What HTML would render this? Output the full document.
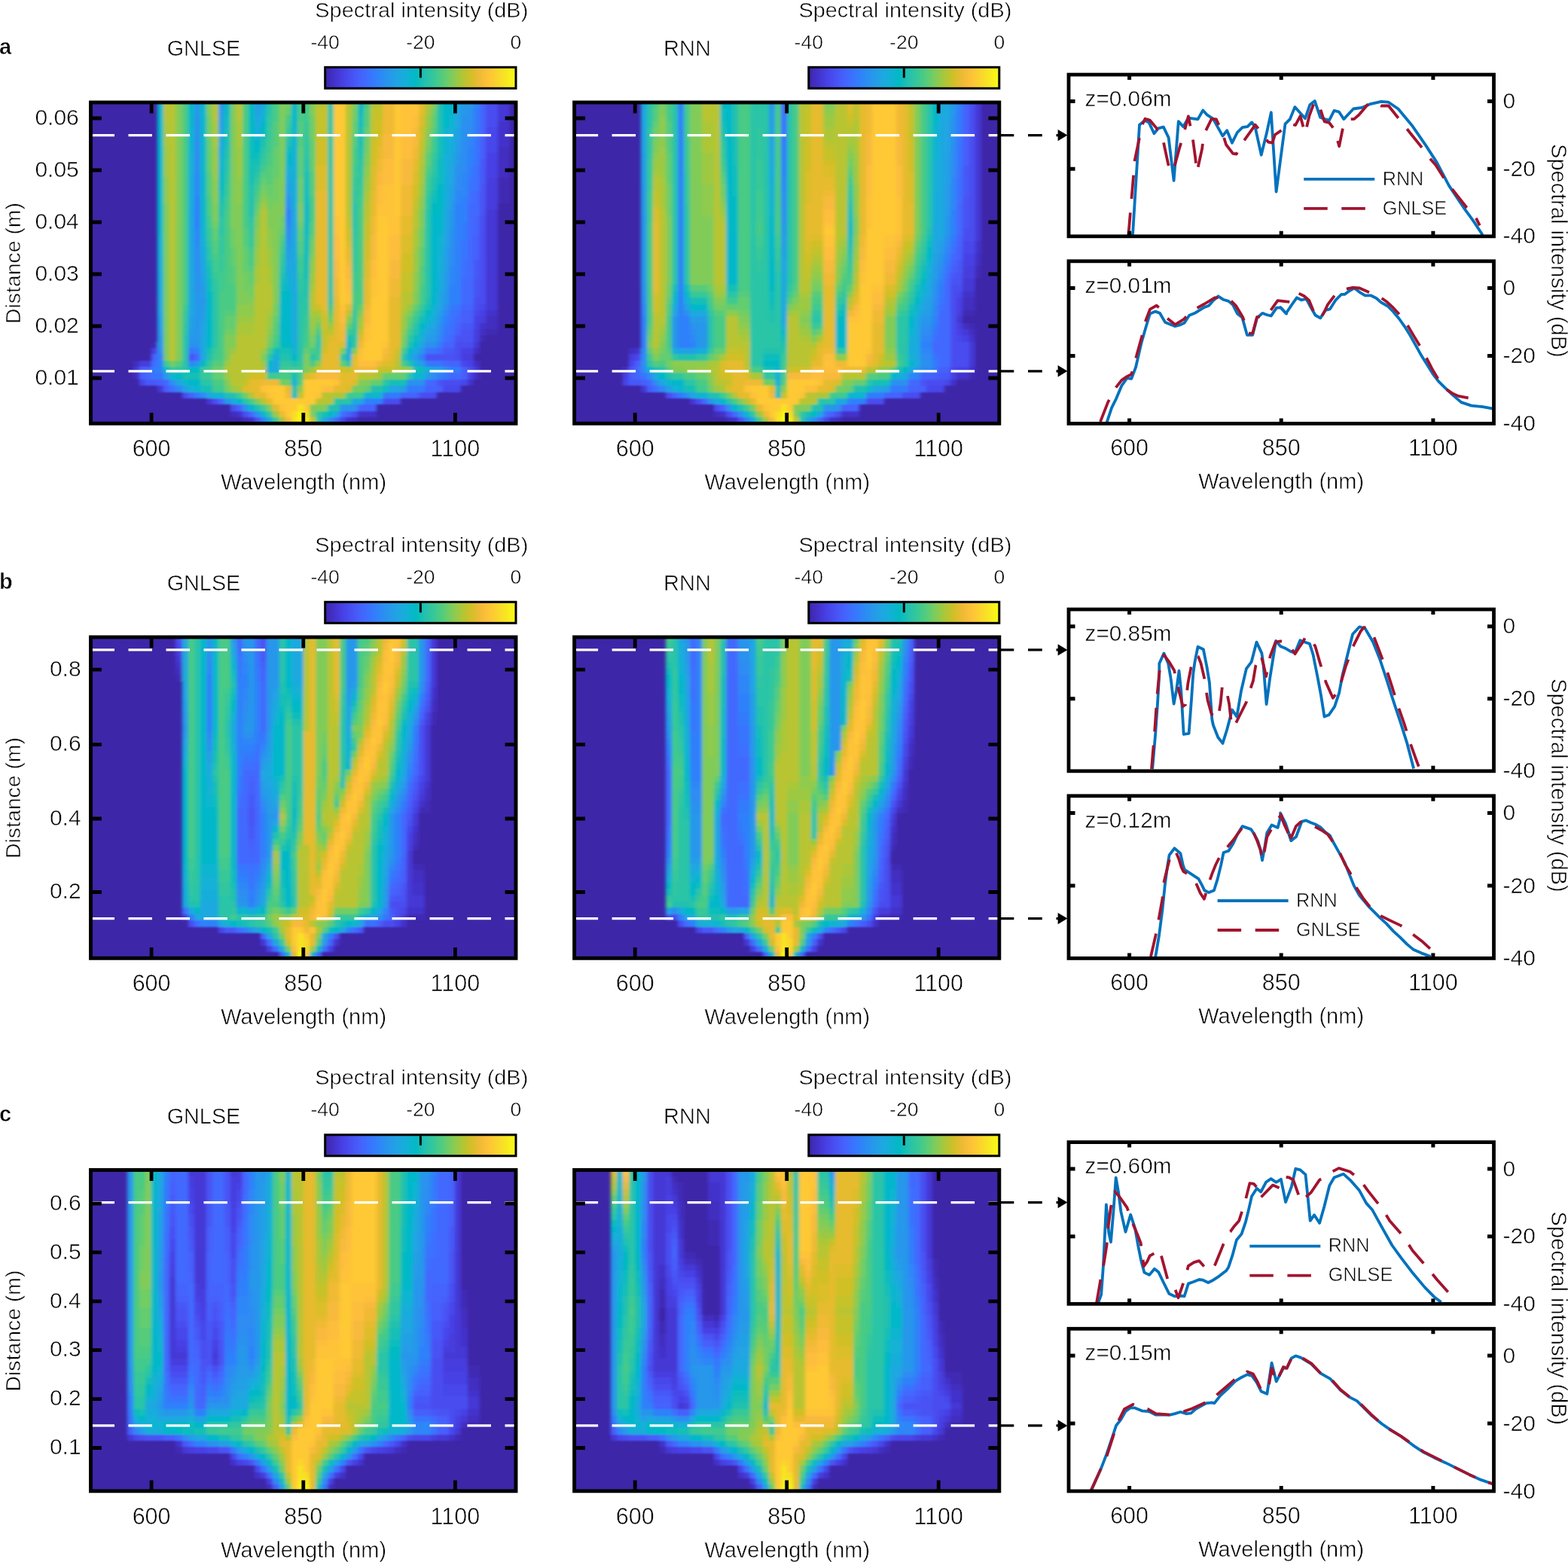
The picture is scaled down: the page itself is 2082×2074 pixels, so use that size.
<!DOCTYPE html><html><head><meta charset="utf-8"><title>Figure</title><style>html,body{margin:0;padding:0;background:#fff;width:2082px;height:2074px;overflow:hidden}</style></head><body><svg width="2082" height="2074" viewBox="0 0 2082 2074" style="display:block;font-family:'Liberation Sans', Arial, sans-serif">
<defs><linearGradient id="cbg" x1="0" x2="1" y1="0" y2="0"><stop offset="0.000" stop-color="#3e26a8"/><stop offset="0.048" stop-color="#4332cb"/><stop offset="0.095" stop-color="#4741e5"/><stop offset="0.143" stop-color="#4852f4"/><stop offset="0.190" stop-color="#4563fd"/><stop offset="0.238" stop-color="#3875fe"/><stop offset="0.286" stop-color="#2e87f7"/><stop offset="0.333" stop-color="#2797eb"/><stop offset="0.381" stop-color="#20a5e3"/><stop offset="0.429" stop-color="#12b1d6"/><stop offset="0.476" stop-color="#02bac3"/><stop offset="0.524" stop-color="#24c1ae"/><stop offset="0.571" stop-color="#37c897"/><stop offset="0.619" stop-color="#57cc7a"/><stop offset="0.667" stop-color="#81cc59"/><stop offset="0.714" stop-color="#abc739"/><stop offset="0.762" stop-color="#d1bf27"/><stop offset="0.810" stop-color="#f0ba36"/><stop offset="0.857" stop-color="#fec338"/><stop offset="0.905" stop-color="#fad62c"/><stop offset="0.952" stop-color="#f7e921"/><stop offset="1.000" stop-color="#f9fb15"/><stop offset="1" stop-color="#f9fb15"/></linearGradient><filter id="hblur" x="-2%" y="-2%" width="104%" height="104%"><feGaussianBlur stdDeviation="2.2 0.8"/></filter></defs>
<style>text{stroke:#fff;stroke-width:0.55px;stroke-linejoin:round}</style>
<rect width="2082" height="2074" fill="#fff"/>
<g transform="translate(0 0.0)">
<text x="-1.0" y="71.7" font-size="29" text-anchor="start" font-weight="bold">a</text>
<text x="270.5" y="74.3" font-size="28.8" text-anchor="middle">GNLSE</text>
<text x="418.3" y="22.5" font-size="27.5" textLength="283" lengthAdjust="spacingAndGlyphs">Spectral intensity (dB)</text>
<text x="431.7" y="64.9" font-size="26.6" text-anchor="middle">-40</text>
<text x="558.4" y="64.9" font-size="26.6" text-anchor="middle">-20</text>
<text x="685.0" y="64.9" font-size="26.6" text-anchor="middle">0</text>
<rect x="431.7" y="89.3" width="253.3" height="28" fill="url(#cbg)" stroke="#000" stroke-width="3"/>
<line x1="558.4" y1="90.8" x2="558.4" y2="103.3" stroke="#000" stroke-width="3"/>
<clipPath id="hc00"><rect x="120.5" y="136.0" width="564.5" height="426.3"/></clipPath>
<rect x="120.5" y="136.0" width="564.5" height="426.3" fill="#3e26a8"/>
<g clip-path="url(#hc00)"><g filter="url(#hblur)" shape-rendering="crispEdges"><path fill="#402ab4" d="M660.8 236.3H676.9V269.7H660.8zM644.7 436.9H660.8V445.3H644.7zM636.6 445.3H644.7V453.6H636.6zM201.1 453.6H209.2V462.0H201.1z"/><path fill="#422ec0" d="M660.8 194.5H676.9V236.3H660.8zM644.7 420.2H660.8V436.9H644.7zM636.6 436.9H644.7V445.3H636.6zM628.6 462.0H636.6V470.4H628.6zM176.9 478.7H185.0V487.1H176.9zM628.6 478.7H636.6V487.1H628.6zM176.9 495.4H185.0V503.8H176.9zM628.6 495.4H636.6V503.8H628.6zM306.0 545.6H314.0V553.9H306.0zM322.1 553.9H330.2V562.3H322.1zM467.3 553.9H475.3V562.3H467.3z"/><path fill="#4332cb" d="M660.8 161.1H676.9V194.5H660.8zM644.7 411.8H660.8V420.2H644.7zM636.6 428.6H644.7V436.9H636.6zM620.5 503.8H628.6V512.1H620.5zM314.0 545.6H322.1V553.9H314.0zM475.3 545.6H499.5V553.9H475.3zM330.2 553.9H338.2V562.3H330.2zM459.2 553.9H467.3V562.3H459.2z"/><path fill="#4537d5" d="M660.8 136.0H676.9V161.1H660.8zM644.7 278.1H660.8V411.8H644.7zM628.6 453.6H636.6V462.0H628.6zM176.9 487.1H185.0V495.4H176.9zM628.6 487.1H636.6V495.4H628.6zM209.2 512.1H217.3V520.5H209.2zM273.7 528.9H281.8V537.2H273.7z"/><path fill="#463cde" d="M644.7 236.3H660.8V278.1H644.7zM636.6 420.2H644.7V428.6H636.6zM628.6 436.9H636.6V453.6H628.6zM612.4 470.4H628.6V478.7H612.4zM185.0 478.7H201.1V487.1H185.0z"/><path fill="#4741e5" d="M644.7 202.9H660.8V236.3H644.7zM636.6 411.8H644.7V420.2H636.6zM628.6 420.2H636.6V436.9H628.6zM201.1 462.0H209.2V470.4H201.1zM612.4 462.0H628.6V470.4H612.4zM620.5 478.7H628.6V487.1H620.5zM620.5 495.4H628.6V503.8H620.5z"/><path fill="#4747eb" d="M644.7 169.4H660.8V202.9H644.7zM636.6 403.5H644.7V411.8H636.6zM628.6 411.8H636.6V420.2H628.6zM612.4 478.7H620.5V487.1H612.4zM185.0 503.8H193.1V512.1H185.0zM612.4 503.8H620.5V512.1H612.4zM588.2 512.1H612.4V520.5H588.2zM451.1 553.9H459.2V562.3H451.1z"/><path fill="#484df0" d="M644.7 136.0H660.8V169.4H644.7zM636.6 286.5H644.7V403.5H636.6zM628.6 395.1H636.6V411.8H628.6zM604.4 453.6H628.6V462.0H604.4zM604.4 462.0H612.4V478.7H604.4zM620.5 487.1H628.6V495.4H620.5zM588.2 503.8H612.4V512.1H588.2zM241.5 520.5H249.5V528.9H241.5zM556.0 520.5H580.2V528.9H556.0zM281.8 528.9H289.9V537.2H281.8zM507.6 528.9H531.8V537.2H507.6zM306.0 537.2H314.0V545.6H306.0zM322.1 545.6H330.2V553.9H322.1zM467.3 545.6H475.3V553.9H467.3z"/><path fill="#4852f4" d="M636.6 244.7H644.7V286.5H636.6zM628.6 370.0H636.6V395.1H628.6zM612.4 436.9H628.6V453.6H612.4zM604.4 445.3H612.4V453.6H604.4zM249.5 470.4H257.6V478.7H249.5zM564.0 470.4H604.4V478.7H564.0zM580.2 503.8H588.2V512.1H580.2zM338.2 553.9H346.3V562.3H338.2z"/><path fill="#4758f8" d="M636.6 211.2H644.7V244.7H636.6zM628.6 345.0H636.6V370.0H628.6zM612.4 428.6H628.6V436.9H612.4zM588.2 462.0H604.4V470.4H588.2zM193.1 503.8H209.2V512.1H193.1z"/><path fill="#465efb" d="M636.6 177.8H644.7V211.2H636.6zM628.6 311.5H636.6V345.0H628.6zM612.4 411.8H628.6V428.6H612.4zM604.4 436.9H612.4V445.3H604.4zM185.0 487.1H201.1V495.4H185.0zM612.4 487.1H620.5V503.8H612.4zM185.0 495.4H193.1V503.8H185.0zM209.2 503.8H217.3V512.1H209.2zM217.3 512.1H225.3V520.5H217.3zM580.2 512.1H588.2V520.5H580.2zM459.2 545.6H467.3V553.9H459.2z"/><path fill="#4563fd" d="M636.6 136.0H644.7V177.8H636.6zM628.6 286.5H636.6V311.5H628.6zM612.4 403.5H628.6V411.8H612.4zM604.4 428.6H612.4V436.9H604.4zM588.2 453.6H604.4V462.0H588.2zM201.1 470.4H209.2V478.7H201.1zM596.3 478.7H612.4V487.1H596.3zM564.0 512.1H580.2V520.5H564.0zM249.5 520.5H257.6V528.9H249.5zM531.8 520.5H556.0V528.9H531.8zM314.0 537.2H322.1V545.6H314.0zM475.3 537.2H499.5V545.6H475.3z"/><path fill="#4269fe" d="M628.6 253.0H636.6V286.5H628.6zM620.5 269.7H628.6V403.5H620.5zM612.4 370.0H620.5V403.5H612.4zM604.4 420.2H612.4V428.6H604.4zM596.3 445.3H604.4V453.6H596.3zM580.2 462.0H588.2V470.4H580.2zM257.6 470.4H265.7V478.7H257.6zM588.2 478.7H596.3V487.1H588.2zM193.1 495.4H201.1V503.8H193.1zM596.3 495.4H612.4V503.8H596.3zM217.3 503.8H225.3V512.1H217.3zM564.0 503.8H580.2V512.1H564.0zM289.9 528.9H297.9V537.2H289.9zM330.2 545.6H338.2V553.9H330.2zM443.1 553.9H451.1V562.3H443.1z"/><path fill="#3e6fff" d="M628.6 219.6H636.6V253.0H628.6zM620.5 253.0H628.6V269.7H620.5zM612.4 345.0H620.5V370.0H612.4zM604.4 411.8H612.4V420.2H604.4zM596.3 428.6H604.4V445.3H596.3zM588.2 445.3H596.3V453.6H588.2zM201.1 478.7H209.2V487.1H201.1zM225.3 512.1H233.4V520.5H225.3zM451.1 545.6H459.2V553.9H451.1z"/><path fill="#3875fe" d="M628.6 186.2H636.6V219.6H628.6zM620.5 236.3H628.6V253.0H620.5zM612.4 319.9H620.5V345.0H612.4zM604.4 403.5H612.4V411.8H604.4zM596.3 411.8H604.4V428.6H596.3zM588.2 436.9H596.3V445.3H588.2zM249.5 462.0H257.6V470.4H249.5zM564.0 462.0H580.2V470.4H564.0zM572.1 478.7H588.2V487.1H572.1zM201.1 495.4H217.3V503.8H201.1zM588.2 495.4H596.3V503.8H588.2z"/><path fill="#327cfc" d="M628.6 144.4H636.6V186.2H628.6zM620.5 219.6H628.6V236.3H620.5zM612.4 294.8H620.5V319.9H612.4zM596.3 403.5H604.4V411.8H596.3zM588.2 428.6H596.3V436.9H588.2zM580.2 453.6H588.2V462.0H580.2zM564.0 478.7H572.1V487.1H564.0zM201.1 487.1H209.2V495.4H201.1zM596.3 487.1H612.4V495.4H596.3zM539.8 512.1H564.0V520.5H539.8zM257.6 520.5H265.7V528.9H257.6zM507.6 520.5H531.8V528.9H507.6z"/><path fill="#2f81fa" d="M628.6 136.0H636.6V144.4H628.6zM620.5 194.5H628.6V219.6H620.5zM257.6 261.4H265.7V303.2H257.6zM612.4 261.4H620.5V294.8H612.4zM604.4 269.7H612.4V403.5H604.4zM378.6 278.1H386.6V294.8H378.6zM596.3 378.4H604.4V403.5H596.3zM588.2 420.2H596.3V428.6H588.2zM257.6 462.0H265.7V470.4H257.6zM209.2 470.4H217.3V495.4H209.2zM556.0 470.4H564.0V478.7H556.0zM580.2 495.4H588.2V503.8H580.2zM483.4 528.9H507.6V537.2H483.4zM346.3 553.9H354.4V562.3H346.3z"/><path fill="#2e87f7" d="M620.5 177.8H628.6V194.5H620.5zM257.6 227.9H265.7V261.4H257.6zM612.4 227.9H620.5V261.4H612.4zM604.4 253.0H612.4V269.7H604.4zM378.6 294.8H386.6V303.2H378.6zM257.6 303.2H265.7V328.3H257.6zM596.3 353.3H604.4V378.4H596.3zM588.2 411.8H596.3V420.2H588.2zM580.2 445.3H588.2V453.6H580.2zM249.5 478.7H257.6V487.1H249.5zM233.4 512.1H241.5V520.5H233.4z"/><path fill="#2d8cf3" d="M620.5 161.1H628.6V177.8H620.5zM257.6 186.2H265.7V227.9H257.6zM612.4 186.2H620.5V227.9H612.4zM604.4 236.3H612.4V253.0H604.4zM378.6 269.7H386.6V278.1H378.6zM378.6 303.2H386.6V311.5H378.6zM257.6 328.3H265.7V361.7H257.6zM596.3 328.3H604.4V353.3H596.3zM580.2 436.9H588.2V445.3H580.2zM209.2 462.0H217.3V470.4H209.2zM588.2 487.1H596.3V495.4H588.2zM572.1 495.4H580.2V503.8H572.1zM265.7 520.5H273.7V528.9H265.7zM435.0 553.9H443.1V562.3H435.0z"/><path fill="#2b91ef" d="M620.5 144.4H628.6V161.1H620.5zM257.6 152.7H265.7V186.2H257.6zM612.4 152.7H620.5V186.2H612.4zM604.4 219.6H612.4V236.3H604.4zM378.6 261.4H386.6V269.7H378.6zM596.3 303.2H604.4V328.3H596.3zM378.6 311.5H386.6V319.9H378.6zM257.6 361.7H265.7V386.8H257.6zM588.2 403.5H596.3V411.8H588.2zM580.2 428.6H588.2V436.9H580.2zM249.5 453.6H265.7V462.0H249.5zM564.0 453.6H580.2V462.0H564.0zM225.3 503.8H233.4V512.1H225.3zM539.8 503.8H564.0V512.1H539.8zM322.1 537.2H330.2V545.6H322.1zM467.3 537.2H475.3V545.6H467.3zM338.2 545.6H346.3V553.9H338.2z"/><path fill="#2797eb" d="M257.6 136.0H265.7V152.7H257.6zM289.9 136.0H297.9V144.4H289.9zM612.4 136.0H628.6V144.4H612.4zM612.4 144.4H620.5V152.7H612.4zM604.4 202.9H612.4V219.6H604.4zM596.3 278.1H604.4V303.2H596.3zM378.6 319.9H386.6V328.3H378.6zM257.6 386.8H265.7V453.6H257.6zM588.2 386.8H596.3V403.5H588.2zM265.7 395.1H273.7V403.5H265.7zM580.2 420.2H588.2V428.6H580.2zM209.2 445.3H217.3V462.0H209.2zM249.5 445.3H257.6V453.6H249.5zM556.0 462.0H564.0V470.4H556.0zM257.6 478.7H265.7V487.1H257.6zM297.9 528.9H306.0V537.2H297.9zM451.1 537.2H467.3V545.6H451.1z"/><path fill="#259be8" d="M338.2 136.0H346.3V144.4H338.2zM289.9 144.4H297.9V152.7H289.9zM604.4 186.2H612.4V202.9H604.4zM378.6 253.0H386.6V261.4H378.6zM596.3 261.4H604.4V278.1H596.3zM378.6 328.3H386.6V336.6H378.6zM588.2 361.7H596.3V386.8H588.2zM265.7 378.4H273.7V395.1H265.7zM265.7 403.5H273.7V420.2H265.7zM209.2 436.9H217.3V445.3H209.2zM249.5 436.9H257.6V445.3H249.5zM564.0 445.3H580.2V453.6H564.0zM547.9 470.4H556.0V478.7H547.9zM217.3 495.4H225.3V503.8H217.3zM564.0 495.4H572.1V503.8H564.0z"/><path fill="#23a0e5" d="M338.2 144.4H346.3V152.7H338.2zM289.9 152.7H297.9V169.4H289.9zM604.4 169.4H612.4V186.2H604.4zM378.6 244.7H386.6V253.0H378.6zM596.3 244.7H604.4V261.4H596.3zM588.2 328.3H596.3V361.7H588.2zM378.6 336.6H386.6V345.0H378.6zM265.7 361.7H273.7V378.4H265.7zM580.2 411.8H588.2V420.2H580.2zM209.2 420.2H217.3V436.9H209.2zM249.5 420.2H257.6V436.9H249.5zM265.7 420.2H273.7V428.6H265.7zM572.1 436.9H580.2V445.3H572.1zM556.0 478.7H564.0V487.1H556.0zM572.1 487.1H588.2V495.4H572.1zM241.5 512.1H249.5V520.5H241.5zM531.8 512.1H539.8V520.5H531.8z"/><path fill="#20a5e3" d="M604.4 144.4H612.4V169.4H604.4zM338.2 152.7H346.3V161.1H338.2zM289.9 169.4H297.9V177.8H289.9zM596.3 219.6H604.4V244.7H596.3zM378.6 236.3H386.6V244.7H378.6zM588.2 303.2H596.3V328.3H588.2zM378.6 345.0H386.6V353.3H378.6zM265.7 353.3H273.7V361.7H265.7zM580.2 403.5H588.2V411.8H580.2zM209.2 411.8H217.3V420.2H209.2zM249.5 411.8H257.6V420.2H249.5zM265.7 428.6H273.7V445.3H265.7zM572.1 428.6H580.2V436.9H572.1zM564.0 436.9H572.1V445.3H564.0zM556.0 453.6H564.0V462.0H556.0zM233.4 503.8H241.5V512.1H233.4zM515.7 512.1H531.8V520.5H515.7zM273.7 520.5H281.8V528.9H273.7zM443.1 545.6H451.1V553.9H443.1zM426.9 553.9H435.0V562.3H426.9z"/><path fill="#1ca9df" d="M604.4 136.0H612.4V144.4H604.4zM338.2 161.1H346.3V169.4H338.2zM289.9 177.8H297.9V186.2H289.9zM596.3 202.9H604.4V219.6H596.3zM249.5 278.1H257.6V411.8H249.5zM386.6 278.1H394.7V453.6H386.6zM588.2 278.1H596.3V303.2H588.2zM265.7 336.6H273.7V353.3H265.7zM378.6 353.3H386.6V361.7H378.6zM209.2 386.8H217.3V411.8H209.2zM580.2 386.8H588.2V403.5H580.2zM265.7 445.3H273.7V478.7H265.7zM547.9 462.0H556.0V470.4H547.9zM362.4 478.7H370.5V495.4H362.4zM306.0 528.9H314.0V537.2H306.0zM467.3 528.9H483.4V537.2H467.3z"/><path fill="#18addb" d="M346.3 136.0H354.4V144.4H346.3zM338.2 169.4H346.3V177.8H338.2zM289.9 186.2H297.9V202.9H289.9zM596.3 186.2H604.4V202.9H596.3zM378.6 227.9H386.6V236.3H378.6zM249.5 236.3H257.6V278.1H249.5zM386.6 236.3H394.7V278.1H386.6zM588.2 236.3H596.3V278.1H588.2zM265.7 328.3H273.7V336.6H265.7zM209.2 361.7H217.3V386.8H209.2zM378.6 361.7H386.6V370.0H378.6zM580.2 361.7H588.2V386.8H580.2zM572.1 420.2H580.2V428.6H572.1zM564.0 428.6H572.1V436.9H564.0zM386.6 453.6H394.7V462.0H386.6zM362.4 470.4H370.5V478.7H362.4zM459.2 470.4H467.3V478.7H459.2zM539.8 470.4H547.9V478.7H539.8zM547.9 478.7H556.0V487.1H547.9zM354.4 487.1H362.4V495.4H354.4zM564.0 487.1H572.1V495.4H564.0zM354.4 553.9H362.4V562.3H354.4z"/><path fill="#12b1d6" d="M346.3 144.4H354.4V152.7H346.3zM596.3 169.4H604.4V186.2H596.3zM338.2 177.8H346.3V186.2H338.2zM249.5 202.9H257.6V236.3H249.5zM289.9 202.9H297.9V211.2H289.9zM386.6 202.9H394.7V236.3H386.6zM588.2 202.9H596.3V236.3H588.2zM378.6 219.6H386.6V227.9H378.6zM265.7 311.5H273.7V328.3H265.7zM209.2 336.6H217.3V361.7H209.2zM580.2 336.6H588.2V361.7H580.2zM378.6 370.0H386.6V378.4H378.6zM572.1 411.8H580.2V420.2H572.1zM556.0 445.3H564.0V453.6H556.0zM386.6 462.0H394.7V470.4H386.6zM459.2 462.0H467.3V470.4H459.2zM386.6 503.8H394.7V512.1H386.6zM249.5 512.1H257.6V520.5H249.5z"/><path fill="#08b5d0" d="M346.3 152.7H354.4V161.1H346.3zM596.3 152.7H604.4V169.4H596.3zM249.5 169.4H257.6V202.9H249.5zM386.6 169.4H394.7V202.9H386.6zM588.2 169.4H596.3V202.9H588.2zM289.9 211.2H297.9V227.9H289.9zM265.7 294.8H273.7V311.5H265.7zM209.2 311.5H217.3V336.6H209.2zM580.2 311.5H588.2V336.6H580.2zM378.6 378.4H386.6V386.8H378.6zM572.1 403.5H580.2V411.8H572.1zM564.0 420.2H572.1V428.6H564.0zM556.0 436.9H564.0V445.3H556.0zM225.3 495.4H233.4V503.8H225.3zM547.9 495.4H564.0V503.8H547.9zM241.5 503.8H249.5V512.1H241.5zM257.6 512.1H265.7V520.5H257.6zM281.8 520.5H297.9V528.9H281.8zM483.4 520.5H507.6V528.9H483.4zM346.3 545.6H354.4V553.9H346.3z"/><path fill="#01b8ca" d="M209.2 136.0H217.3V311.5H209.2zM249.5 136.0H257.6V169.4H249.5zM265.7 136.0H273.7V294.8H265.7zM386.6 136.0H394.7V169.4H386.6zM588.2 136.0H604.4V152.7H588.2zM588.2 152.7H596.3V169.4H588.2zM346.3 161.1H354.4V169.4H346.3zM338.2 186.2H346.3V194.5H338.2zM378.6 211.2H386.6V219.6H378.6zM289.9 227.9H297.9V236.3H289.9zM572.1 286.5H588.2V311.5H572.1zM572.1 311.5H580.2V403.5H572.1zM378.6 386.8H386.6V453.6H378.6zM273.7 395.1H281.8V453.6H273.7zM370.5 395.1H378.6V453.6H370.5zM459.2 453.6H467.3V462.0H459.2zM547.9 453.6H556.0V462.0H547.9zM539.8 462.0H547.9V470.4H539.8zM386.6 470.4H394.7V478.7H386.6zM249.5 503.8H265.7V512.1H249.5zM314.0 528.9H322.1V537.2H314.0zM330.2 537.2H338.2V545.6H330.2z"/><path fill="#02bac3" d="M297.9 136.0H306.0V152.7H297.9zM330.2 136.0H338.2V177.8H330.2zM475.3 136.0H483.4V152.7H475.3zM346.3 169.4H354.4V177.8H346.3zM338.2 194.5H346.3V202.9H338.2zM378.6 202.9H386.6V211.2H378.6zM289.9 236.3H297.9V253.0H289.9zM580.2 244.7H588.2V286.5H580.2zM402.8 269.7H410.8V311.5H402.8zM572.1 269.7H580.2V286.5H572.1zM273.7 386.8H281.8V395.1H273.7zM370.5 386.8H378.6V395.1H370.5zM564.0 411.8H572.1V420.2H564.0zM556.0 428.6H564.0V436.9H556.0zM273.7 453.6H281.8V462.0H273.7zM370.5 453.6H386.6V462.0H370.5zM265.7 478.7H273.7V487.1H265.7zM354.4 478.7H362.4V487.1H354.4zM249.5 487.1H265.7V495.4H249.5zM233.4 495.4H241.5V503.8H233.4zM435.0 545.6H443.1V553.9H435.0z"/><path fill="#0bbdbd" d="M297.9 152.7H306.0V169.4H297.9zM475.3 152.7H483.4V169.4H475.3zM330.2 177.8H338.2V211.2H330.2zM378.6 194.5H386.6V202.9H378.6zM338.2 202.9H346.3V211.2H338.2zM580.2 211.2H588.2V244.7H580.2zM402.8 244.7H410.8V269.7H402.8zM289.9 253.0H297.9V261.4H289.9zM572.1 261.4H580.2V269.7H572.1zM402.8 311.5H410.8V345.0H402.8zM273.7 370.0H281.8V386.8H273.7zM370.5 378.4H378.6V386.8H370.5zM547.9 445.3H556.0V453.6H547.9zM362.4 462.0H370.5V470.4H362.4zM217.3 487.1H225.3V495.4H217.3zM556.0 487.1H564.0V495.4H556.0zM507.6 512.1H515.7V520.5H507.6zM386.6 520.5H394.7V528.9H386.6z"/><path fill="#19bfb6" d="M297.9 169.4H306.0V194.5H297.9zM475.3 169.4H483.4V194.5H475.3zM346.3 177.8H354.4V186.2H346.3zM580.2 177.8H588.2V211.2H580.2zM330.2 211.2H346.3V219.6H330.2zM330.2 219.6H338.2V244.7H330.2zM402.8 227.9H410.8V244.7H402.8zM572.1 253.0H580.2V261.4H572.1zM289.9 261.4H297.9V269.7H289.9zM402.8 345.0H410.8V370.0H402.8zM273.7 353.3H281.8V370.0H273.7zM370.5 370.0H378.6V378.4H370.5zM564.0 403.5H572.1V411.8H564.0zM556.0 420.2H564.0V428.6H556.0zM459.2 445.3H467.3V453.6H459.2zM273.7 462.0H281.8V470.4H273.7zM370.5 462.0H386.6V470.4H370.5zM547.9 487.1H556.0V495.4H547.9zM241.5 495.4H265.7V503.8H241.5zM386.6 495.4H394.7V503.8H386.6zM515.7 503.8H539.8V512.1H515.7zM265.7 512.1H281.8V520.5H265.7zM426.9 545.6H435.0V553.9H426.9z"/><path fill="#24c1ae" d="M580.2 136.0H588.2V177.8H580.2zM346.3 186.2H354.4V194.5H346.3zM378.6 186.2H386.6V194.5H378.6zM297.9 194.5H306.0V211.2H297.9zM475.3 194.5H483.4V211.2H475.3zM402.8 211.2H410.8V227.9H402.8zM338.2 219.6H346.3V227.9H338.2zM572.1 236.3H580.2V253.0H572.1zM330.2 244.7H338.2V286.5H330.2zM289.9 269.7H297.9V286.5H289.9zM273.7 345.0H281.8V353.3H273.7zM370.5 361.7H378.6V370.0H370.5zM402.8 370.0H410.8V395.1H402.8zM564.0 395.1H572.1V403.5H564.0zM547.9 436.9H556.0V445.3H547.9zM539.8 453.6H547.9V462.0H539.8zM273.7 470.4H281.8V478.7H273.7zM370.5 470.4H386.6V478.7H370.5zM386.6 478.7H394.7V487.1H386.6zM539.8 478.7H547.9V487.1H539.8zM386.6 512.1H394.7V520.5H386.6zM491.5 512.1H507.6V520.5H491.5zM297.9 520.5H314.0V528.9H297.9zM338.2 537.2H346.3V545.6H338.2zM435.0 537.2H451.1V545.6H435.0z"/><path fill="#2cc4a7" d="M354.4 136.0H362.4V152.7H354.4zM435.0 136.0H443.1V403.5H435.0zM378.6 177.8H386.6V186.2H378.6zM346.3 194.5H354.4V202.9H346.3zM402.8 194.5H410.8V211.2H402.8zM297.9 211.2H306.0V227.9H297.9zM475.3 211.2H483.4V227.9H475.3zM338.2 227.9H346.3V236.3H338.2zM572.1 227.9H580.2V236.3H572.1zM467.3 269.7H475.3V311.5H467.3zM564.0 278.1H572.1V395.1H564.0zM289.9 286.5H297.9V311.5H289.9zM330.2 286.5H338.2V294.8H330.2zM273.7 328.3H281.8V345.0H273.7zM370.5 353.3H378.6V361.7H370.5zM281.8 386.8H289.9V462.0H281.8zM394.7 386.8H402.8V478.7H394.7zM402.8 395.1H410.8V411.8H402.8zM556.0 411.8H564.0V420.2H556.0zM547.9 428.6H556.0V436.9H547.9zM241.5 445.3H249.5V495.4H241.5zM467.3 445.3H475.3V453.6H467.3zM418.9 453.6H426.9V462.0H418.9zM354.4 470.4H362.4V478.7H354.4zM410.8 470.4H418.9V478.7H410.8zM531.8 470.4H539.8V478.7H531.8zM539.8 495.4H547.9V503.8H539.8zM265.7 503.8H281.8V512.1H265.7zM507.6 503.8H515.7V512.1H507.6zM322.1 528.9H330.2V537.2H322.1zM443.1 528.9H467.3V537.2H443.1zM418.9 553.9H426.9V562.3H418.9z"/><path fill="#31c69f" d="M354.4 152.7H362.4V169.4H354.4zM402.8 177.8H410.8V194.5H402.8zM346.3 202.9H354.4V211.2H346.3zM572.1 211.2H580.2V227.9H572.1zM297.9 227.9H306.0V244.7H297.9zM475.3 227.9H483.4V244.7H475.3zM467.3 253.0H475.3V269.7H467.3zM564.0 261.4H572.1V278.1H564.0zM330.2 294.8H338.2V311.5H330.2zM289.9 311.5H297.9V336.6H289.9zM467.3 311.5H475.3V336.6H467.3zM273.7 319.9H281.8V328.3H273.7zM370.5 345.0H378.6V353.3H370.5zM281.8 370.0H289.9V386.8H281.8zM394.7 370.0H402.8V386.8H394.7zM402.8 411.8H410.8V420.2H402.8zM241.5 428.6H249.5V445.3H241.5zM467.3 428.6H475.3V445.3H467.3zM418.9 445.3H426.9V453.6H418.9zM539.8 445.3H547.9V453.6H539.8zM467.3 453.6H475.3V462.0H467.3zM451.1 470.4H459.2V478.7H451.1zM273.7 478.7H281.8V487.1H273.7zM370.5 478.7H386.6V487.1H370.5zM394.7 478.7H402.8V487.1H394.7zM459.2 478.7H467.3V487.1H459.2zM233.4 487.1H241.5V495.4H233.4zM354.4 545.6H362.4V553.9H354.4zM418.9 545.6H426.9V553.9H418.9z"/><path fill="#37c897" d="M402.8 161.1H410.8V177.8H402.8zM354.4 169.4H362.4V186.2H354.4zM378.6 169.4H386.6V177.8H378.6zM572.1 202.9H580.2V211.2H572.1zM346.3 211.2H354.4V219.6H346.3zM338.2 236.3H346.3V244.7H338.2zM467.3 236.3H475.3V253.0H467.3zM297.9 244.7H306.0V261.4H297.9zM475.3 244.7H483.4V261.4H475.3zM564.0 253.0H572.1V261.4H564.0zM273.7 303.2H281.8V319.9H273.7zM330.2 311.5H338.2V328.3H330.2zM289.9 336.6H297.9V361.7H289.9zM370.5 336.6H378.6V345.0H370.5zM467.3 336.6H475.3V361.7H467.3zM281.8 361.7H289.9V370.0H281.8zM394.7 361.7H402.8V370.0H394.7zM435.0 403.5H443.1V411.8H435.0zM556.0 403.5H564.0V411.8H556.0zM241.5 411.8H249.5V428.6H241.5zM467.3 411.8H475.3V428.6H467.3zM402.8 420.2H410.8V436.9H402.8zM547.9 420.2H556.0V428.6H547.9zM459.2 436.9H467.3V445.3H459.2zM281.8 462.0H289.9V470.4H281.8zM418.9 462.0H426.9V470.4H418.9zM225.3 487.1H233.4V495.4H225.3zM265.7 487.1H273.7V503.8H265.7zM273.7 495.4H281.8V503.8H273.7z"/><path fill="#3fca8e" d="M402.8 144.4H410.8V161.1H402.8zM378.6 161.1H386.6V169.4H378.6zM354.4 186.2H362.4V202.9H354.4zM572.1 186.2H580.2V202.9H572.1zM346.3 219.6H354.4V227.9H346.3zM467.3 219.6H475.3V236.3H467.3zM564.0 236.3H572.1V253.0H564.0zM338.2 244.7H346.3V253.0H338.2zM297.9 261.4H306.0V278.1H297.9zM475.3 261.4H483.4V278.1H475.3zM273.7 286.5H281.8V303.2H273.7zM330.2 328.3H338.2V336.6H330.2zM370.5 328.3H378.6V336.6H370.5zM281.8 345.0H289.9V361.7H281.8zM394.7 345.0H402.8V361.7H394.7zM289.9 361.7H297.9V386.8H289.9zM467.3 361.7H475.3V386.8H467.3zM241.5 403.5H249.5V411.8H241.5zM467.3 403.5H475.3V411.8H467.3zM402.8 436.9H410.8V453.6H402.8zM539.8 436.9H547.9V445.3H539.8zM362.4 453.6H370.5V462.0H362.4zM281.8 470.4H289.9V478.7H281.8zM418.9 470.4H426.9V478.7H418.9zM217.3 478.7H225.3V487.1H217.3zM273.7 487.1H281.8V495.4H273.7zM370.5 487.1H402.8V495.4H370.5zM354.4 495.4H370.5V503.8H354.4zM281.8 512.1H297.9V520.5H281.8zM314.0 520.5H322.1V528.9H314.0zM459.2 520.5H483.4V528.9H459.2zM346.3 537.2H354.4V545.6H346.3zM362.4 553.9H370.5V562.3H362.4z"/><path fill="#4acb84" d="M241.5 136.0H249.5V403.5H241.5zM322.1 136.0H330.2V303.2H322.1zM362.4 136.0H370.5V161.1H362.4zM394.7 136.0H410.8V144.4H394.7zM483.4 136.0H491.5V144.4H483.4zM394.7 144.4H402.8V161.1H394.7zM378.6 152.7H386.6V161.1H378.6zM572.1 177.8H580.2V186.2H572.1zM467.3 194.5H475.3V219.6H467.3zM354.4 202.9H362.4V219.6H354.4zM564.0 227.9H572.1V236.3H564.0zM338.2 253.0H346.3V261.4H338.2zM273.7 261.4H281.8V286.5H273.7zM410.8 261.4H418.9V294.8H410.8zM297.9 278.1H306.0V411.8H297.9zM475.3 278.1H483.4V403.5H475.3zM370.5 319.9H378.6V328.3H370.5zM281.8 336.6H289.9V345.0H281.8zM330.2 336.6H338.2V353.3H330.2zM394.7 336.6H402.8V345.0H394.7zM306.0 378.4H314.0V411.8H306.0zM556.0 378.4H564.0V403.5H556.0zM289.9 386.8H297.9V478.7H289.9zM467.3 386.8H475.3V403.5H467.3zM547.9 411.8H556.0V420.2H547.9zM418.9 436.9H426.9V445.3H418.9zM362.4 445.3H370.5V453.6H362.4zM402.8 453.6H410.8V462.0H402.8zM354.4 462.0H362.4V470.4H354.4zM410.8 462.0H418.9V470.4H410.8zM531.8 462.0H539.8V470.4H531.8zM410.8 478.7H418.9V487.1H410.8zM531.8 478.7H539.8V487.1H531.8zM370.5 495.4H386.6V503.8H370.5zM394.7 495.4H402.8V503.8H394.7zM281.8 503.8H297.9V512.1H281.8zM330.2 528.9H338.2V537.2H330.2z"/><path fill="#57cc7a" d="M483.4 144.4H491.5V169.4H483.4zM362.4 161.1H370.5V194.5H362.4zM394.7 161.1H402.8V194.5H394.7zM572.1 169.4H580.2V177.8H572.1zM467.3 177.8H475.3V194.5H467.3zM354.4 219.6H362.4V244.7H354.4zM564.0 219.6H572.1V227.9H564.0zM273.7 227.9H281.8V261.4H273.7zM346.3 227.9H354.4V236.3H346.3zM410.8 227.9H418.9V261.4H410.8zM338.2 261.4H346.3V269.7H338.2zM410.8 294.8H418.9V311.5H410.8zM322.1 303.2H330.2V328.3H322.1zM370.5 311.5H378.6V319.9H370.5zM281.8 319.9H289.9V336.6H281.8zM394.7 319.9H402.8V336.6H394.7zM306.0 353.3H314.0V378.4H306.0zM330.2 353.3H338.2V361.7H330.2zM556.0 353.3H564.0V378.4H556.0zM297.9 411.8H314.0V420.2H297.9zM435.0 411.8H443.1V420.2H435.0zM362.4 428.6H370.5V445.3H362.4zM539.8 428.6H547.9V436.9H539.8zM233.4 478.7H241.5V487.1H233.4zM281.8 478.7H297.9V487.1H281.8zM394.7 503.8H402.8V512.1H394.7z"/><path fill="#64cd6f" d="M378.6 144.4H386.6V152.7H378.6zM572.1 152.7H580.2V169.4H572.1zM467.3 161.1H475.3V177.8H467.3zM483.4 169.4H491.5V186.2H483.4zM273.7 186.2H281.8V227.9H273.7zM410.8 186.2H418.9V227.9H410.8zM362.4 194.5H370.5V236.3H362.4zM394.7 194.5H402.8V236.3H394.7zM564.0 202.9H572.1V219.6H564.0zM346.3 236.3H354.4V244.7H346.3zM354.4 244.7H362.4V261.4H354.4zM338.2 269.7H346.3V278.1H338.2zM281.8 303.2H289.9V319.9H281.8zM370.5 303.2H378.6V311.5H370.5zM394.7 303.2H402.8V319.9H394.7zM410.8 311.5H418.9V319.9H410.8zM306.0 328.3H314.0V353.3H306.0zM322.1 328.3H330.2V361.7H322.1zM556.0 328.3H564.0V353.3H556.0zM330.2 361.7H338.2V378.4H330.2zM475.3 403.5H483.4V411.8H475.3zM547.9 403.5H556.0V411.8H547.9zM297.9 420.2H314.0V436.9H297.9zM362.4 420.2H370.5V428.6H362.4zM539.8 420.2H547.9V428.6H539.8zM418.9 428.6H426.9V436.9H418.9zM459.2 428.6H467.3V436.9H459.2zM402.8 462.0H410.8V470.4H402.8zM451.1 478.7H459.2V487.1H451.1zM281.8 495.4H297.9V503.8H281.8zM507.6 495.4H539.8V503.8H507.6zM491.5 503.8H507.6V512.1H491.5zM483.4 512.1H491.5V520.5H483.4z"/><path fill="#72cd64" d="M378.6 136.0H386.6V144.4H378.6zM467.3 144.4H475.3V161.1H467.3zM572.1 144.4H580.2V152.7H572.1zM273.7 152.7H281.8V186.2H273.7zM410.8 152.7H418.9V186.2H410.8zM483.4 186.2H491.5V202.9H483.4zM564.0 194.5H572.1V202.9H564.0zM362.4 236.3H370.5V269.7H362.4zM394.7 236.3H402.8V269.7H394.7zM346.3 244.7H354.4V253.0H346.3zM354.4 261.4H362.4V278.1H354.4zM338.2 278.1H346.3V286.5H338.2zM370.5 286.5H378.6V303.2H370.5zM281.8 294.8H289.9V303.2H281.8zM394.7 294.8H402.8V303.2H394.7zM306.0 303.2H314.0V328.3H306.0zM556.0 303.2H564.0V328.3H556.0zM410.8 319.9H418.9V336.6H410.8zM322.1 361.7H330.2V386.8H322.1zM330.2 378.4H338.2V395.1H330.2zM362.4 403.5H370.5V420.2H362.4zM435.0 420.2H443.1V428.6H435.0zM297.9 436.9H314.0V445.3H297.9zM354.4 453.6H362.4V462.0H354.4zM410.8 453.6H418.9V462.0H410.8zM531.8 453.6H539.8V462.0H531.8zM225.3 478.7H233.4V487.1H225.3zM281.8 487.1H297.9V495.4H281.8zM370.5 503.8H386.6V512.1H370.5zM297.9 512.1H306.0V520.5H297.9zM467.3 512.1H483.4V520.5H467.3zM322.1 520.5H330.2V528.9H322.1z"/><path fill="#81cc59" d="M233.4 136.0H241.5V478.7H233.4zM273.7 136.0H281.8V152.7H273.7zM306.0 136.0H314.0V303.2H306.0zM370.5 136.0H378.6V286.5H370.5zM410.8 136.0H418.9V152.7H410.8zM467.3 136.0H475.3V144.4H467.3zM572.1 136.0H580.2V144.4H572.1zM564.0 177.8H572.1V194.5H564.0zM483.4 202.9H491.5V219.6H483.4zM346.3 253.0H354.4V261.4H346.3zM217.3 269.7H225.3V478.7H217.3zM281.8 269.7H289.9V294.8H281.8zM314.0 269.7H322.1V403.5H314.0zM362.4 269.7H370.5V403.5H362.4zM394.7 269.7H402.8V294.8H394.7zM354.4 278.1H362.4V303.2H354.4zM556.0 278.1H564.0V303.2H556.0zM338.2 286.5H346.3V303.2H338.2zM410.8 336.6H418.9V345.0H410.8zM322.1 386.8H330.2V403.5H322.1zM547.9 386.8H556.0V403.5H547.9zM330.2 395.1H338.2V403.5H330.2zM475.3 411.8H483.4V420.2H475.3zM539.8 411.8H547.9V420.2H539.8zM297.9 445.3H314.0V462.0H297.9zM354.4 445.3H362.4V453.6H354.4zM410.8 445.3H418.9V453.6H410.8zM531.8 445.3H539.8V453.6H531.8zM297.9 462.0H306.0V478.7H297.9zM451.1 462.0H459.2V470.4H451.1zM467.3 462.0H475.3V470.4H467.3zM346.3 470.4H354.4V478.7H346.3zM402.8 470.4H410.8V495.4H402.8zM297.9 503.8H306.0V512.1H297.9zM475.3 503.8H491.5V512.1H475.3zM338.2 528.9H346.3V537.2H338.2zM354.4 537.2H362.4V545.6H354.4zM410.8 537.2H435.0V545.6H410.8zM410.8 545.6H418.9V553.9H410.8z"/><path fill="#8fcb4e" d="M564.0 169.4H572.1V177.8H564.0zM483.4 219.6H491.5V236.3H483.4zM217.3 236.3H225.3V269.7H217.3zM281.8 236.3H289.9V269.7H281.8zM314.0 236.3H322.1V269.7H314.0zM346.3 261.4H354.4V269.7H346.3zM556.0 261.4H564.0V278.1H556.0zM338.2 303.2H346.3V328.3H338.2zM354.4 303.2H362.4V328.3H354.4zM410.8 345.0H418.9V361.7H410.8zM547.9 361.7H556.0V386.8H547.9zM314.0 403.5H338.2V420.2H314.0zM418.9 420.2H426.9V428.6H418.9zM459.2 420.2H467.3V428.6H459.2zM354.4 436.9H362.4V445.3H354.4zM410.8 436.9H418.9V445.3H410.8zM531.8 436.9H539.8V445.3H531.8zM418.9 478.7H426.9V487.1H418.9zM539.8 487.1H547.9V495.4H539.8zM394.7 512.1H402.8V520.5H394.7z"/><path fill="#9dc943" d="M564.0 152.7H572.1V169.4H564.0zM217.3 194.5H225.3V236.3H217.3zM281.8 194.5H289.9V236.3H281.8zM314.0 194.5H322.1V236.3H314.0zM483.4 236.3H491.5V253.0H483.4zM556.0 244.7H564.0V261.4H556.0zM338.2 328.3H346.3V353.3H338.2zM354.4 328.3H362.4V353.3H354.4zM547.9 328.3H556.0V361.7H547.9zM410.8 361.7H418.9V378.4H410.8zM539.8 403.5H547.9V411.8H539.8zM314.0 420.2H338.2V428.6H314.0zM354.4 420.2H362.4V436.9H354.4zM410.8 420.2H418.9V436.9H410.8zM475.3 420.2H483.4V428.6H475.3zM531.8 420.2H539.8V436.9H531.8zM435.0 428.6H443.1V436.9H435.0zM306.0 462.0H314.0V470.4H306.0zM346.3 462.0H354.4V470.4H346.3zM297.9 478.7H306.0V487.1H297.9zM346.3 478.7H354.4V487.1H346.3zM410.8 487.1H418.9V495.4H410.8zM531.8 487.1H539.8V495.4H531.8zM297.9 495.4H306.0V503.8H297.9zM499.5 495.4H507.6V503.8H499.5zM306.0 512.1H314.0V520.5H306.0zM362.4 545.6H370.5V553.9H362.4z"/><path fill="#abc739" d="M564.0 144.4H572.1V152.7H564.0zM217.3 161.1H225.3V194.5H217.3zM281.8 161.1H289.9V194.5H281.8zM314.0 161.1H322.1V194.5H314.0zM556.0 219.6H564.0V244.7H556.0zM483.4 253.0H491.5V269.7H483.4zM346.3 269.7H354.4V278.1H346.3zM547.9 303.2H556.0V328.3H547.9zM338.2 353.3H346.3V378.4H338.2zM354.4 353.3H362.4V378.4H354.4zM410.8 378.4H418.9V386.8H410.8zM354.4 411.8H362.4V420.2H354.4zM410.8 411.8H426.9V420.2H410.8zM531.8 411.8H539.8V420.2H531.8zM314.0 428.6H338.2V445.3H314.0zM475.3 428.6H483.4V436.9H475.3zM314.0 512.1H322.1V520.5H314.0zM443.1 520.5H459.2V528.9H443.1zM370.5 553.9H378.6V562.3H370.5z"/><path fill="#b9c431" d="M217.3 136.0H233.4V161.1H217.3zM281.8 136.0H289.9V161.1H281.8zM314.0 136.0H322.1V161.1H314.0zM418.9 136.0H435.0V144.4H418.9zM459.2 136.0H467.3V286.5H459.2zM491.5 136.0H507.6V144.4H491.5zM564.0 136.0H572.1V144.4H564.0zM225.3 161.1H233.4V478.7H225.3zM556.0 202.9H564.0V219.6H556.0zM483.4 269.7H491.5V294.8H483.4zM346.3 278.1H354.4V462.0H346.3zM547.9 278.1H556.0V303.2H547.9zM338.2 378.4H346.3V495.4H338.2zM354.4 378.4H362.4V411.8H354.4zM410.8 386.8H418.9V411.8H410.8zM531.8 386.8H547.9V403.5H531.8zM531.8 403.5H539.8V411.8H531.8zM435.0 436.9H443.1V445.3H435.0zM314.0 445.3H338.2V495.4H314.0zM306.0 470.4H314.0V512.1H306.0zM523.7 478.7H531.8V495.4H523.7zM297.9 487.1H306.0V495.4H297.9zM346.3 487.1H354.4V495.4H346.3zM314.0 495.4H330.2V503.8H314.0zM475.3 495.4H499.5V503.8H475.3zM314.0 503.8H322.1V512.1H314.0zM330.2 520.5H338.2V528.9H330.2zM426.9 520.5H443.1V537.2H426.9zM346.3 528.9H354.4V537.2H346.3zM418.9 528.9H426.9V537.2H418.9z"/><path fill="#c5c22a" d="M418.9 144.4H435.0V186.2H418.9zM491.5 144.4H507.6V161.1H491.5zM491.5 161.1H499.5V186.2H491.5zM556.0 186.2H564.0V202.9H556.0zM547.9 261.4H556.0V278.1H547.9zM459.2 286.5H467.3V303.2H459.2zM483.4 294.8H491.5V319.9H483.4zM531.8 361.7H547.9V386.8H531.8zM459.2 411.8H467.3V420.2H459.2zM426.9 436.9H435.0V462.0H426.9zM475.3 436.9H483.4V445.3H475.3zM523.7 470.4H531.8V478.7H523.7zM459.2 487.1H467.3V495.4H459.2zM499.5 487.1H523.7V495.4H499.5zM322.1 503.8H330.2V512.1H322.1zM394.7 520.5H402.8V528.9H394.7zM410.8 553.9H418.9V562.3H410.8z"/><path fill="#d1bf27" d="M499.5 161.1H507.6V177.8H499.5zM556.0 169.4H564.0V186.2H556.0zM418.9 186.2H435.0V219.6H418.9zM491.5 186.2H499.5V219.6H491.5zM547.9 244.7H556.0V261.4H547.9zM459.2 303.2H467.3V319.9H459.2zM483.4 319.9H491.5V345.0H483.4zM531.8 336.6H547.9V361.7H531.8zM418.9 403.5H426.9V411.8H418.9zM426.9 420.2H435.0V436.9H426.9zM426.9 462.0H435.0V470.4H426.9zM523.7 462.0H531.8V470.4H523.7zM418.9 487.1H426.9V495.4H418.9zM451.1 487.1H459.2V495.4H451.1zM330.2 495.4H354.4V503.8H330.2zM402.8 495.4H410.8V503.8H402.8z"/><path fill="#dcbd29" d="M556.0 152.7H564.0V169.4H556.0zM499.5 177.8H507.6V194.5H499.5zM418.9 219.6H435.0V253.0H418.9zM491.5 219.6H499.5V253.0H491.5zM547.9 227.9H556.0V244.7H547.9zM531.8 311.5H547.9V336.6H531.8zM459.2 319.9H467.3V328.3H459.2zM483.4 345.0H491.5V370.0H483.4zM426.9 411.8H435.0V420.2H426.9zM435.0 445.3H443.1V453.6H435.0zM475.3 445.3H483.4V453.6H475.3zM451.1 453.6H459.2V462.0H451.1zM467.3 470.4H475.3V478.7H467.3zM507.6 478.7H523.7V487.1H507.6zM467.3 503.8H475.3V512.1H467.3zM322.1 512.1H330.2V520.5H322.1zM459.2 512.1H467.3V520.5H459.2z"/><path fill="#e6bb2d" d="M556.0 136.0H564.0V152.7H556.0zM499.5 194.5H507.6V211.2H499.5zM547.9 211.2H556.0V227.9H547.9zM418.9 253.0H435.0V403.5H418.9zM491.5 253.0H499.5V286.5H491.5zM531.8 286.5H547.9V311.5H531.8zM459.2 328.3H467.3V345.0H459.2zM483.4 370.0H491.5V403.5H483.4zM443.1 395.1H451.1V495.4H443.1zM515.7 395.1H531.8V462.0H515.7zM426.9 403.5H435.0V411.8H426.9zM459.2 403.5H467.3V411.8H459.2zM435.0 453.6H443.1V495.4H435.0zM515.7 462.0H523.7V478.7H515.7zM426.9 470.4H435.0V495.4H426.9zM467.3 478.7H475.3V503.8H467.3zM410.8 495.4H418.9V503.8H410.8zM451.1 495.4H467.3V512.1H451.1zM330.2 503.8H346.3V520.5H330.2zM378.6 512.1H386.6V520.5H378.6zM443.1 512.1H459.2V520.5H443.1zM338.2 520.5H354.4V528.9H338.2zM354.4 528.9H362.4V537.2H354.4zM362.4 537.2H370.5V545.6H362.4z"/><path fill="#f0ba36" d="M507.6 136.0H523.7V177.8H507.6zM547.9 194.5H556.0V211.2H547.9zM499.5 211.2H507.6V227.9H499.5zM531.8 244.7H547.9V286.5H531.8zM491.5 286.5H499.5V311.5H491.5zM459.2 345.0H467.3V353.3H459.2zM443.1 370.0H451.1V395.1H443.1zM515.7 370.0H531.8V395.1H515.7zM483.4 403.5H491.5V411.8H483.4zM451.1 436.9H459.2V453.6H451.1zM475.3 453.6H483.4V462.0H475.3zM507.6 470.4H515.7V478.7H507.6zM499.5 478.7H507.6V487.1H499.5zM475.3 487.1H499.5V495.4H475.3zM346.3 503.8H370.5V512.1H346.3zM378.6 520.5H386.6V528.9H378.6zM370.5 545.6H378.6V553.9H370.5z"/><path fill="#f8ba3d" d="M547.9 169.4H556.0V194.5H547.9zM507.6 177.8H523.7V211.2H507.6zM531.8 211.2H547.9V244.7H531.8zM499.5 227.9H507.6V244.7H499.5zM491.5 311.5H499.5V345.0H491.5zM443.1 345.0H451.1V370.0H443.1zM515.7 345.0H531.8V370.0H515.7zM459.2 353.3H467.3V370.0H459.2zM483.4 411.8H491.5V428.6H483.4zM451.1 428.6H459.2V436.9H451.1zM507.6 462.0H515.7V470.4H507.6zM418.9 495.4H451.1V503.8H418.9zM378.6 553.9H386.6V562.3H378.6z"/><path fill="#febe3c" d="M547.9 152.7H556.0V169.4H547.9zM531.8 177.8H547.9V211.2H531.8zM507.6 211.2H523.7V244.7H507.6zM499.5 244.7H507.6V269.7H499.5zM443.1 311.5H451.1V345.0H443.1zM515.7 311.5H531.8V345.0H515.7zM491.5 345.0H499.5V370.0H491.5zM459.2 370.0H467.3V386.8H459.2zM451.1 411.8H459.2V428.6H451.1zM483.4 428.6H491.5V436.9H483.4zM475.3 462.0H483.4V470.4H475.3zM475.3 478.7H499.5V487.1H475.3zM426.9 512.1H443.1V520.5H426.9z"/><path fill="#fec338" d="M531.8 136.0H556.0V152.7H531.8zM531.8 152.7H547.9V177.8H531.8zM507.6 244.7H523.7V286.5H507.6zM499.5 269.7H507.6V286.5H499.5zM443.1 286.5H451.1V311.5H443.1zM515.7 286.5H531.8V311.5H515.7zM491.5 370.0H499.5V395.1H491.5zM459.2 386.8H467.3V403.5H459.2zM451.1 403.5H459.2V411.8H451.1zM483.4 436.9H491.5V453.6H483.4zM507.6 453.6H515.7V462.0H507.6zM475.3 470.4H483.4V478.7H475.3zM443.1 503.8H451.1V512.1H443.1zM346.3 512.1H354.4V520.5H346.3zM354.4 520.5H362.4V528.9H354.4zM418.9 520.5H426.9V528.9H418.9zM370.5 537.2H378.6V545.6H370.5z"/><path fill="#fec934" d="M443.1 136.0H459.2V286.5H443.1zM523.7 136.0H531.8V286.5H523.7zM451.1 286.5H459.2V403.5H451.1zM499.5 286.5H515.7V453.6H499.5zM491.5 395.1H499.5V478.7H491.5zM483.4 453.6H491.5V478.7H483.4zM499.5 453.6H507.6V478.7H499.5zM402.8 503.8H443.1V512.1H402.8zM354.4 512.1H378.6V520.5H354.4zM402.8 512.1H426.9V520.5H402.8zM362.4 520.5H378.6V537.2H362.4zM402.8 520.5H418.9V537.2H402.8zM378.6 528.9H402.8V537.2H378.6zM378.6 537.2H394.7V545.6H378.6zM402.8 537.2H410.8V545.6H402.8zM378.6 545.6H386.6V553.9H378.6z"/><path fill="#f9dc28" d="M386.6 545.6H394.7V553.9H386.6zM402.8 545.6H410.8V553.9H402.8z"/><path fill="#f7e324" d="M394.7 537.2H402.8V545.6H394.7zM386.6 553.9H394.7V562.3H386.6z"/><path fill="#f7ee1c" d="M402.8 553.9H410.8V562.3H402.8z"/><path fill="#f7f418" d="M394.7 545.6H402.8V553.9H394.7z"/><path fill="#f9fb15" d="M394.7 553.9H402.8V562.3H394.7z"/></g></g>
<line x1="120.5" y1="179.6" x2="685.0" y2="179.6" stroke="#fff" stroke-width="3.2" stroke-dasharray="31.5 18.5" clip-path="url(#hc00)"/>
<line x1="120.5" y1="492.8" x2="685.0" y2="492.8" stroke="#fff" stroke-width="3.2" stroke-dasharray="31.5 18.5" clip-path="url(#hc00)"/>
<path d="M201.1 136.0v14.4M201.1 562.3v-14.4M402.8 136.0v14.4M402.8 562.3v-14.4M604.4 136.0v14.4M604.4 562.3v-14.4M120.5 157.0h14.4M685.0 157.0h-14.4M120.5 226.0h14.4M685.0 226.0h-14.4M120.5 295.0h14.4M685.0 295.0h-14.4M120.5 364.0h14.4M685.0 364.0h-14.4M120.5 433.0h14.4M685.0 433.0h-14.4M120.5 502.0h14.4M685.0 502.0h-14.4" stroke="#000" stroke-width="4.8" fill="none"/>
<rect x="120.5" y="136.0" width="564.5" height="426.3" fill="none" stroke="#000" stroke-width="4.9"/>
<text x="201.1" y="606.0" font-size="30.5" text-anchor="middle">600</text>
<text x="402.8" y="606.0" font-size="30.5" text-anchor="middle">850</text>
<text x="604.4" y="606.0" font-size="30.5" text-anchor="middle">1100</text>
<text x="403.2" y="650.0" font-size="29" text-anchor="middle">Wavelength (nm)</text>
<text x="912.6" y="74.3" font-size="28.8" text-anchor="middle" textLength="63" lengthAdjust="spacingAndGlyphs">RNN</text>
<text x="1060.4" y="22.5" font-size="27.5" textLength="283" lengthAdjust="spacingAndGlyphs">Spectral intensity (dB)</text>
<text x="1073.8" y="64.9" font-size="26.6" text-anchor="middle">-40</text>
<text x="1200.3" y="64.9" font-size="26.6" text-anchor="middle">-20</text>
<text x="1326.8" y="64.9" font-size="26.6" text-anchor="middle">0</text>
<rect x="1073.8" y="89.3" width="253.0" height="28" fill="url(#cbg)" stroke="#000" stroke-width="3"/>
<line x1="1200.3" y1="90.8" x2="1200.3" y2="103.3" stroke="#000" stroke-width="3"/>
<clipPath id="hc01"><rect x="762.6" y="136.0" width="564.2" height="426.3"/></clipPath>
<rect x="762.6" y="136.0" width="564.2" height="426.3" fill="#3e26a8"/>
<g clip-path="url(#hc01)"><g filter="url(#hblur)" shape-rendering="crispEdges"><path fill="#402ab4" d="M1294.6 353.3H1302.6V370.0H1294.6zM1278.4 411.8H1294.6V420.2H1278.4zM1286.5 428.6H1294.6V436.9H1286.5zM1286.5 495.4H1294.6V503.8H1286.5z"/><path fill="#422ec0" d="M1294.6 336.6H1302.6V353.3H1294.6zM1278.4 395.1H1294.6V411.8H1278.4zM1278.4 428.6H1286.5V436.9H1278.4zM1286.5 436.9H1294.6V445.3H1286.5zM835.1 462.0H843.2V470.4H835.1zM827.1 487.1H835.1V495.4H827.1zM948.0 545.6H956.0V553.9H948.0zM964.1 553.9H972.2V562.3H964.1zM1109.2 553.9H1117.2V562.3H1109.2z"/><path fill="#4332cb" d="M1294.6 319.9H1302.6V336.6H1294.6zM1278.4 386.8H1294.6V395.1H1278.4zM1286.5 445.3H1294.6V453.6H1286.5zM843.2 462.0H851.3V470.4H843.2zM1286.5 487.1H1294.6V495.4H1286.5zM1270.4 495.4H1286.5V503.8H1270.4zM1262.3 503.8H1270.4V512.1H1262.3zM956.0 545.6H964.1V553.9H956.0zM1117.2 545.6H1141.4V553.9H1117.2zM972.2 553.9H980.2V562.3H972.2zM1101.1 553.9H1109.2V562.3H1101.1z"/><path fill="#4537d5" d="M1294.6 136.0H1302.6V319.9H1294.6zM1278.4 370.0H1294.6V386.8H1278.4zM1270.4 420.2H1278.4V428.6H1270.4zM1278.4 436.9H1286.5V445.3H1278.4zM1286.5 453.6H1294.6V487.1H1286.5zM851.3 512.1H859.3V520.5H851.3zM915.7 528.9H923.8V537.2H915.7z"/><path fill="#463cde" d="M1278.4 353.3H1294.6V370.0H1278.4zM1270.4 411.8H1278.4V420.2H1270.4zM1270.4 428.6H1278.4V436.9H1270.4zM835.1 470.4H843.2V478.7H835.1z"/><path fill="#4741e5" d="M1278.4 336.6H1294.6V353.3H1278.4zM1270.4 395.1H1278.4V411.8H1270.4zM1270.4 436.9H1278.4V445.3H1270.4zM1278.4 445.3H1286.5V453.6H1278.4zM1270.4 487.1H1286.5V495.4H1270.4zM827.1 495.4H835.1V503.8H827.1zM1262.3 495.4H1270.4V503.8H1262.3z"/><path fill="#4747eb" d="M1278.4 319.9H1294.6V336.6H1278.4zM1270.4 386.8H1278.4V395.1H1270.4zM1270.4 445.3H1278.4V453.6H1270.4zM843.2 470.4H851.3V478.7H843.2zM835.1 478.7H843.2V487.1H835.1zM1262.3 487.1H1270.4V495.4H1262.3zM827.1 503.8H835.1V512.1H827.1zM1254.3 503.8H1262.3V512.1H1254.3zM1230.1 512.1H1254.3V520.5H1230.1zM1093.1 553.9H1101.1V562.3H1093.1z"/><path fill="#484df0" d="M1286.5 136.0H1294.6V319.9H1286.5zM1278.4 303.2H1286.5V319.9H1278.4zM1262.3 378.4H1278.4V386.8H1262.3zM1262.3 386.8H1270.4V487.1H1262.3zM1270.4 453.6H1286.5V487.1H1270.4zM1230.1 503.8H1254.3V512.1H1230.1zM883.5 520.5H891.6V528.9H883.5zM1197.8 520.5H1222.0V528.9H1197.8zM923.8 528.9H931.9V537.2H923.8zM1149.5 528.9H1173.7V537.2H1149.5zM948.0 537.2H956.0V545.6H948.0zM964.1 545.6H972.2V553.9H964.1zM1109.2 545.6H1117.2V553.9H1109.2z"/><path fill="#4852f4" d="M1278.4 261.4H1286.5V303.2H1278.4zM1270.4 361.7H1278.4V378.4H1270.4zM1262.3 370.0H1270.4V378.4H1262.3zM1222.0 503.8H1230.1V512.1H1222.0zM980.2 553.9H988.3V562.3H980.2z"/><path fill="#4758f8" d="M1278.4 219.6H1286.5V261.4H1278.4zM1270.4 345.0H1278.4V361.7H1270.4zM1262.3 361.7H1270.4V370.0H1262.3zM835.1 487.1H843.2V495.4H835.1zM1246.2 495.4H1262.3V503.8H1246.2zM835.1 503.8H851.3V512.1H835.1z"/><path fill="#465efb" d="M1278.4 177.8H1286.5V219.6H1278.4zM1270.4 328.3H1278.4V345.0H1270.4zM1262.3 353.3H1270.4V361.7H1262.3zM843.2 478.7H851.3V487.1H843.2zM1246.2 487.1H1262.3V495.4H1246.2zM835.1 495.4H843.2V503.8H835.1zM1238.1 495.4H1246.2V503.8H1238.1zM851.3 503.8H859.3V512.1H851.3zM859.3 512.1H867.4V520.5H859.3zM1222.0 512.1H1230.1V520.5H1222.0zM1101.1 545.6H1109.2V553.9H1101.1z"/><path fill="#4563fd" d="M1278.4 136.0H1286.5V177.8H1278.4zM1270.4 311.5H1278.4V328.3H1270.4zM1262.3 345.0H1270.4V353.3H1262.3zM1222.0 495.4H1238.1V503.8H1222.0zM1205.9 512.1H1222.0V520.5H1205.9zM891.6 520.5H899.6V528.9H891.6zM1173.7 520.5H1197.8V528.9H1173.7zM956.0 537.2H964.1V545.6H956.0zM1117.2 537.2H1141.4V545.6H1117.2z"/><path fill="#4269fe" d="M1036.6 136.0H1044.7V152.7H1036.6zM1270.4 269.7H1278.4V311.5H1270.4zM1262.3 336.6H1270.4V345.0H1262.3zM1254.3 370.0H1262.3V487.1H1254.3zM1246.2 411.8H1254.3V487.1H1246.2zM1238.1 453.6H1246.2V470.4H1238.1zM843.2 487.1H851.3V503.8H843.2zM859.3 503.8H867.4V512.1H859.3zM1205.9 503.8H1222.0V512.1H1205.9zM931.9 528.9H939.9V537.2H931.9zM972.2 545.6H980.2V553.9H972.2zM1085.0 553.9H1093.1V562.3H1085.0z"/><path fill="#3e6fff" d="M1036.6 152.7H1044.7V177.8H1036.6zM1270.4 227.9H1278.4V269.7H1270.4zM1262.3 328.3H1270.4V336.6H1262.3zM1254.3 361.7H1262.3V370.0H1254.3zM1246.2 403.5H1254.3V411.8H1246.2zM1238.1 445.3H1246.2V453.6H1238.1zM867.4 512.1H875.4V520.5H867.4zM1093.1 545.6H1101.1V553.9H1093.1z"/><path fill="#3875fe" d="M1036.6 177.8H1044.7V194.5H1036.6zM1270.4 186.2H1278.4V227.9H1270.4zM1262.3 319.9H1270.4V328.3H1262.3zM1254.3 353.3H1262.3V361.7H1254.3zM1246.2 395.1H1254.3V403.5H1246.2zM1238.1 436.9H1246.2V445.3H1238.1zM1238.1 470.4H1246.2V478.7H1238.1zM1238.1 487.1H1246.2V495.4H1238.1zM851.3 495.4H859.3V503.8H851.3z"/><path fill="#327cfc" d="M1270.4 144.4H1278.4V186.2H1270.4zM1036.6 194.5H1044.7V211.2H1036.6zM1262.3 311.5H1270.4V319.9H1262.3zM1254.3 345.0H1262.3V353.3H1254.3zM1246.2 378.4H1254.3V395.1H1246.2zM1238.1 428.6H1246.2V436.9H1238.1zM1238.1 478.7H1246.2V487.1H1238.1zM1181.7 512.1H1205.9V520.5H1181.7zM899.6 520.5H907.7V528.9H899.6zM1149.5 520.5H1173.7V528.9H1149.5z"/><path fill="#2f81fa" d="M899.6 136.0H907.7V462.0H899.6zM1270.4 136.0H1278.4V144.4H1270.4zM1036.6 211.2H1044.7V236.3H1036.6zM1262.3 278.1H1270.4V311.5H1262.3zM1254.3 336.6H1262.3V345.0H1254.3zM1246.2 370.0H1254.3V378.4H1246.2zM851.3 420.2H859.3V462.0H851.3zM907.7 420.2H915.7V462.0H907.7zM1238.1 420.2H1246.2V428.6H1238.1zM915.7 453.6H923.8V462.0H915.7zM1222.0 453.6H1238.1V462.0H1222.0zM1214.0 495.4H1222.0V503.8H1214.0zM1125.3 528.9H1149.5V537.2H1125.3zM988.3 553.9H996.3V562.3H988.3z"/><path fill="#2e87f7" d="M1036.6 236.3H1044.7V253.0H1036.6zM1262.3 236.3H1270.4V278.1H1262.3zM1254.3 328.3H1262.3V336.6H1254.3zM1246.2 361.7H1254.3V370.0H1246.2zM851.3 403.5H859.3V420.2H851.3zM1238.1 403.5H1246.2V420.2H1238.1zM915.7 445.3H923.8V453.6H915.7zM1222.0 445.3H1238.1V453.6H1222.0zM851.3 462.0H859.3V470.4H851.3zM1222.0 462.0H1238.1V470.4H1222.0zM1222.0 487.1H1238.1V495.4H1222.0zM1205.9 495.4H1214.0V503.8H1205.9zM875.4 512.1H883.5V520.5H875.4z"/><path fill="#2d8cf3" d="M1262.3 194.5H1270.4V236.3H1262.3zM1036.6 253.0H1044.7V278.1H1036.6zM1254.3 319.9H1262.3V328.3H1254.3zM1246.2 353.3H1254.3V361.7H1246.2zM851.3 395.1H859.3V403.5H851.3zM1238.1 395.1H1246.2V403.5H1238.1zM915.7 436.9H923.8V445.3H915.7zM1222.0 436.9H1238.1V445.3H1222.0zM851.3 470.4H859.3V478.7H851.3zM1222.0 470.4H1238.1V478.7H1222.0zM851.3 487.1H859.3V495.4H851.3zM859.3 495.4H867.4V503.8H859.3zM907.7 520.5H915.7V528.9H907.7zM1076.9 553.9H1085.0V562.3H1076.9z"/><path fill="#2b91ef" d="M1262.3 152.7H1270.4V194.5H1262.3zM1036.6 278.1H1044.7V294.8H1036.6zM1254.3 311.5H1262.3V319.9H1254.3zM1246.2 345.0H1254.3V353.3H1246.2zM851.3 378.4H859.3V395.1H851.3zM1238.1 378.4H1246.2V395.1H1238.1zM907.7 411.8H915.7V420.2H907.7zM915.7 428.6H923.8V436.9H915.7zM1222.0 428.6H1238.1V436.9H1222.0zM851.3 478.7H859.3V487.1H851.3zM1222.0 478.7H1238.1V487.1H1222.0zM867.4 503.8H875.4V512.1H867.4zM1181.7 503.8H1205.9V512.1H1181.7zM964.1 537.2H972.2V545.6H964.1zM1109.2 537.2H1117.2V545.6H1109.2zM980.2 545.6H988.3V553.9H980.2z"/><path fill="#2797eb" d="M1020.5 136.0H1028.6V144.4H1020.5zM1262.3 136.0H1270.4V152.7H1262.3zM851.3 286.5H859.3V378.4H851.3zM1254.3 286.5H1262.3V311.5H1254.3zM1036.6 294.8H1044.7V311.5H1036.6zM1246.2 336.6H1254.3V345.0H1246.2zM1238.1 370.0H1246.2V378.4H1238.1zM891.6 420.2H899.6V462.0H891.6zM1222.0 420.2H1238.1V428.6H1222.0zM923.8 428.6H939.9V462.0H923.8zM939.9 528.9H948.0V537.2H939.9zM1093.1 537.2H1109.2V545.6H1093.1z"/><path fill="#259be8" d="M1020.5 144.4H1028.6V169.4H1020.5zM851.3 244.7H859.3V286.5H851.3zM1254.3 244.7H1262.3V286.5H1254.3zM1036.6 311.5H1044.7V328.3H1036.6zM1246.2 328.3H1254.3V336.6H1246.2zM1238.1 353.3H1246.2V370.0H1238.1zM1230.1 411.8H1238.1V420.2H1230.1zM915.7 420.2H939.9V428.6H915.7zM1214.0 487.1H1222.0V495.4H1214.0z"/><path fill="#23a0e5" d="M1020.5 169.4H1028.6V186.2H1020.5zM851.3 202.9H859.3V244.7H851.3zM1254.3 202.9H1262.3V244.7H1254.3zM1246.2 319.9H1254.3V328.3H1246.2zM1036.6 328.3H1044.7V345.0H1036.6zM1238.1 336.6H1246.2V353.3H1238.1zM1230.1 395.1H1238.1V411.8H1230.1zM907.7 403.5H915.7V411.8H907.7zM1222.0 411.8H1230.1V420.2H1222.0zM899.6 462.0H923.8V470.4H899.6zM883.5 512.1H891.6V520.5H883.5zM1173.7 512.1H1181.7V520.5H1173.7z"/><path fill="#20a5e3" d="M851.3 161.1H859.3V202.9H851.3zM1254.3 161.1H1262.3V202.9H1254.3zM1020.5 186.2H1028.6V202.9H1020.5zM1246.2 311.5H1254.3V319.9H1246.2zM1238.1 319.9H1246.2V336.6H1238.1zM1036.6 345.0H1044.7V361.7H1036.6zM1230.1 386.8H1238.1V395.1H1230.1zM1222.0 403.5H1230.1V411.8H1222.0zM891.6 411.8H899.6V420.2H891.6zM875.4 503.8H883.5V512.1H875.4zM1157.5 512.1H1173.7V520.5H1157.5zM915.7 520.5H923.8V528.9H915.7zM1085.0 545.6H1093.1V553.9H1085.0zM1068.9 553.9H1076.9V562.3H1068.9z"/><path fill="#1ca9df" d="M851.3 136.0H859.3V161.1H851.3zM1246.2 136.0H1262.3V161.1H1246.2zM1246.2 161.1H1254.3V311.5H1246.2zM1020.5 202.9H1028.6V227.9H1020.5zM1238.1 294.8H1246.2V319.9H1238.1zM1036.6 361.7H1044.7V428.6H1036.6zM1230.1 370.0H1238.1V386.8H1230.1zM1222.0 395.1H1230.1V403.5H1222.0zM915.7 411.8H939.9V420.2H915.7zM1214.0 420.2H1222.0V487.1H1214.0zM1205.9 487.1H1214.0V495.4H1205.9zM1197.8 495.4H1205.9V503.8H1197.8zM948.0 528.9H956.0V537.2H948.0zM1109.2 528.9H1125.3V537.2H1109.2z"/><path fill="#18addb" d="M1020.5 227.9H1028.6V244.7H1020.5zM1238.1 253.0H1246.2V294.8H1238.1zM1230.1 361.7H1238.1V370.0H1230.1zM907.7 395.1H915.7V403.5H907.7zM891.6 403.5H899.6V411.8H891.6zM1205.9 453.6H1214.0V470.4H1205.9zM891.6 462.0H899.6V470.4H891.6zM923.8 462.0H939.9V470.4H923.8zM867.4 495.4H875.4V503.8H867.4zM1189.8 495.4H1197.8V503.8H1189.8zM996.3 553.9H1004.4V562.3H996.3z"/><path fill="#12b1d6" d="M1238.1 211.2H1246.2V253.0H1238.1zM1020.5 244.7H1028.6V269.7H1020.5zM1230.1 353.3H1238.1V361.7H1230.1zM1222.0 386.8H1230.1V395.1H1222.0zM1214.0 411.8H1222.0V420.2H1214.0zM1036.6 428.6H1044.7V436.9H1036.6zM1205.9 445.3H1214.0V453.6H1205.9zM1205.9 470.4H1214.0V478.7H1205.9zM1028.6 495.4H1036.6V512.1H1028.6zM891.6 512.1H899.6V520.5H891.6z"/><path fill="#08b5d0" d="M1238.1 169.4H1246.2V211.2H1238.1zM1020.5 269.7H1028.6V286.5H1020.5zM1230.1 345.0H1238.1V353.3H1230.1zM1222.0 378.4H1230.1V386.8H1222.0zM891.6 395.1H899.6V403.5H891.6zM1214.0 403.5H1222.0V411.8H1214.0zM1205.9 436.9H1214.0V445.3H1205.9zM859.3 487.1H867.4V495.4H859.3zM1028.6 487.1H1036.6V495.4H1028.6zM883.5 503.8H891.6V512.1H883.5zM899.6 512.1H907.7V520.5H899.6zM923.8 520.5H939.9V528.9H923.8zM1125.3 520.5H1149.5V528.9H1125.3zM988.3 545.6H996.3V553.9H988.3z"/><path fill="#01b8ca" d="M964.1 136.0H972.2V378.4H964.1zM1238.1 136.0H1246.2V169.4H1238.1zM1020.5 286.5H1028.6V378.4H1020.5zM972.2 303.2H980.2V378.4H972.2zM1230.1 336.6H1238.1V345.0H1230.1zM907.7 386.8H915.7V395.1H907.7zM915.7 403.5H939.9V411.8H915.7zM1109.2 428.6H1125.3V462.0H1109.2zM1205.9 428.6H1214.0V436.9H1205.9zM1036.6 436.9H1044.7V445.3H1036.6zM1205.9 478.7H1214.0V487.1H1205.9zM875.4 495.4H883.5V503.8H875.4zM1181.7 495.4H1189.8V503.8H1181.7zM891.6 503.8H907.7V512.1H891.6zM956.0 528.9H964.1V537.2H956.0zM972.2 537.2H980.2V545.6H972.2z"/><path fill="#02bac3" d="M956.0 136.0H964.1V144.4H956.0zM972.2 261.4H980.2V303.2H972.2zM1125.3 294.8H1133.4V311.5H1125.3zM1230.1 328.3H1238.1V336.6H1230.1zM1222.0 370.0H1230.1V378.4H1222.0zM1020.5 378.4H1028.6V386.8H1020.5zM891.6 386.8H899.6V395.1H891.6zM1214.0 395.1H1222.0V403.5H1214.0zM1109.2 420.2H1125.3V428.6H1109.2zM1205.9 420.2H1214.0V428.6H1205.9zM1012.5 478.7H1036.6V487.1H1012.5zM1197.8 487.1H1205.9V495.4H1197.8zM1076.9 545.6H1085.0V553.9H1076.9z"/><path fill="#0bbdbd" d="M956.0 144.4H964.1V161.1H956.0zM972.2 219.6H980.2V261.4H972.2zM1125.3 286.5H1133.4V294.8H1125.3zM1125.3 311.5H1133.4V319.9H1125.3zM1230.1 319.9H1238.1V328.3H1230.1zM1222.0 361.7H1230.1V370.0H1222.0zM907.7 378.4H915.7V386.8H907.7zM1020.5 386.8H1028.6V403.5H1020.5zM1214.0 386.8H1222.0V395.1H1214.0zM1117.2 411.8H1125.3V420.2H1117.2zM1205.9 411.8H1214.0V420.2H1205.9zM1036.6 445.3H1044.7V453.6H1036.6zM1012.5 470.4H1036.6V478.7H1012.5zM1149.5 512.1H1157.5V520.5H1149.5zM1028.6 520.5H1036.6V528.9H1028.6z"/><path fill="#19bfb6" d="M956.0 161.1H964.1V169.4H956.0zM972.2 177.8H980.2V219.6H972.2zM1125.3 278.1H1133.4V286.5H1125.3zM1230.1 311.5H1238.1V319.9H1230.1zM1125.3 319.9H1133.4V328.3H1125.3zM1222.0 353.3H1230.1V361.7H1222.0zM891.6 378.4H899.6V386.8H891.6zM964.1 378.4H980.2V386.8H964.1zM1214.0 378.4H1222.0V386.8H1214.0zM915.7 395.1H939.9V403.5H915.7zM1020.5 403.5H1028.6V411.8H1020.5zM1117.2 403.5H1125.3V411.8H1117.2zM1205.9 403.5H1214.0V411.8H1205.9zM1109.2 411.8H1117.2V420.2H1109.2zM1012.5 487.1H1028.6V495.4H1012.5zM1157.5 503.8H1181.7V512.1H1157.5zM907.7 512.1H923.8V520.5H907.7zM1068.9 545.6H1076.9V553.9H1068.9z"/><path fill="#24c1ae" d="M972.2 136.0H980.2V177.8H972.2zM956.0 169.4H964.1V177.8H956.0zM1125.3 269.7H1133.4V278.1H1125.3zM1230.1 303.2H1238.1V311.5H1230.1zM1125.3 328.3H1133.4V336.6H1125.3zM1222.0 345.0H1230.1V353.3H1222.0zM1020.5 411.8H1028.6V428.6H1020.5zM1036.6 453.6H1044.7V462.0H1036.6zM1012.5 462.0H1036.6V470.4H1012.5zM899.6 470.4H923.8V478.7H899.6zM867.4 487.1H875.4V495.4H867.4zM1189.8 487.1H1197.8V495.4H1189.8zM883.5 495.4H891.6V503.8H883.5zM1028.6 512.1H1036.6V520.5H1028.6zM1133.4 512.1H1149.5V520.5H1133.4zM939.9 520.5H956.0V528.9H939.9zM980.2 537.2H988.3V545.6H980.2zM1076.9 537.2H1093.1V545.6H1076.9z"/><path fill="#2cc4a7" d="M859.3 136.0H867.4V169.4H859.3zM891.6 136.0H899.6V378.4H891.6zM996.3 136.0H1020.5V169.4H996.3zM1044.7 136.0H1052.8V378.4H1044.7zM1230.1 136.0H1238.1V303.2H1230.1zM996.3 169.4H1004.4V487.1H996.3zM1012.5 169.4H1020.5V462.0H1012.5zM956.0 177.8H964.1V186.2H956.0zM1125.3 261.4H1133.4V269.7H1125.3zM907.7 269.7H915.7V378.4H907.7zM1125.3 336.6H1133.4V345.0H1125.3zM1222.0 336.6H1230.1V345.0H1222.0zM1004.4 361.7H1012.5V487.1H1004.4zM1028.6 361.7H1036.6V462.0H1028.6zM1214.0 370.0H1222.0V378.4H1214.0zM964.1 386.8H980.2V395.1H964.1zM1117.2 395.1H1125.3V403.5H1117.2zM1205.9 395.1H1214.0V403.5H1205.9zM1109.2 403.5H1117.2V411.8H1109.2zM939.9 420.2H948.0V462.0H939.9zM1076.9 420.2H1093.1V428.6H1076.9zM1189.8 420.2H1205.9V470.4H1189.8zM1020.5 428.6H1028.6V462.0H1020.5zM1036.6 462.0H1044.7V470.4H1036.6zM1197.8 470.4H1205.9V487.1H1197.8zM875.4 487.1H883.5V495.4H875.4zM907.7 503.8H923.8V512.1H907.7zM1149.5 503.8H1157.5V512.1H1149.5zM964.1 528.9H972.2V537.2H964.1zM1085.0 528.9H1109.2V537.2H1085.0zM1060.8 553.9H1068.9V562.3H1060.8z"/><path fill="#31c69f" d="M859.3 169.4H867.4V211.2H859.3zM1004.4 169.4H1012.5V211.2H1004.4zM956.0 186.2H964.1V194.5H956.0zM907.7 227.9H915.7V269.7H907.7zM1125.3 253.0H1133.4V261.4H1125.3zM1222.0 328.3H1230.1V336.6H1222.0zM1004.4 345.0H1012.5V361.7H1004.4zM1028.6 345.0H1036.6V361.7H1028.6zM1125.3 345.0H1133.4V353.3H1125.3zM1214.0 361.7H1222.0V370.0H1214.0zM1044.7 378.4H1052.8V386.8H1044.7zM1117.2 386.8H1125.3V395.1H1117.2zM1205.9 386.8H1214.0V395.1H1205.9zM939.9 411.8H948.0V420.2H939.9zM1076.9 411.8H1093.1V420.2H1076.9zM1197.8 411.8H1205.9V420.2H1197.8zM1109.2 462.0H1125.3V470.4H1109.2zM891.6 470.4H899.6V478.7H891.6zM923.8 470.4H939.9V478.7H923.8zM859.3 478.7H867.4V487.1H859.3zM891.6 495.4H907.7V503.8H891.6zM1012.5 495.4H1028.6V503.8H1012.5zM996.3 545.6H1004.4V553.9H996.3zM1060.8 545.6H1068.9V553.9H1060.8z"/><path fill="#37c897" d="M907.7 186.2H915.7V227.9H907.7zM956.0 194.5H964.1V211.2H956.0zM859.3 211.2H867.4V253.0H859.3zM1004.4 211.2H1012.5V253.0H1004.4zM1125.3 244.7H1133.4V253.0H1125.3zM1222.0 319.9H1230.1V328.3H1222.0zM1004.4 328.3H1012.5V345.0H1004.4zM1028.6 328.3H1036.6V345.0H1028.6zM1125.3 353.3H1133.4V361.7H1125.3zM1214.0 353.3H1222.0V361.7H1214.0zM915.7 386.8H939.9V395.1H915.7zM1109.2 395.1H1117.2V403.5H1109.2zM1189.8 411.8H1197.8V420.2H1189.8zM1076.9 428.6H1085.0V436.9H1076.9zM939.9 462.0H948.0V470.4H939.9zM1036.6 470.4H1044.7V478.7H1036.6zM1189.8 470.4H1197.8V478.7H1189.8z"/><path fill="#3fca8e" d="M907.7 144.4H915.7V186.2H907.7zM956.0 211.2H964.1V219.6H956.0zM1125.3 236.3H1133.4V244.7H1125.3zM859.3 253.0H867.4V294.8H859.3zM1004.4 253.0H1012.5V294.8H1004.4zM1004.4 311.5H1012.5V328.3H1004.4zM1028.6 311.5H1036.6V328.3H1028.6zM1222.0 311.5H1230.1V319.9H1222.0zM1214.0 345.0H1222.0V353.3H1214.0zM1125.3 361.7H1133.4V370.0H1125.3zM1117.2 378.4H1125.3V386.8H1117.2zM1205.9 378.4H1214.0V386.8H1205.9zM1044.7 386.8H1052.8V395.1H1044.7zM964.1 395.1H980.2V403.5H964.1zM939.9 403.5H948.0V411.8H939.9zM1076.9 403.5H1093.1V411.8H1076.9zM1197.8 403.5H1205.9V411.8H1197.8zM1085.0 428.6H1093.1V436.9H1085.0zM859.3 470.4H867.4V478.7H859.3zM1036.6 478.7H1044.7V487.1H1036.6zM1189.8 478.7H1197.8V487.1H1189.8zM923.8 512.1H939.9V520.5H923.8zM956.0 520.5H964.1V528.9H956.0zM1101.1 520.5H1125.3V528.9H1101.1zM988.3 537.2H996.3V545.6H988.3zM1004.4 553.9H1012.5V562.3H1004.4z"/><path fill="#4acb84" d="M867.4 136.0H875.4V144.4H867.4zM883.5 136.0H891.6V161.1H883.5zM907.7 136.0H915.7V144.4H907.7zM980.2 136.0H996.3V386.8H980.2zM1028.6 136.0H1036.6V311.5H1028.6zM1052.8 136.0H1060.8V378.4H1052.8zM1222.0 136.0H1230.1V311.5H1222.0zM956.0 219.6H964.1V227.9H956.0zM859.3 294.8H867.4V428.6H859.3zM1004.4 294.8H1012.5V311.5H1004.4zM1214.0 336.6H1222.0V345.0H1214.0zM1117.2 370.0H1133.4V378.4H1117.2zM1205.9 370.0H1214.0V378.4H1205.9zM1109.2 386.8H1117.2V395.1H1109.2zM939.9 395.1H948.0V403.5H939.9zM1076.9 395.1H1093.1V403.5H1076.9zM1197.8 395.1H1205.9V403.5H1197.8zM1189.8 403.5H1197.8V411.8H1189.8zM883.5 420.2H891.6V462.0H883.5zM948.0 420.2H964.1V462.0H948.0zM875.4 478.7H883.5V487.1H875.4zM996.3 487.1H1012.5V495.4H996.3zM1036.6 487.1H1044.7V503.8H1036.6zM907.7 495.4H923.8V503.8H907.7zM1165.6 495.4H1181.7V503.8H1165.6zM923.8 503.8H939.9V512.1H923.8zM972.2 528.9H980.2V537.2H972.2z"/><path fill="#57cc7a" d="M867.4 144.4H875.4V161.1H867.4zM883.5 161.1H891.6V202.9H883.5zM956.0 227.9H964.1V236.3H956.0zM1125.3 227.9H1133.4V236.3H1125.3zM1214.0 328.3H1222.0V336.6H1214.0zM1117.2 361.7H1125.3V370.0H1117.2zM915.7 378.4H939.9V386.8H915.7zM1052.8 378.4H1060.8V386.8H1052.8zM939.9 386.8H948.0V395.1H939.9zM980.2 386.8H996.3V395.1H980.2zM1076.9 386.8H1093.1V395.1H1076.9zM1197.8 386.8H1205.9V395.1H1197.8zM1044.7 395.1H1052.8V403.5H1044.7zM883.5 403.5H891.6V420.2H883.5zM948.0 411.8H964.1V420.2H948.0zM859.3 428.6H867.4V436.9H859.3zM1076.9 436.9H1085.0V445.3H1076.9zM883.5 462.0H891.6V470.4H883.5zM867.4 478.7H875.4V487.1H867.4zM883.5 487.1H891.6V495.4H883.5zM1149.5 495.4H1165.6V503.8H1149.5zM1036.6 503.8H1044.7V512.1H1036.6z"/><path fill="#64cd6f" d="M867.4 161.1H875.4V169.4H867.4zM883.5 202.9H891.6V244.7H883.5zM1125.3 219.6H1133.4V227.9H1125.3zM956.0 236.3H964.1V244.7H956.0zM1214.0 319.9H1222.0V328.3H1214.0zM1117.2 353.3H1125.3V361.7H1117.2zM1205.9 361.7H1214.0V370.0H1205.9zM1109.2 378.4H1117.2V386.8H1109.2zM1125.3 378.4H1133.4V386.8H1125.3zM1052.8 386.8H1060.8V395.1H1052.8zM883.5 395.1H891.6V403.5H883.5zM980.2 395.1H996.3V411.8H980.2zM1189.8 395.1H1197.8V403.5H1189.8zM964.1 403.5H980.2V411.8H964.1zM859.3 436.9H867.4V445.3H859.3zM859.3 462.0H867.4V470.4H859.3zM948.0 462.0H964.1V470.4H948.0zM875.4 470.4H891.6V478.7H875.4zM939.9 470.4H948.0V478.7H939.9zM1181.7 487.1H1189.8V495.4H1181.7zM923.8 495.4H939.9V503.8H923.8zM1133.4 503.8H1149.5V512.1H1133.4zM1125.3 512.1H1133.4V520.5H1125.3z"/><path fill="#72cd64" d="M867.4 169.4H875.4V186.2H867.4zM1125.3 211.2H1133.4V219.6H1125.3zM883.5 244.7H891.6V286.5H883.5zM956.0 244.7H964.1V261.4H956.0zM1214.0 311.5H1222.0V319.9H1214.0zM1117.2 345.0H1125.3V353.3H1117.2zM1205.9 353.3H1214.0V361.7H1205.9zM883.5 378.4H891.6V395.1H883.5zM939.9 378.4H948.0V386.8H939.9zM1076.9 378.4H1093.1V386.8H1076.9zM1197.8 378.4H1205.9V386.8H1197.8zM948.0 403.5H964.1V411.8H948.0zM980.2 411.8H996.3V420.2H980.2zM1085.0 436.9H1093.1V445.3H1085.0zM859.3 445.3H867.4V453.6H859.3zM875.4 462.0H883.5V470.4H875.4zM883.5 478.7H891.6V487.1H883.5zM1012.5 503.8H1028.6V512.1H1012.5zM939.9 512.1H948.0V520.5H939.9zM1109.2 512.1H1125.3V520.5H1109.2zM964.1 520.5H972.2V528.9H964.1z"/><path fill="#81cc59" d="M875.4 136.0H883.5V152.7H875.4zM915.7 136.0H931.9V378.4H915.7zM1093.1 136.0H1109.2V144.4H1093.1zM1214.0 136.0H1222.0V311.5H1214.0zM867.4 186.2H875.4V202.9H867.4zM1125.3 202.9H1133.4V211.2H1125.3zM956.0 261.4H964.1V269.7H956.0zM883.5 286.5H891.6V378.4H883.5zM931.9 286.5H948.0V378.4H931.9zM1133.4 286.5H1141.4V311.5H1133.4zM1117.2 336.6H1125.3V345.0H1117.2zM1076.9 370.0H1093.1V378.4H1076.9zM1109.2 370.0H1117.2V378.4H1109.2zM1197.8 370.0H1205.9V378.4H1197.8zM1189.8 386.8H1197.8V395.1H1189.8zM948.0 395.1H964.1V403.5H948.0zM1052.8 395.1H1060.8V403.5H1052.8zM1044.7 403.5H1052.8V411.8H1044.7zM980.2 420.2H996.3V428.6H980.2zM1060.8 420.2H1076.9V428.6H1060.8zM1173.7 420.2H1189.8V462.0H1173.7zM1076.9 445.3H1085.0V453.6H1076.9zM859.3 453.6H867.4V462.0H859.3zM875.4 453.6H883.5V462.0H875.4zM867.4 470.4H875.4V478.7H867.4zM948.0 470.4H956.0V478.7H948.0zM891.6 487.1H907.7V495.4H891.6zM939.9 503.8H948.0V512.1H939.9zM1117.2 503.8H1133.4V512.1H1117.2zM980.2 528.9H988.3V537.2H980.2zM996.3 537.2H1004.4V545.6H996.3zM1052.8 537.2H1076.9V545.6H1052.8zM1052.8 545.6H1060.8V553.9H1052.8z"/><path fill="#8fcb4e" d="M1093.1 144.4H1109.2V152.7H1093.1zM875.4 152.7H883.5V194.5H875.4zM1125.3 194.5H1133.4V202.9H1125.3zM867.4 202.9H875.4V211.2H867.4zM931.9 244.7H948.0V286.5H931.9zM1133.4 244.7H1141.4V286.5H1133.4zM956.0 269.7H964.1V278.1H956.0zM1133.4 311.5H1141.4V328.3H1133.4zM1117.2 328.3H1125.3V336.6H1117.2zM1205.9 345.0H1214.0V353.3H1205.9zM1109.2 353.3H1117.2V370.0H1109.2zM1076.9 361.7H1093.1V370.0H1076.9zM1197.8 361.7H1205.9V370.0H1197.8zM1125.3 386.8H1133.4V395.1H1125.3zM1052.8 403.5H1060.8V411.8H1052.8zM964.1 411.8H980.2V420.2H964.1zM1060.8 411.8H1076.9V420.2H1060.8zM980.2 428.6H996.3V436.9H980.2zM1060.8 428.6H1076.9V436.9H1060.8zM875.4 445.3H883.5V453.6H875.4zM1173.7 462.0H1189.8V470.4H1173.7zM1109.2 470.4H1125.3V478.7H1109.2zM891.6 478.7H939.9V487.1H891.6zM907.7 487.1H923.8V495.4H907.7zM1165.6 487.1H1181.7V495.4H1165.6zM939.9 495.4H948.0V503.8H939.9zM1036.6 512.1H1044.7V520.5H1036.6z"/><path fill="#9dc943" d="M1093.1 152.7H1109.2V169.4H1093.1zM1125.3 186.2H1133.4V194.5H1125.3zM875.4 194.5H883.5V236.3H875.4zM931.9 202.9H948.0V244.7H931.9zM1133.4 202.9H1141.4V244.7H1133.4zM867.4 211.2H875.4V227.9H867.4zM956.0 278.1H964.1V286.5H956.0zM1117.2 319.9H1125.3V328.3H1117.2zM1133.4 328.3H1141.4V345.0H1133.4zM1109.2 336.6H1117.2V353.3H1109.2zM1205.9 336.6H1214.0V345.0H1205.9zM1076.9 353.3H1093.1V361.7H1076.9zM1197.8 353.3H1205.9V361.7H1197.8zM948.0 386.8H964.1V395.1H948.0zM1060.8 395.1H1076.9V411.8H1060.8zM1044.7 411.8H1052.8V420.2H1044.7zM1173.7 411.8H1189.8V420.2H1173.7zM875.4 436.9H883.5V445.3H875.4zM980.2 436.9H996.3V445.3H980.2zM1060.8 436.9H1076.9V445.3H1060.8zM867.4 462.0H875.4V470.4H867.4zM1173.7 470.4H1189.8V478.7H1173.7zM923.8 487.1H939.9V495.4H923.8zM948.0 512.1H956.0V520.5H948.0zM1004.4 545.6H1012.5V553.9H1004.4z"/><path fill="#abc739" d="M931.9 161.1H948.0V202.9H931.9zM1133.4 161.1H1141.4V202.9H1133.4zM1093.1 169.4H1109.2V186.2H1093.1zM1125.3 177.8H1133.4V186.2H1125.3zM867.4 227.9H875.4V236.3H867.4zM875.4 236.3H883.5V278.1H875.4zM956.0 286.5H964.1V294.8H956.0zM1117.2 311.5H1125.3V319.9H1117.2zM1109.2 319.9H1117.2V336.6H1109.2zM1076.9 345.0H1093.1V353.3H1076.9zM1133.4 345.0H1141.4V361.7H1133.4zM1197.8 345.0H1205.9V353.3H1197.8zM948.0 378.4H964.1V386.8H948.0zM1189.8 378.4H1197.8V386.8H1189.8zM1060.8 386.8H1076.9V395.1H1060.8zM1173.7 403.5H1189.8V411.8H1173.7zM1052.8 411.8H1060.8V420.2H1052.8zM875.4 428.6H883.5V436.9H875.4zM980.2 445.3H996.3V453.6H980.2zM1060.8 445.3H1076.9V453.6H1060.8zM1085.0 445.3H1093.1V453.6H1085.0zM1076.9 453.6H1085.0V462.0H1076.9zM956.0 470.4H964.1V478.7H956.0zM939.9 478.7H956.0V487.1H939.9zM939.9 487.1H948.0V495.4H939.9zM996.3 495.4H1012.5V503.8H996.3zM956.0 512.1H964.1V520.5H956.0zM1085.0 520.5H1101.1V528.9H1085.0zM1012.5 553.9H1020.5V562.3H1012.5z"/><path fill="#b9c431" d="M931.9 136.0H956.0V161.1H931.9zM1060.8 136.0H1076.9V144.4H1060.8zM1109.2 136.0H1125.3V311.5H1109.2zM1133.4 136.0H1141.4V161.1H1133.4zM1205.9 136.0H1214.0V144.4H1205.9zM1060.8 144.4H1068.9V386.8H1060.8zM948.0 161.1H956.0V378.4H948.0zM1125.3 169.4H1133.4V177.8H1125.3zM1093.1 186.2H1109.2V194.5H1093.1zM867.4 236.3H875.4V253.0H867.4zM875.4 278.1H883.5V428.6H875.4zM956.0 294.8H964.1V378.4H956.0zM1109.2 311.5H1117.2V319.9H1109.2zM1205.9 328.3H1214.0V336.6H1205.9zM1076.9 336.6H1093.1V345.0H1076.9zM1197.8 336.6H1205.9V345.0H1197.8zM1133.4 361.7H1141.4V378.4H1133.4zM1068.9 370.0H1076.9V386.8H1068.9zM1189.8 370.0H1197.8V378.4H1189.8zM1125.3 395.1H1133.4V403.5H1125.3zM1173.7 395.1H1189.8V403.5H1173.7zM867.4 420.2H875.4V462.0H867.4zM964.1 420.2H980.2V462.0H964.1zM1044.7 420.2H1060.8V487.1H1044.7zM980.2 453.6H996.3V462.0H980.2zM1060.8 453.6H1076.9V487.1H1060.8zM988.3 462.0H996.3V487.1H988.3zM1173.7 478.7H1189.8V487.1H1173.7zM948.0 487.1H956.0V512.1H948.0zM1149.5 487.1H1165.6V495.4H1149.5zM1117.2 495.4H1149.5V503.8H1117.2zM956.0 503.8H964.1V512.1H956.0zM972.2 520.5H980.2V528.9H972.2zM1068.9 520.5H1085.0V537.2H1068.9zM988.3 528.9H996.3V537.2H988.3zM1060.8 528.9H1068.9V537.2H1060.8z"/><path fill="#c5c22a" d="M1068.9 144.4H1076.9V186.2H1068.9zM1205.9 144.4H1214.0V186.2H1205.9zM1125.3 161.1H1133.4V169.4H1125.3zM1093.1 194.5H1109.2V211.2H1093.1zM867.4 253.0H875.4V269.7H867.4zM1205.9 319.9H1214.0V328.3H1205.9zM1076.9 328.3H1093.1V336.6H1076.9zM1197.8 328.3H1205.9V336.6H1197.8zM1068.9 353.3H1076.9V370.0H1068.9zM1189.8 361.7H1197.8V370.0H1189.8zM1133.4 378.4H1141.4V386.8H1133.4zM867.4 411.8H875.4V420.2H867.4zM964.1 462.0H988.3V470.4H964.1zM1076.9 462.0H1085.0V470.4H1076.9zM1165.6 478.7H1173.7V487.1H1165.6zM988.3 487.1H996.3V495.4H988.3zM964.1 503.8H972.2V512.1H964.1zM1036.6 520.5H1044.7V528.9H1036.6zM1052.8 553.9H1060.8V562.3H1052.8z"/><path fill="#d1bf27" d="M1125.3 152.7H1133.4V161.1H1125.3zM1068.9 186.2H1076.9V227.9H1068.9zM1205.9 186.2H1214.0V227.9H1205.9zM1093.1 211.2H1109.2V219.6H1093.1zM867.4 269.7H875.4V278.1H867.4zM1076.9 319.9H1093.1V328.3H1076.9zM1197.8 319.9H1205.9V328.3H1197.8zM1068.9 336.6H1076.9V353.3H1068.9zM1189.8 353.3H1197.8V361.7H1189.8zM1173.7 386.8H1189.8V395.1H1173.7zM867.4 395.1H875.4V411.8H867.4zM1125.3 403.5H1133.4V411.8H1125.3zM964.1 470.4H988.3V478.7H964.1zM1076.9 470.4H1085.0V478.7H1076.9zM1165.6 470.4H1173.7V478.7H1165.6zM1044.7 487.1H1076.9V495.4H1044.7zM956.0 495.4H972.2V503.8H956.0z"/><path fill="#dcbd29" d="M1125.3 144.4H1133.4V152.7H1125.3zM1093.1 219.6H1109.2V236.3H1093.1zM1068.9 227.9H1076.9V269.7H1068.9zM1205.9 227.9H1214.0V269.7H1205.9zM867.4 278.1H875.4V294.8H867.4zM1076.9 311.5H1093.1V319.9H1076.9zM1197.8 311.5H1214.0V319.9H1197.8zM1068.9 319.9H1076.9V336.6H1068.9zM1189.8 345.0H1197.8V353.3H1189.8zM1173.7 378.4H1189.8V386.8H1173.7zM867.4 386.8H875.4V395.1H867.4zM1133.4 386.8H1141.4V395.1H1133.4zM1085.0 453.6H1093.1V462.0H1085.0zM956.0 478.7H964.1V495.4H956.0zM964.1 487.1H972.2V495.4H964.1zM988.3 495.4H996.3V503.8H988.3zM1109.2 503.8H1117.2V512.1H1109.2zM964.1 512.1H972.2V520.5H964.1zM1101.1 512.1H1109.2V520.5H1101.1z"/><path fill="#e6bb2d" d="M1076.9 136.0H1093.1V311.5H1076.9zM1125.3 136.0H1133.4V144.4H1125.3zM1141.4 136.0H1149.5V311.5H1141.4zM1197.8 136.0H1205.9V311.5H1197.8zM1093.1 236.3H1109.2V253.0H1093.1zM1068.9 269.7H1076.9V319.9H1068.9zM1205.9 269.7H1214.0V311.5H1205.9zM867.4 294.8H875.4V386.8H867.4zM1189.8 336.6H1197.8V345.0H1189.8zM1093.1 378.4H1109.2V462.0H1093.1zM1133.4 395.1H1141.4V403.5H1133.4zM1157.5 428.6H1173.7V470.4H1157.5zM1085.0 462.0H1093.1V487.1H1085.0zM1157.5 470.4H1165.6V487.1H1157.5zM964.1 478.7H988.3V487.1H964.1zM1076.9 478.7H1085.0V487.1H1076.9zM972.2 487.1H988.3V520.5H972.2zM1093.1 503.8H1109.2V512.1H1093.1zM1020.5 512.1H1028.6V520.5H1020.5zM1085.0 512.1H1101.1V520.5H1085.0zM980.2 520.5H996.3V528.9H980.2zM996.3 528.9H1004.4V537.2H996.3zM1004.4 537.2H1012.5V545.6H1004.4z"/><path fill="#f0ba36" d="M1149.5 136.0H1157.5V177.8H1149.5zM1189.8 136.0H1197.8V177.8H1189.8zM1093.1 253.0H1109.2V261.4H1093.1zM1141.4 311.5H1149.5V328.3H1141.4zM1189.8 328.3H1197.8V336.6H1189.8zM1093.1 361.7H1109.2V378.4H1093.1zM1173.7 361.7H1189.8V378.4H1173.7zM1125.3 411.8H1133.4V420.2H1125.3zM1157.5 411.8H1173.7V428.6H1157.5zM1093.1 462.0H1109.2V470.4H1093.1zM1109.2 478.7H1125.3V487.1H1109.2zM1149.5 478.7H1157.5V487.1H1149.5zM1117.2 487.1H1149.5V495.4H1117.2zM988.3 503.8H1012.5V512.1H988.3zM1020.5 520.5H1028.6V528.9H1020.5zM1012.5 545.6H1020.5V553.9H1012.5z"/><path fill="#f8ba3d" d="M1149.5 177.8H1157.5V219.6H1149.5zM1189.8 177.8H1197.8V219.6H1189.8zM1093.1 261.4H1109.2V278.1H1093.1zM1189.8 319.9H1197.8V328.3H1189.8zM1141.4 328.3H1149.5V345.0H1141.4zM1093.1 345.0H1109.2V361.7H1093.1zM1173.7 345.0H1189.8V361.7H1173.7zM1133.4 403.5H1141.4V411.8H1133.4zM1157.5 403.5H1173.7V411.8H1157.5zM1149.5 470.4H1157.5V478.7H1149.5zM1076.9 487.1H1093.1V495.4H1076.9zM1044.7 495.4H1076.9V503.8H1044.7zM1093.1 495.4H1117.2V503.8H1093.1zM1020.5 553.9H1028.6V562.3H1020.5z"/><path fill="#febe3c" d="M1149.5 219.6H1157.5V261.4H1149.5zM1189.8 219.6H1197.8V261.4H1189.8zM1093.1 278.1H1109.2V294.8H1093.1zM1189.8 311.5H1197.8V319.9H1189.8zM1093.1 328.3H1109.2V345.0H1093.1zM1173.7 328.3H1189.8V345.0H1173.7zM1141.4 345.0H1149.5V361.7H1141.4zM1157.5 386.8H1173.7V403.5H1157.5zM1133.4 411.8H1141.4V420.2H1133.4zM1093.1 470.4H1109.2V478.7H1093.1zM1093.1 487.1H1117.2V495.4H1093.1zM1076.9 495.4H1093.1V503.8H1076.9zM1068.9 512.1H1085.0V520.5H1068.9z"/><path fill="#fec338" d="M1149.5 261.4H1157.5V303.2H1149.5zM1189.8 261.4H1197.8V311.5H1189.8zM1093.1 294.8H1109.2V303.2H1093.1zM1093.1 311.5H1109.2V328.3H1093.1zM1173.7 311.5H1189.8V328.3H1173.7zM1141.4 361.7H1149.5V378.4H1141.4zM1157.5 378.4H1173.7V386.8H1157.5zM1125.3 420.2H1141.4V428.6H1125.3zM1149.5 462.0H1157.5V470.4H1149.5zM1093.1 478.7H1109.2V487.1H1093.1zM1085.0 503.8H1093.1V512.1H1085.0zM988.3 512.1H996.3V520.5H988.3zM996.3 520.5H1004.4V528.9H996.3zM1060.8 520.5H1068.9V528.9H1060.8zM1012.5 537.2H1020.5V545.6H1012.5z"/><path fill="#fec934" d="M1157.5 136.0H1189.8V311.5H1157.5zM1093.1 303.2H1109.2V311.5H1093.1zM1149.5 303.2H1157.5V462.0H1149.5zM1157.5 311.5H1173.7V378.4H1157.5zM1141.4 378.4H1149.5V487.1H1141.4zM1125.3 428.6H1141.4V487.1H1125.3zM1044.7 503.8H1085.0V512.1H1044.7zM996.3 512.1H1020.5V520.5H996.3zM1044.7 512.1H1068.9V520.5H1044.7zM1004.4 520.5H1020.5V537.2H1004.4zM1044.7 520.5H1060.8V537.2H1044.7zM1020.5 528.9H1044.7V537.2H1020.5zM1020.5 537.2H1036.6V545.6H1020.5zM1044.7 537.2H1052.8V545.6H1044.7zM1020.5 545.6H1028.6V553.9H1020.5z"/><path fill="#f9dc28" d="M1028.6 545.6H1036.6V553.9H1028.6zM1044.7 545.6H1052.8V553.9H1044.7z"/><path fill="#f7e324" d="M1036.6 537.2H1044.7V545.6H1036.6zM1028.6 553.9H1036.6V562.3H1028.6z"/><path fill="#f7ee1c" d="M1044.7 553.9H1052.8V562.3H1044.7z"/><path fill="#f7f418" d="M1036.6 545.6H1044.7V553.9H1036.6z"/><path fill="#f9fb15" d="M1036.6 553.9H1044.7V562.3H1036.6z"/></g></g>
<line x1="762.6" y1="179.6" x2="1326.8" y2="179.6" stroke="#fff" stroke-width="3.2" stroke-dasharray="31.5 18.5" clip-path="url(#hc01)"/>
<line x1="762.6" y1="492.8" x2="1326.8" y2="492.8" stroke="#fff" stroke-width="3.2" stroke-dasharray="31.5 18.5" clip-path="url(#hc01)"/>
<path d="M843.2 136.0v14.4M843.2 562.3v-14.4M1044.7 136.0v14.4M1044.7 562.3v-14.4M1246.2 136.0v14.4M1246.2 562.3v-14.4M762.6 157.0h14.4M1326.8 157.0h-14.4M762.6 226.0h14.4M1326.8 226.0h-14.4M762.6 295.0h14.4M1326.8 295.0h-14.4M762.6 364.0h14.4M1326.8 364.0h-14.4M762.6 433.0h14.4M1326.8 433.0h-14.4M762.6 502.0h14.4M1326.8 502.0h-14.4" stroke="#000" stroke-width="4.8" fill="none"/>
<rect x="762.6" y="136.0" width="564.2" height="426.3" fill="none" stroke="#000" stroke-width="4.9"/>
<text x="843.2" y="606.0" font-size="30.5" text-anchor="middle">600</text>
<text x="1044.7" y="606.0" font-size="30.5" text-anchor="middle">850</text>
<text x="1246.2" y="606.0" font-size="30.5" text-anchor="middle">1100</text>
<text x="1045.3" y="650.0" font-size="29" text-anchor="middle">Wavelength (nm)</text>
<text x="104.8" y="165.7" font-size="30" text-anchor="end">0.06</text>
<text x="104.8" y="234.7" font-size="30" text-anchor="end">0.05</text>
<text x="104.8" y="303.7" font-size="30" text-anchor="end">0.04</text>
<text x="104.8" y="372.7" font-size="30" text-anchor="end">0.03</text>
<text x="104.8" y="441.7" font-size="30" text-anchor="end">0.02</text>
<text x="104.8" y="510.7" font-size="30" text-anchor="end">0.01</text>
<text transform="translate(27.3 349.5) rotate(-90)" font-size="28.4" text-anchor="middle">Distance (m)</text>
<line x1="1327.5" y1="179.6" x2="1406" y2="179.6" stroke="#000" stroke-width="3.3" stroke-dasharray="18.8 18.7"/>
<path d="M1404.6 171.9L1417.4 179.6L1404.6 187.3Z" fill="#000"/>
<line x1="1327.5" y1="492.8" x2="1406" y2="492.8" stroke="#000" stroke-width="3.3" stroke-dasharray="18.8 18.7"/>
<path d="M1404.6 485.1L1417.4 492.8L1404.6 500.5Z" fill="#000"/>
<clipPath id="lc00"><rect x="1419.0" y="99.1" width="564.5" height="214.7"/></clipPath>
<polyline points="1503.9,313.8 1513.0,165.8 1519.9,160.1 1525.5,162.4 1532.4,177.2 1538.1,170.4 1544.9,168.6 1551.7,182.9 1558.6,239.8 1564.8,161.2 1571.1,168.1 1577.9,156.7 1590.5,158.4 1597.3,146.4 1603.0,152.7 1610.9,157.8 1623.5,180.6 1629.2,173.2 1636.0,189.7 1642.8,176.0 1649.7,169.2 1656.5,168.1 1662.2,162.4 1666.7,169.2 1674.7,205.7 1681.5,178.3 1687.8,149.3 1694.6,254.6 1706.5,164.6 1712.9,158.1 1719.3,142.1 1733.0,157.3 1739.4,138.9 1745.8,134.1 1753.0,155.7 1758.6,158.1 1765.0,159.7 1771.5,146.9 1777.9,148.5 1784.3,158.1 1797.1,144.5 1808.4,142.9 1819.6,138.1 1834.0,134.9 1843.7,135.7 1856.5,144.5 1875.8,167.8 1893.4,193.4 1907.9,215.9 1923.9,246.4 1943.2,275.3 1956.0,292.9 1968.8,312.2" fill="none" stroke="#0072bd" stroke-width="3.8" stroke-linejoin="round" clip-path="url(#lc00)"/>
<polyline points="1498.2,313.8 1506.8,212.5 1512.5,185.2 1517.6,163.5 1520.4,157.8 1526.7,159.5 1535.8,170.4 1544.9,188.6 1551.2,218.2 1557.4,228.4 1566.0,197.1 1571.7,177.8 1577.9,154.4 1583.6,182.9 1587.0,207.9 1589.3,228.4 1596.1,197.7 1598.4,178.9 1608.7,157.8 1614.9,158.4 1623.5,177.2 1628.0,192.0 1637.1,203.9 1641.7,204.5 1649.7,189.7 1666.7,165.8 1678.1,179.5 1683.8,188.6 1689.5,189.7 1692.9,178.9 1692.8,179.0 1708.1,168.6 1713.7,164.6 1720.1,166.2 1726.5,154.1 1733.0,177.4 1738.6,153.3 1745.8,134.1 1753.0,144.5 1758.6,161.3 1765.0,163.0 1772.3,172.6 1778.2,194.2 1783.5,167.8 1785.9,161.3 1792.3,158.1 1797.9,158.1 1804.4,152.5 1818.0,136.5 1824.4,135.7 1834.0,140.5 1843.7,140.5 1856.5,156.5 1875.0,179.8 1888.6,196.6 1895.0,206.3 1906.3,219.1 1917.5,236.8 1935.1,260.0 1947.2,275.3 1958.4,286.5 1964.8,299.3" fill="none" stroke="#a2142f" stroke-width="3.8" stroke-linejoin="round" stroke-dasharray="31.5 18.5" clip-path="url(#lc00)"/>
<path d="M1499.6 99.1v7M1499.6 313.8v-7M1701.2 99.1v7M1701.2 313.8v-7M1902.9 99.1v7M1902.9 313.8v-7M1419.0 134.5h8.5M1983.5 134.5h-8.5M1419.0 224.2h8.5M1983.5 224.2h-8.5" stroke="#000" stroke-width="5" fill="none"/>
<rect x="1419.0" y="99.1" width="564.5" height="214.7" fill="none" stroke="#000" stroke-width="4.8"/>
<text x="1995.5" y="144.1" font-size="30" text-anchor="start">0</text>
<text x="1995.5" y="233.8" font-size="30" text-anchor="start">-20</text>
<text x="1995.5" y="323.4" font-size="30" text-anchor="start">-40</text>
<text x="1440.5" y="140.8" font-size="29.5" text-anchor="start" textLength="115" lengthAdjust="spacingAndGlyphs">z=0.06m</text>
<line x1="1731.2" y1="237.9" x2="1825.2" y2="237.9" stroke="#0072bd" stroke-width="3.9"/>
<line x1="1731.2" y1="276.9" x2="1812.8" y2="276.9" stroke="#a2142f" stroke-width="3.9" stroke-dasharray="31.5 18.6"/>
<text x="1835.7" y="245.5" font-size="25.2" text-anchor="start">RNN</text>
<text x="1835.7" y="284.6" font-size="25.2" text-anchor="start">GNLSE</text>
<clipPath id="lc01"><rect x="1419.0" y="346.8" width="564.5" height="215.6"/></clipPath>
<polyline points="1469.7,560.7 1476.2,541.2 1482.0,529.6 1489.3,512.2 1496.5,502.0 1502.3,502.8 1508.1,487.5 1515.4,455.7 1521.2,435.4 1527.0,416.5 1534.2,413.6 1540.0,415.8 1547.2,428.1 1560.3,433.2 1566.1,431.7 1572.6,428.8 1579.1,418.7 1586.4,415.8 1598.0,408.6 1605.2,405.7 1611.0,399.1 1617.5,393.3 1624.1,397.7 1631.3,399.9 1637.1,404.9 1642.9,416.5 1649.4,421.6 1655.9,444.8 1663.2,444.8 1669.0,422.3 1676.2,415.8 1682.0,418.0 1687.8,419.4 1695.1,408.6 1700.9,408.6 1708.1,416.5 1700.0,408.0 1707.5,416.3 1715.0,405.0 1721.8,395.3 1727.8,398.3 1734.5,396.8 1740.5,408.0 1746.5,418.5 1753.3,422.3 1760.0,411.8 1766.0,410.3 1773.6,398.3 1781.1,390.8 1785.6,390.8 1791.6,386.3 1798.3,382.5 1805.1,387.8 1812.6,392.3 1820.1,392.3 1827.6,396.0 1833.6,401.3 1842.6,406.5 1850.1,414.0 1857.6,423.0 1865.1,433.6 1872.6,445.6 1880.1,459.1 1887.6,472.6 1895.1,484.6 1902.6,496.6 1910.1,506.4 1919.2,515.4 1929.7,525.1 1940.2,534.1 1953.7,538.6 1968.7,540.1 1982.2,542.7" fill="none" stroke="#0072bd" stroke-width="3.8" stroke-linejoin="round" clip-path="url(#lc01)"/>
<polyline points="1461.0,560.0 1471.2,533.9 1480.6,515.8 1489.3,504.9 1496.5,499.9 1502.3,497.0 1508.1,475.9 1516.1,447.0 1520.4,428.1 1527.0,410.7 1535.7,405.7 1541.4,410.7 1548.7,421.6 1560.3,431.0 1571.9,423.8 1579.1,416.5 1586.4,410.7 1599.4,403.5 1612.5,395.5 1622.6,394.8 1632.8,397.7 1641.4,406.4 1650.1,420.9 1657.4,442.6 1663.2,442.6 1669.0,420.9 1682.0,419.4 1696.5,399.1 1715.0,401.3 1724.0,389.3 1731.5,393.0 1738.3,399.0 1745.0,415.5 1753.3,423.0 1758.5,414.0 1763.0,404.3 1772.1,392.3 1785.6,384.0 1796.1,381.8 1805.1,382.5 1817.1,387.8 1833.6,395.3 1841.1,400.5 1848.6,407.3 1859.1,418.5 1868.1,430.5 1872.6,438.1 1877.9,447.1 1886.1,460.6 1892.9,473.3 1897.4,481.6 1901.9,490.6 1910.1,504.1 1919.2,516.1 1928.2,522.1 1936.4,525.9 1952.2,528.9 1965.7,531.1" fill="none" stroke="#a2142f" stroke-width="3.8" stroke-linejoin="round" stroke-dasharray="31.5 18.5" clip-path="url(#lc01)"/>
<path d="M1499.6 346.8v7M1499.6 562.4v-7M1701.2 346.8v7M1701.2 562.4v-7M1902.9 346.8v7M1902.9 562.4v-7M1419.0 382.4h8.5M1983.5 382.4h-8.5M1419.0 472.4h8.5M1983.5 472.4h-8.5" stroke="#000" stroke-width="5" fill="none"/>
<rect x="1419.0" y="346.8" width="564.5" height="215.6" fill="none" stroke="#000" stroke-width="4.8"/>
<text x="1995.5" y="392.0" font-size="30" text-anchor="start">0</text>
<text x="1995.5" y="482.0" font-size="30" text-anchor="start">-20</text>
<text x="1995.5" y="572.0" font-size="30" text-anchor="start">-40</text>
<text x="1440.5" y="388.5" font-size="29.5" text-anchor="start" textLength="115" lengthAdjust="spacingAndGlyphs">z=0.01m</text>
<text transform="translate(2059.5 332.9) rotate(90)" font-size="29" text-anchor="middle">Spectral intensity (dB)</text>
<text x="1499.6" y="605.0" font-size="30.5" text-anchor="middle">600</text>
<text x="1701.2" y="605.0" font-size="30.5" text-anchor="middle">850</text>
<text x="1902.9" y="605.0" font-size="30.5" text-anchor="middle">1100</text>
<text x="1701.2" y="649.0" font-size="29" text-anchor="middle">Wavelength (nm)</text>
</g>
<g transform="translate(0 710.0)">
<text x="-1.0" y="71.7" font-size="29" text-anchor="start" font-weight="bold">b</text>
<text x="270.5" y="74.3" font-size="28.8" text-anchor="middle">GNLSE</text>
<text x="418.3" y="22.5" font-size="27.5" textLength="283" lengthAdjust="spacingAndGlyphs">Spectral intensity (dB)</text>
<text x="431.7" y="64.9" font-size="26.6" text-anchor="middle">-40</text>
<text x="558.4" y="64.9" font-size="26.6" text-anchor="middle">-20</text>
<text x="685.0" y="64.9" font-size="26.6" text-anchor="middle">0</text>
<rect x="431.7" y="89.3" width="253.3" height="28" fill="url(#cbg)" stroke="#000" stroke-width="3"/>
<line x1="558.4" y1="90.8" x2="558.4" y2="103.3" stroke="#000" stroke-width="3"/>
<clipPath id="hc10"><rect x="120.5" y="136.0" width="564.5" height="426.3"/></clipPath>
<rect x="120.5" y="136.0" width="564.5" height="426.3" fill="#3e26a8"/>
<g clip-path="url(#hc10)"><g filter="url(#hblur)" shape-rendering="crispEdges"><path fill="#402ab4" d="M233.4 186.2H241.5V194.5H233.4zM572.1 236.3H580.2V253.0H572.1zM564.0 353.3H572.1V370.0H564.0zM556.0 361.7H564.0V370.0H556.0zM547.9 411.8H556.0V420.2H547.9zM547.9 436.9H564.0V445.3H547.9zM539.8 503.8H564.0V512.1H539.8z"/><path fill="#422ec0" d="M233.4 177.8H241.5V186.2H233.4zM572.1 219.6H580.2V236.3H572.1zM564.0 336.6H572.1V353.3H564.0zM547.9 395.1H556.0V411.8H547.9zM547.9 445.3H564.0V462.0H547.9z"/><path fill="#4332cb" d="M233.4 169.4H241.5V177.8H233.4zM572.1 202.9H580.2V219.6H572.1zM564.0 328.3H572.1V336.6H564.0zM556.0 353.3H564.0V361.7H556.0zM547.9 386.8H556.0V395.1H547.9zM547.9 462.0H564.0V478.7H547.9zM539.8 495.4H564.0V503.8H539.8zM531.8 512.1H539.8V520.5H531.8zM443.1 537.2H451.1V545.6H443.1z"/><path fill="#4537d5" d="M572.1 136.0H580.2V202.9H572.1zM233.4 161.1H241.5V169.4H233.4zM564.0 253.0H572.1V328.3H564.0zM556.0 345.0H564.0V353.3H556.0zM547.9 370.0H556.0V386.8H547.9zM539.8 420.2H547.9V495.4H539.8zM547.9 478.7H564.0V495.4H547.9zM346.3 537.2H354.4V545.6H346.3z"/><path fill="#463cde" d="M233.4 152.7H241.5V161.1H233.4zM564.0 244.7H572.1V253.0H564.0zM556.0 336.6H564.0V345.0H556.0zM539.8 411.8H547.9V420.2H539.8zM531.8 503.8H539.8V512.1H531.8z"/><path fill="#4741e5" d="M564.0 236.3H572.1V244.7H564.0zM556.0 328.3H564.0V336.6H556.0zM547.9 361.7H556.0V370.0H547.9zM539.8 395.1H547.9V411.8H539.8zM241.5 503.8H249.5V512.1H241.5zM523.7 512.1H531.8V520.5H523.7zM354.4 545.6H362.4V553.9H354.4zM435.0 545.6H443.1V553.9H435.0z"/><path fill="#4747eb" d="M233.4 144.4H241.5V152.7H233.4zM556.0 319.9H564.0V328.3H556.0zM547.9 353.3H556.0V361.7H547.9zM539.8 386.8H547.9V395.1H539.8zM531.8 495.4H539.8V503.8H531.8zM289.9 520.5H297.9V528.9H289.9z"/><path fill="#484df0" d="M233.4 136.0H241.5V144.4H233.4zM564.0 227.9H572.1V236.3H564.0zM556.0 253.0H564.0V319.9H556.0zM547.9 345.0H556.0V353.3H547.9zM539.8 378.4H547.9V386.8H539.8zM515.7 487.1H539.8V495.4H515.7zM523.7 495.4H531.8V512.1H523.7zM249.5 512.1H257.6V520.5H249.5zM507.6 512.1H523.7V520.5H507.6zM443.1 528.9H451.1V537.2H443.1z"/><path fill="#4852f4" d="M346.3 136.0H354.4V152.7H346.3zM564.0 219.6H572.1V227.9H564.0zM547.9 336.6H556.0V345.0H547.9zM330.2 361.7H338.2V386.8H330.2zM539.8 370.0H547.9V378.4H539.8zM531.8 470.4H539.8V487.1H531.8zM523.7 478.7H531.8V487.1H523.7z"/><path fill="#4758f8" d="M346.3 152.7H354.4V169.4H346.3zM564.0 211.2H572.1V219.6H564.0zM556.0 244.7H564.0V253.0H556.0zM547.9 328.3H556.0V336.6H547.9zM330.2 345.0H338.2V361.7H330.2zM539.8 361.7H547.9V370.0H539.8zM330.2 386.8H338.2V403.5H330.2zM531.8 462.0H539.8V470.4H531.8zM515.7 478.7H523.7V487.1H515.7zM515.7 495.4H523.7V503.8H515.7zM297.9 520.5H314.0V528.9H297.9zM475.3 520.5H483.4V528.9H475.3z"/><path fill="#465efb" d="M346.3 169.4H354.4V177.8H346.3zM564.0 202.9H572.1V211.2H564.0zM547.9 319.9H556.0V328.3H547.9zM330.2 328.3H338.2V345.0H330.2zM539.8 353.3H547.9V361.7H539.8zM330.2 403.5H338.2V411.8H330.2zM531.8 445.3H539.8V462.0H531.8zM523.7 470.4H531.8V478.7H523.7zM499.5 512.1H507.6V520.5H499.5zM435.0 537.2H443.1V545.6H435.0z"/><path fill="#4563fd" d="M346.3 177.8H354.4V194.5H346.3zM564.0 194.5H572.1V202.9H564.0zM556.0 236.3H564.0V244.7H556.0zM330.2 319.9H338.2V328.3H330.2zM539.8 345.0H547.9V353.3H539.8zM330.2 411.8H338.2V428.6H330.2zM531.8 428.6H539.8V445.3H531.8zM523.7 462.0H531.8V470.4H523.7zM515.7 470.4H523.7V478.7H515.7zM515.7 503.8H523.7V512.1H515.7z"/><path fill="#4269fe" d="M314.0 136.0H322.1V152.7H314.0zM338.2 136.0H346.3V152.7H338.2zM564.0 136.0H572.1V194.5H564.0zM346.3 194.5H354.4V261.4H346.3zM556.0 227.9H564.0V236.3H556.0zM338.2 303.2H346.3V436.9H338.2zM547.9 303.2H556.0V319.9H547.9zM322.1 311.5H338.2V319.9H322.1zM322.1 319.9H330.2V436.9H322.1zM539.8 336.6H547.9V345.0H539.8zM314.0 361.7H322.1V436.9H314.0zM531.8 370.0H539.8V428.6H531.8zM330.2 428.6H338.2V436.9H330.2zM523.7 453.6H531.8V462.0H523.7zM515.7 462.0H523.7V470.4H515.7zM346.3 528.9H354.4V537.2H346.3zM370.5 553.9H378.6V562.3H370.5zM418.9 553.9H426.9V562.3H418.9z"/><path fill="#3e6fff" d="M314.0 152.7H322.1V161.1H314.0zM338.2 152.7H346.3V161.1H338.2zM338.2 286.5H346.3V303.2H338.2zM547.9 286.5H556.0V303.2H547.9zM322.1 303.2H338.2V311.5H322.1zM539.8 328.3H547.9V336.6H539.8zM314.0 345.0H322.1V361.7H314.0zM330.2 436.9H338.2V453.6H330.2zM523.7 445.3H531.8V453.6H523.7zM257.6 512.1H265.7V520.5H257.6zM483.4 512.1H499.5V520.5H483.4zM314.0 520.5H322.1V528.9H314.0zM467.3 520.5H475.3V528.9H467.3zM354.4 537.2H362.4V545.6H354.4zM362.4 545.6H370.5V553.9H362.4zM426.9 545.6H435.0V553.9H426.9z"/><path fill="#3875fe" d="M314.0 161.1H322.1V177.8H314.0zM338.2 161.1H346.3V177.8H338.2zM556.0 219.6H564.0V227.9H556.0zM346.3 261.4H354.4V269.7H346.3zM338.2 278.1H346.3V286.5H338.2zM547.9 278.1H556.0V286.5H547.9zM322.1 294.8H338.2V303.2H322.1zM314.0 336.6H322.1V345.0H314.0zM531.8 361.7H539.8V370.0H531.8zM314.0 436.9H330.2V445.3H314.0zM338.2 436.9H346.3V445.3H338.2zM523.7 436.9H531.8V445.3H523.7zM330.2 453.6H338.2V470.4H330.2zM515.7 453.6H523.7V462.0H515.7zM241.5 495.4H249.5V503.8H241.5zM507.6 503.8H515.7V512.1H507.6z"/><path fill="#327cfc" d="M314.0 177.8H322.1V194.5H314.0zM338.2 177.8H346.3V194.5H338.2zM338.2 261.4H346.3V278.1H338.2zM547.9 261.4H556.0V278.1H547.9zM346.3 269.7H354.4V278.1H346.3zM322.1 286.5H338.2V294.8H322.1zM314.0 319.9H322.1V336.6H314.0zM539.8 319.9H547.9V328.3H539.8zM531.8 353.3H539.8V361.7H531.8zM523.7 428.6H531.8V436.9H523.7zM314.0 445.3H330.2V453.6H314.0zM338.2 445.3H346.3V453.6H338.2zM515.7 445.3H523.7V453.6H515.7zM330.2 470.4H338.2V487.1H330.2z"/><path fill="#2f81fa" d="M273.7 186.2H281.8V261.4H273.7zM322.1 186.2H330.2V202.9H322.1zM314.0 194.5H322.1V319.9H314.0zM338.2 194.5H346.3V261.4H338.2zM556.0 211.2H564.0V219.6H556.0zM547.9 253.0H556.0V261.4H547.9zM322.1 278.1H338.2V286.5H322.1zM539.8 311.5H547.9V319.9H539.8zM346.3 370.0H354.4V428.6H346.3zM523.7 370.0H531.8V428.6H523.7zM314.0 453.6H330.2V462.0H314.0zM338.2 453.6H346.3V462.0H338.2zM330.2 487.1H338.2V495.4H330.2zM249.5 503.8H257.6V512.1H249.5zM265.7 512.1H289.9V520.5H265.7zM322.1 520.5H330.2V528.9H322.1zM459.2 520.5H467.3V528.9H459.2zM435.0 528.9H443.1V537.2H435.0z"/><path fill="#2e87f7" d="M273.7 169.4H281.8V186.2H273.7zM322.1 169.4H330.2V186.2H322.1zM322.1 202.9H330.2V219.6H322.1zM273.7 261.4H281.8V269.7H273.7zM322.1 269.7H338.2V278.1H322.1zM346.3 278.1H354.4V286.5H346.3zM539.8 303.2H547.9V311.5H539.8zM531.8 345.0H539.8V353.3H531.8zM346.3 361.7H354.4V370.0H346.3zM346.3 428.6H354.4V436.9H346.3zM515.7 436.9H523.7V445.3H515.7zM314.0 462.0H330.2V470.4H314.0zM338.2 462.0H346.3V470.4H338.2zM507.6 495.4H515.7V503.8H507.6z"/><path fill="#2d8cf3" d="M273.7 161.1H281.8V169.4H273.7zM322.1 161.1H330.2V169.4H322.1zM556.0 202.9H564.0V211.2H556.0zM322.1 219.6H330.2V236.3H322.1zM547.9 244.7H556.0V253.0H547.9zM273.7 269.7H281.8V278.1H273.7zM539.8 294.8H547.9V303.2H539.8zM346.3 353.3H354.4V361.7H346.3zM523.7 361.7H531.8V370.0H523.7zM346.3 436.9H354.4V445.3H346.3zM314.0 470.4H330.2V478.7H314.0zM338.2 470.4H346.3V478.7H338.2z"/><path fill="#2b91ef" d="M273.7 144.4H281.8V161.1H273.7zM322.1 144.4H330.2V161.1H322.1zM556.0 194.5H564.0V202.9H556.0zM322.1 236.3H330.2V253.0H322.1zM322.1 261.4H338.2V269.7H322.1zM273.7 278.1H281.8V286.5H273.7zM346.3 286.5H354.4V294.8H346.3zM539.8 286.5H547.9V294.8H539.8zM531.8 336.6H539.8V345.0H531.8zM515.7 428.6H523.7V436.9H515.7zM346.3 445.3H354.4V453.6H346.3zM314.0 478.7H330.2V487.1H314.0zM338.2 478.7H346.3V487.1H338.2zM499.5 503.8H507.6V512.1H499.5z"/><path fill="#2797eb" d="M273.7 136.0H281.8V144.4H273.7zM322.1 136.0H338.2V144.4H322.1zM354.4 136.0H370.5V202.9H354.4zM459.2 136.0H475.3V194.5H459.2zM556.0 136.0H564.0V194.5H556.0zM330.2 144.4H338.2V261.4H330.2zM459.2 194.5H467.3V202.9H459.2zM354.4 202.9H362.4V261.4H354.4zM547.9 236.3H556.0V244.7H547.9zM241.5 253.0H249.5V261.4H241.5zM322.1 253.0H330.2V261.4H322.1zM346.3 345.0H354.4V353.3H346.3zM523.7 353.3H531.8V361.7H523.7zM354.4 370.0H370.5V378.4H354.4zM515.7 370.0H523.7V428.6H515.7zM354.4 378.4H362.4V428.6H354.4zM346.3 453.6H354.4V462.0H346.3zM314.0 487.1H330.2V495.4H314.0zM338.2 487.1H346.3V495.4H338.2zM507.6 487.1H515.7V495.4H507.6zM330.2 520.5H338.2V528.9H330.2z"/><path fill="#259be8" d="M306.0 136.0H314.0V144.4H306.0zM467.3 194.5H475.3V202.9H467.3zM459.2 202.9H467.3V219.6H459.2zM241.5 236.3H249.5V253.0H241.5zM241.5 261.4H249.5V269.7H241.5zM354.4 261.4H362.4V278.1H354.4zM539.8 278.1H547.9V286.5H539.8zM273.7 286.5H281.8V294.8H273.7zM346.3 294.8H354.4V303.2H346.3zM531.8 328.3H539.8V336.6H531.8zM346.3 336.6H354.4V345.0H346.3zM523.7 345.0H531.8V353.3H523.7zM354.4 353.3H362.4V370.0H354.4zM362.4 361.7H370.5V370.0H362.4zM346.3 462.0H354.4V470.4H346.3zM507.6 470.4H515.7V487.1H507.6zM426.9 537.2H435.0V545.6H426.9z"/><path fill="#23a0e5" d="M362.4 202.9H370.5V211.2H362.4zM241.5 219.6H249.5V236.3H241.5zM459.2 219.6H467.3V227.9H459.2zM547.9 227.9H556.0V236.3H547.9zM539.8 269.7H547.9V278.1H539.8zM354.4 278.1H362.4V294.8H354.4zM273.7 294.8H281.8V303.2H273.7zM346.3 303.2H354.4V311.5H346.3zM346.3 328.3H354.4V336.6H346.3zM354.4 336.6H362.4V353.3H354.4zM354.4 428.6H362.4V436.9H354.4zM507.6 453.6H515.7V470.4H507.6zM346.3 470.4H354.4V478.7H346.3z"/><path fill="#20a5e3" d="M306.0 144.4H314.0V152.7H306.0zM241.5 202.9H249.5V219.6H241.5zM362.4 211.2H370.5V219.6H362.4zM459.2 227.9H467.3V244.7H459.2zM539.8 261.4H547.9V269.7H539.8zM241.5 269.7H249.5V278.1H241.5zM354.4 294.8H362.4V303.2H354.4zM273.7 303.2H281.8V311.5H273.7zM346.3 319.9H354.4V328.3H346.3zM531.8 319.9H539.8V328.3H531.8zM354.4 328.3H362.4V336.6H354.4zM523.7 336.6H531.8V345.0H523.7zM362.4 353.3H370.5V361.7H362.4zM515.7 361.7H523.7V370.0H515.7zM362.4 378.4H370.5V386.8H362.4zM507.6 436.9H515.7V453.6H507.6zM346.3 478.7H354.4V487.1H346.3zM499.5 495.4H507.6V503.8H499.5zM257.6 503.8H265.7V512.1H257.6zM491.5 503.8H499.5V512.1H491.5zM475.3 512.1H483.4V520.5H475.3zM338.2 520.5H346.3V528.9H338.2zM451.1 520.5H459.2V528.9H451.1z"/><path fill="#1ca9df" d="M241.5 136.0H249.5V202.9H241.5zM386.6 136.0H402.8V194.5H386.6zM306.0 152.7H314.0V161.1H306.0zM467.3 202.9H475.3V211.2H467.3zM362.4 219.6H370.5V227.9H362.4zM459.2 244.7H467.3V261.4H459.2zM306.0 253.0H314.0V261.4H306.0zM539.8 253.0H547.9V261.4H539.8zM241.5 278.1H249.5V286.5H241.5zM354.4 303.2H362.4V328.3H354.4zM273.7 311.5H281.8V319.9H273.7zM346.3 311.5H354.4V319.9H346.3zM531.8 311.5H539.8V319.9H531.8zM362.4 345.0H370.5V353.3H362.4zM507.6 420.2H515.7V436.9H507.6zM354.4 436.9H362.4V445.3H354.4zM241.5 487.1H249.5V495.4H241.5zM265.7 487.1H289.9V512.1H265.7zM346.3 487.1H354.4V495.4H346.3zM249.5 495.4H257.6V503.8H249.5zM330.2 495.4H338.2V503.8H330.2zM289.9 512.1H297.9V520.5H289.9zM354.4 528.9H362.4V537.2H354.4zM426.9 528.9H435.0V537.2H426.9zM362.4 537.2H370.5V545.6H362.4z"/><path fill="#18addb" d="M386.6 194.5H402.8V202.9H386.6zM547.9 219.6H556.0V227.9H547.9zM362.4 227.9H370.5V236.3H362.4zM306.0 244.7H314.0V253.0H306.0zM539.8 244.7H547.9V253.0H539.8zM306.0 261.4H314.0V278.1H306.0zM459.2 261.4H467.3V278.1H459.2zM241.5 286.5H249.5V294.8H241.5zM531.8 294.8H539.8V311.5H531.8zM273.7 319.9H281.8V336.6H273.7zM523.7 328.3H531.8V336.6H523.7zM362.4 336.6H370.5V345.0H362.4zM515.7 353.3H523.7V361.7H515.7zM507.6 411.8H515.7V420.2H507.6zM241.5 470.4H249.5V487.1H241.5zM265.7 470.4H289.9V487.1H265.7zM483.4 503.8H491.5V512.1H483.4z"/><path fill="#12b1d6" d="M306.0 161.1H314.0V169.4H306.0zM386.6 202.9H402.8V211.2H386.6zM306.0 236.3H314.0V244.7H306.0zM362.4 236.3H370.5V244.7H362.4zM539.8 236.3H547.9V244.7H539.8zM306.0 278.1H314.0V286.5H306.0zM459.2 278.1H467.3V286.5H459.2zM531.8 286.5H539.8V294.8H531.8zM241.5 294.8H249.5V303.2H241.5zM362.4 328.3H370.5V336.6H362.4zM273.7 336.6H281.8V345.0H273.7zM507.6 395.1H515.7V411.8H507.6zM354.4 445.3H362.4V453.6H354.4zM241.5 453.6H249.5V470.4H241.5zM265.7 453.6H289.9V470.4H265.7zM297.9 512.1H306.0V520.5H297.9zM370.5 545.6H378.6V553.9H370.5z"/><path fill="#08b5d0" d="M386.6 211.2H402.8V219.6H386.6zM467.3 211.2H475.3V219.6H467.3zM547.9 211.2H556.0V219.6H547.9zM362.4 244.7H370.5V253.0H362.4zM531.8 269.7H539.8V286.5H531.8zM306.0 286.5H314.0V303.2H306.0zM459.2 286.5H467.3V303.2H459.2zM241.5 303.2H249.5V311.5H241.5zM362.4 319.9H370.5V328.3H362.4zM523.7 319.9H531.8V328.3H523.7zM273.7 345.0H281.8V361.7H273.7zM507.6 386.8H515.7V395.1H507.6zM241.5 436.9H249.5V453.6H241.5zM265.7 436.9H289.9V453.6H265.7zM314.0 495.4H330.2V503.8H314.0zM338.2 495.4H346.3V503.8H338.2zM467.3 512.1H475.3V520.5H467.3z"/><path fill="#01b8ca" d="M265.7 136.0H273.7V436.9H265.7zM281.8 136.0H289.9V261.4H281.8zM378.6 136.0H386.6V194.5H378.6zM306.0 169.4H314.0V177.8H306.0zM386.6 219.6H402.8V227.9H386.6zM306.0 227.9H314.0V236.3H306.0zM539.8 227.9H547.9V236.3H539.8zM362.4 253.0H378.6V319.9H362.4zM531.8 253.0H539.8V269.7H531.8zM306.0 303.2H314.0V428.6H306.0zM459.2 303.2H467.3V311.5H459.2zM241.5 311.5H249.5V436.9H241.5zM523.7 311.5H531.8V319.9H523.7zM515.7 345.0H523.7V353.3H515.7zM273.7 361.7H281.8V436.9H273.7zM281.8 378.4H289.9V436.9H281.8zM507.6 378.4H515.7V386.8H507.6zM362.4 386.8H370.5V395.1H362.4zM378.6 428.6H386.6V487.1H378.6zM499.5 428.6H507.6V495.4H499.5zM354.4 453.6H362.4V462.0H354.4zM257.6 495.4H265.7V503.8H257.6zM491.5 495.4H499.5V503.8H491.5zM306.0 512.1H314.0V520.5H306.0zM459.2 512.1H467.3V520.5H459.2zM443.1 520.5H451.1V528.9H443.1zM378.6 553.9H386.6V562.3H378.6zM410.8 553.9H418.9V562.3H410.8z"/><path fill="#02bac3" d="M378.6 194.5H386.6V202.9H378.6zM306.0 219.6H314.0V227.9H306.0zM539.8 219.6H547.9V227.9H539.8zM386.6 227.9H402.8V236.3H386.6zM370.5 236.3H378.6V253.0H370.5zM281.8 261.4H289.9V269.7H281.8zM281.8 361.7H289.9V378.4H281.8zM386.6 361.7H394.7V378.4H386.6zM507.6 370.0H515.7V378.4H507.6zM499.5 411.8H507.6V428.6H499.5zM370.5 420.2H386.6V428.6H370.5zM306.0 428.6H314.0V445.3H306.0zM370.5 428.6H378.6V445.3H370.5zM378.6 487.1H386.6V495.4H378.6zM346.3 495.4H354.4V503.8H346.3zM346.3 520.5H354.4V528.9H346.3zM418.9 545.6H426.9V553.9H418.9z"/><path fill="#0bbdbd" d="M306.0 177.8H314.0V186.2H306.0zM378.6 202.9H386.6V211.2H378.6zM547.9 202.9H556.0V211.2H547.9zM306.0 211.2H314.0V219.6H306.0zM539.8 211.2H547.9V219.6H539.8zM467.3 219.6H475.3V227.9H467.3zM370.5 227.9H378.6V236.3H370.5zM386.6 236.3H402.8V244.7H386.6zM531.8 244.7H539.8V253.0H531.8zM281.8 269.7H289.9V286.5H281.8zM523.7 303.2H531.8V311.5H523.7zM515.7 336.6H523.7V345.0H515.7zM281.8 345.0H289.9V361.7H281.8zM386.6 345.0H394.7V361.7H386.6zM386.6 378.4H394.7V386.8H386.6zM499.5 403.5H507.6V411.8H499.5zM378.6 411.8H386.6V420.2H378.6zM306.0 445.3H314.0V462.0H306.0zM370.5 445.3H378.6V462.0H370.5zM354.4 462.0H362.4V470.4H354.4zM314.0 512.1H322.1V520.5H314.0zM435.0 520.5H443.1V528.9H435.0z"/><path fill="#19bfb6" d="M306.0 186.2H314.0V194.5H306.0zM306.0 202.9H314.0V211.2H306.0zM539.8 202.9H547.9V211.2H539.8zM370.5 211.2H386.6V219.6H370.5zM370.5 219.6H378.6V227.9H370.5zM281.8 286.5H289.9V303.2H281.8zM523.7 294.8H531.8V303.2H523.7zM370.5 319.9H378.6V328.3H370.5zM281.8 328.3H289.9V345.0H281.8zM386.6 328.3H394.7V345.0H386.6zM507.6 361.7H515.7V370.0H507.6zM386.6 386.8H394.7V395.1H386.6zM499.5 386.8H507.6V403.5H499.5zM378.6 403.5H386.6V411.8H378.6zM306.0 462.0H314.0V470.4H306.0zM370.5 462.0H378.6V470.4H370.5zM475.3 503.8H483.4V512.1H475.3zM322.1 512.1H330.2V520.5H322.1zM451.1 512.1H459.2V520.5H451.1zM354.4 520.5H362.4V528.9H354.4z"/><path fill="#24c1ae" d="M306.0 194.5H314.0V202.9H306.0zM370.5 194.5H378.6V211.2H370.5zM539.8 194.5H556.0V202.9H539.8zM378.6 219.6H386.6V227.9H378.6zM531.8 236.3H539.8V244.7H531.8zM386.6 244.7H402.8V253.0H386.6zM523.7 286.5H531.8V294.8H523.7zM281.8 303.2H289.9V311.5H281.8zM281.8 319.9H289.9V328.3H281.8zM386.6 319.9H394.7V328.3H386.6zM515.7 328.3H523.7V336.6H515.7zM499.5 378.4H507.6V386.8H499.5zM362.4 395.1H370.5V403.5H362.4zM386.6 395.1H394.7V403.5H386.6zM370.5 411.8H378.6V420.2H370.5zM306.0 470.4H314.0V487.1H306.0zM370.5 470.4H378.6V487.1H370.5zM249.5 487.1H265.7V495.4H249.5zM491.5 487.1H499.5V495.4H491.5zM330.2 503.8H338.2V512.1H330.2z"/><path fill="#2cc4a7" d="M257.6 136.0H265.7V487.1H257.6zM370.5 136.0H378.6V194.5H370.5zM539.8 136.0H556.0V194.5H539.8zM378.6 227.9H386.6V236.3H378.6zM467.3 227.9H475.3V236.3H467.3zM531.8 227.9H539.8V236.3H531.8zM297.9 244.7H306.0V269.7H297.9zM451.1 244.7H459.2V336.6H451.1zM386.6 253.0H402.8V319.9H386.6zM523.7 278.1H531.8V286.5H523.7zM281.8 311.5H289.9V319.9H281.8zM394.7 319.9H402.8V328.3H394.7zM370.5 328.3H378.6V336.6H370.5zM499.5 370.0H507.6V378.4H499.5zM378.6 395.1H386.6V403.5H378.6zM491.5 411.8H499.5V487.1H491.5zM354.4 470.4H362.4V478.7H354.4zM249.5 478.7H257.6V487.1H249.5zM289.9 478.7H306.0V512.1H289.9zM386.6 478.7H394.7V495.4H386.6zM306.0 487.1H314.0V495.4H306.0zM370.5 487.1H378.6V495.4H370.5zM483.4 495.4H491.5V503.8H483.4zM314.0 503.8H330.2V512.1H314.0zM338.2 503.8H346.3V512.1H338.2zM330.2 512.1H338.2V520.5H330.2zM443.1 512.1H451.1V520.5H443.1zM362.4 528.9H370.5V537.2H362.4z"/><path fill="#31c69f" d="M297.9 227.9H306.0V244.7H297.9zM451.1 227.9H459.2V244.7H451.1zM297.9 269.7H306.0V286.5H297.9zM523.7 269.7H531.8V278.1H523.7zM394.7 328.3H402.8V345.0H394.7zM507.6 353.3H515.7V361.7H507.6zM378.6 386.8H386.6V395.1H378.6zM386.6 403.5H394.7V411.8H386.6zM491.5 403.5H499.5V411.8H491.5zM249.5 462.0H257.6V478.7H249.5zM289.9 462.0H306.0V478.7H289.9zM386.6 462.0H394.7V478.7H386.6zM306.0 495.4H314.0V503.8H306.0zM346.3 503.8H354.4V512.1H346.3zM338.2 512.1H346.3V520.5H338.2z"/><path fill="#37c897" d="M297.9 211.2H306.0V227.9H297.9zM451.1 211.2H459.2V227.9H451.1zM531.8 219.6H539.8V227.9H531.8zM378.6 236.3H386.6V244.7H378.6zM523.7 261.4H531.8V269.7H523.7zM467.3 278.1H475.3V286.5H467.3zM297.9 286.5H306.0V294.8H297.9zM515.7 319.9H523.7V328.3H515.7zM370.5 336.6H378.6V345.0H370.5zM394.7 345.0H402.8V353.3H394.7zM499.5 361.7H507.6V370.0H499.5zM491.5 395.1H499.5V403.5H491.5zM370.5 403.5H378.6V411.8H370.5zM386.6 411.8H394.7V420.2H386.6zM249.5 445.3H257.6V462.0H249.5zM289.9 445.3H306.0V462.0H289.9zM386.6 445.3H394.7V462.0H386.6zM354.4 478.7H362.4V487.1H354.4zM378.6 495.4H386.6V503.8H378.6zM443.1 503.8H475.3V512.1H443.1zM346.3 512.1H354.4V520.5H346.3z"/><path fill="#3fca8e" d="M297.9 202.9H306.0V211.2H297.9zM451.1 202.9H459.2V211.2H451.1zM467.3 236.3H475.3V244.7H467.3zM378.6 244.7H386.6V253.0H378.6zM297.9 294.8H306.0V311.5H297.9zM507.6 345.0H515.7V353.3H507.6zM394.7 353.3H402.8V370.0H394.7zM443.1 353.3H451.1V361.7H443.1zM499.5 353.3H507.6V361.7H499.5zM378.6 378.4H386.6V386.8H378.6zM491.5 378.4H499.5V395.1H491.5zM362.4 403.5H370.5V411.8H362.4zM249.5 428.6H257.6V445.3H249.5zM289.9 428.6H306.0V445.3H289.9zM386.6 428.6H394.7V445.3H386.6zM475.3 495.4H483.4V503.8H475.3zM306.0 503.8H314.0V512.1H306.0zM362.4 520.5H370.5V528.9H362.4zM370.5 537.2H378.6V545.6H370.5z"/><path fill="#4acb84" d="M249.5 136.0H257.6V428.6H249.5zM289.9 136.0H306.0V202.9H289.9zM451.1 136.0H459.2V202.9H451.1zM475.3 136.0H491.5V144.4H475.3zM475.3 144.4H483.4V202.9H475.3zM289.9 202.9H297.9V428.6H289.9zM531.8 211.2H539.8V219.6H531.8zM378.6 253.0H386.6V378.4H378.6zM523.7 253.0H531.8V261.4H523.7zM467.3 269.7H475.3V278.1H467.3zM426.9 303.2H435.0V319.9H426.9zM297.9 311.5H306.0V428.6H297.9zM515.7 311.5H523.7V319.9H515.7zM394.7 370.0H402.8V378.4H394.7zM418.9 370.0H426.9V378.4H418.9zM491.5 370.0H499.5V378.4H491.5zM370.5 395.1H378.6V403.5H370.5zM386.6 420.2H394.7V428.6H386.6zM354.4 487.1H370.5V495.4H354.4z"/><path fill="#57cc7a" d="M483.4 144.4H491.5V161.1H483.4zM475.3 202.9H483.4V219.6H475.3zM467.3 244.7H475.3V253.0H467.3zM523.7 244.7H531.8V253.0H523.7zM426.9 294.8H435.0V303.2H426.9zM515.7 303.2H523.7V311.5H515.7zM426.9 319.9H435.0V328.3H426.9zM507.6 336.6H515.7V345.0H507.6zM370.5 345.0H378.6V353.3H370.5zM443.1 345.0H451.1V353.3H443.1zM499.5 345.0H507.6V353.3H499.5zM418.9 353.3H426.9V370.0H418.9zM491.5 361.7H499.5V370.0H491.5zM394.7 378.4H402.8V386.8H394.7zM418.9 378.4H426.9V386.8H418.9zM362.4 478.7H370.5V487.1H362.4zM354.4 495.4H362.4V503.8H354.4zM370.5 495.4H378.6V503.8H370.5zM354.4 512.1H362.4V520.5H354.4zM435.0 512.1H443.1V520.5H435.0zM426.9 520.5H435.0V528.9H426.9zM418.9 537.2H426.9V545.6H418.9z"/><path fill="#64cd6f" d="M483.4 161.1H491.5V177.8H483.4zM531.8 202.9H539.8V211.2H531.8zM475.3 219.6H483.4V236.3H475.3zM523.7 236.3H531.8V244.7H523.7zM467.3 261.4H475.3V269.7H467.3zM426.9 278.1H435.0V294.8H426.9zM515.7 294.8H523.7V303.2H515.7zM426.9 328.3H435.0V336.6H426.9zM418.9 336.6H426.9V353.3H418.9zM491.5 353.3H499.5V361.7H491.5zM394.7 386.8H402.8V395.1H394.7zM418.9 386.8H426.9V395.1H418.9zM426.9 395.1H435.0V403.5H426.9zM362.4 470.4H370.5V478.7H362.4zM386.6 495.4H394.7V503.8H386.6z"/><path fill="#72cd64" d="M483.4 177.8H491.5V186.2H483.4zM531.8 194.5H539.8V202.9H531.8zM523.7 227.9H531.8V236.3H523.7zM475.3 236.3H483.4V253.0H475.3zM426.9 261.4H435.0V278.1H426.9zM467.3 286.5H475.3V294.8H467.3zM515.7 286.5H523.7V294.8H515.7zM459.2 311.5H467.3V319.9H459.2zM418.9 319.9H426.9V336.6H418.9zM426.9 336.6H435.0V345.0H426.9zM443.1 336.6H451.1V345.0H443.1zM499.5 336.6H507.6V345.0H499.5zM370.5 353.3H378.6V361.7H370.5zM370.5 386.8H378.6V395.1H370.5zM426.9 403.5H435.0V411.8H426.9zM362.4 411.8H370.5V420.2H362.4zM362.4 462.0H370.5V470.4H362.4zM362.4 495.4H370.5V503.8H362.4zM443.1 495.4H475.3V503.8H443.1zM354.4 503.8H362.4V512.1H354.4zM378.6 545.6H386.6V553.9H378.6z"/><path fill="#81cc59" d="M418.9 136.0H435.0V261.4H418.9zM491.5 136.0H499.5V144.4H491.5zM483.4 186.2H491.5V202.9H483.4zM531.8 186.2H539.8V194.5H531.8zM523.7 219.6H531.8V227.9H523.7zM467.3 253.0H483.4V261.4H467.3zM418.9 261.4H426.9V319.9H418.9zM475.3 261.4H483.4V269.7H475.3zM507.6 328.3H515.7V336.6H507.6zM451.1 336.6H459.2V345.0H451.1zM426.9 345.0H435.0V353.3H426.9zM491.5 345.0H499.5V353.3H491.5zM426.9 386.8H435.0V395.1H426.9zM394.7 395.1H402.8V403.5H394.7zM418.9 395.1H426.9V403.5H418.9zM483.4 420.2H491.5V495.4H483.4zM362.4 453.6H370.5V462.0H362.4zM475.3 487.1H483.4V495.4H475.3zM378.6 503.8H386.6V512.1H378.6zM426.9 512.1H435.0V520.5H426.9zM370.5 528.9H378.6V537.2H370.5zM418.9 528.9H426.9V537.2H418.9z"/><path fill="#8fcb4e" d="M491.5 144.4H499.5V161.1H491.5zM531.8 177.8H539.8V186.2H531.8zM483.4 202.9H491.5V219.6H483.4zM515.7 278.1H523.7V286.5H515.7zM443.1 328.3H451.1V336.6H443.1zM499.5 328.3H507.6V336.6H499.5zM491.5 336.6H499.5V345.0H491.5zM370.5 361.7H378.6V370.0H370.5zM443.1 361.7H451.1V370.0H443.1zM394.7 403.5H402.8V411.8H394.7zM418.9 403.5H426.9V411.8H418.9zM483.4 411.8H491.5V420.2H483.4zM362.4 445.3H370.5V453.6H362.4zM475.3 470.4H483.4V487.1H475.3zM370.5 503.8H378.6V512.1H370.5zM362.4 512.1H370.5V520.5H362.4zM418.9 512.1H426.9V520.5H418.9z"/><path fill="#9dc943" d="M491.5 161.1H499.5V169.4H491.5zM531.8 161.1H539.8V177.8H531.8zM523.7 211.2H531.8V219.6H523.7zM483.4 219.6H491.5V227.9H483.4zM515.7 269.7H523.7V278.1H515.7zM507.6 319.9H515.7V328.3H507.6zM491.5 328.3H499.5V336.6H491.5zM426.9 353.3H435.0V361.7H426.9zM370.5 378.4H378.6V386.8H370.5zM483.4 395.1H491.5V411.8H483.4zM426.9 411.8H435.0V420.2H426.9zM362.4 436.9H370.5V445.3H362.4zM418.9 436.9H426.9V445.3H418.9zM475.3 453.6H483.4V470.4H475.3zM362.4 503.8H370.5V512.1H362.4zM410.8 545.6H418.9V553.9H410.8z"/><path fill="#abc739" d="M491.5 169.4H499.5V186.2H491.5zM523.7 202.9H531.8V211.2H523.7zM483.4 227.9H491.5V244.7H483.4zM515.7 261.4H523.7V269.7H515.7zM475.3 269.7H483.4V278.1H475.3zM467.3 294.8H475.3V303.2H467.3zM443.1 319.9H451.1V328.3H443.1zM459.2 319.9H467.3V328.3H459.2zM499.5 319.9H507.6V328.3H499.5zM451.1 345.0H459.2V353.3H451.1zM426.9 361.7H435.0V370.0H426.9zM426.9 378.4H435.0V386.8H426.9zM435.0 386.8H443.1V395.1H435.0zM483.4 386.8H491.5V395.1H483.4zM394.7 411.8H402.8V420.2H394.7zM418.9 411.8H426.9V420.2H418.9zM362.4 420.2H370.5V436.9H362.4zM418.9 428.6H426.9V436.9H418.9zM475.3 436.9H483.4V453.6H475.3zM370.5 520.5H378.6V528.9H370.5zM418.9 520.5H426.9V528.9H418.9z"/><path fill="#b9c431" d="M402.8 136.0H410.8V261.4H402.8zM435.0 136.0H443.1V386.8H435.0zM499.5 136.0H507.6V161.1H499.5zM531.8 152.7H539.8V161.1H531.8zM491.5 186.2H499.5V211.2H491.5zM483.4 244.7H491.5V253.0H483.4zM515.7 244.7H523.7V261.4H515.7zM443.1 253.0H451.1V319.9H443.1zM507.6 278.1H515.7V319.9H507.6zM499.5 303.2H507.6V319.9H499.5zM483.4 345.0H491.5V386.8H483.4zM370.5 370.0H378.6V378.4H370.5zM426.9 370.0H435.0V378.4H426.9zM443.1 370.0H451.1V378.4H443.1zM475.3 370.0H483.4V436.9H475.3zM467.3 395.1H475.3V495.4H467.3zM402.8 411.8H410.8V495.4H402.8zM394.7 420.2H402.8V495.4H394.7zM418.9 420.2H426.9V428.6H418.9zM459.2 420.2H467.3V495.4H459.2zM418.9 445.3H426.9V453.6H418.9zM451.1 445.3H459.2V495.4H451.1zM443.1 478.7H451.1V495.4H443.1zM370.5 512.1H378.6V520.5H370.5zM410.8 512.1H418.9V520.5H410.8z"/><path fill="#c5c22a" d="M531.8 144.4H539.8V152.7H531.8zM523.7 194.5H531.8V202.9H523.7zM443.1 236.3H451.1V253.0H443.1zM507.6 269.7H515.7V278.1H507.6zM499.5 294.8H507.6V303.2H499.5zM467.3 303.2H475.3V311.5H467.3zM491.5 319.9H499.5V328.3H491.5zM435.0 395.1H443.1V403.5H435.0zM459.2 411.8H467.3V420.2H459.2zM443.1 470.4H451.1V478.7H443.1zM410.8 478.7H418.9V487.1H410.8zM386.6 503.8H394.7V512.1H386.6zM435.0 503.8H443.1V512.1H435.0z"/><path fill="#d1bf27" d="M531.8 136.0H539.8V144.4H531.8zM499.5 161.1H507.6V169.4H499.5zM523.7 186.2H531.8V194.5H523.7zM491.5 211.2H499.5V219.6H491.5zM443.1 219.6H451.1V236.3H443.1zM515.7 236.3H523.7V244.7H515.7zM483.4 253.0H491.5V261.4H483.4zM475.3 278.1H483.4V286.5H475.3zM459.2 328.3H467.3V336.6H459.2zM451.1 353.3H459.2V361.7H451.1zM467.3 386.8H475.3V395.1H467.3zM426.9 420.2H435.0V428.6H426.9zM451.1 436.9H459.2V445.3H451.1zM394.7 495.4H410.8V503.8H394.7zM378.6 512.1H386.6V520.5H378.6zM378.6 537.2H386.6V545.6H378.6z"/><path fill="#dcbd29" d="M499.5 169.4H507.6V177.8H499.5zM523.7 177.8H531.8V186.2H523.7zM443.1 211.2H451.1V219.6H443.1zM491.5 219.6H499.5V227.9H491.5zM515.7 227.9H523.7V236.3H515.7zM507.6 261.4H515.7V269.7H507.6zM499.5 286.5H507.6V294.8H499.5zM483.4 336.6H491.5V345.0H483.4zM475.3 361.7H483.4V370.0H475.3zM443.1 378.4H451.1V386.8H443.1zM418.9 453.6H426.9V462.0H418.9zM443.1 462.0H451.1V470.4H443.1zM410.8 487.1H418.9V495.4H410.8zM435.0 495.4H443.1V503.8H435.0zM394.7 503.8H410.8V512.1H394.7z"/><path fill="#e6bb2d" d="M410.8 136.0H418.9V478.7H410.8zM443.1 136.0H451.1V211.2H443.1zM499.5 177.8H507.6V186.2H499.5zM515.7 219.6H523.7V227.9H515.7zM491.5 227.9H499.5V236.3H491.5zM402.8 261.4H410.8V411.8H402.8zM483.4 261.4H491.5V269.7H483.4zM475.3 286.5H483.4V294.8H475.3zM467.3 311.5H475.3V319.9H467.3zM491.5 311.5H499.5V319.9H491.5zM459.2 336.6H467.3V345.0H459.2zM467.3 378.4H475.3V386.8H467.3zM435.0 403.5H443.1V411.8H435.0zM459.2 403.5H467.3V411.8H459.2zM426.9 428.6H435.0V436.9H426.9zM451.1 428.6H459.2V436.9H451.1zM418.9 462.0H426.9V470.4H418.9zM435.0 487.1H443.1V495.4H435.0zM402.8 512.1H410.8V520.5H402.8zM378.6 520.5H386.6V537.2H378.6zM410.8 528.9H418.9V545.6H410.8zM386.6 553.9H394.7V562.3H386.6z"/><path fill="#f0ba36" d="M507.6 136.0H515.7V144.4H507.6zM523.7 169.4H531.8V177.8H523.7zM499.5 186.2H507.6V194.5H499.5zM515.7 211.2H523.7V219.6H515.7zM491.5 236.3H499.5V244.7H491.5zM507.6 253.0H515.7V261.4H507.6zM499.5 278.1H507.6V286.5H499.5zM483.4 328.3H491.5V336.6H483.4zM475.3 353.3H483.4V361.7H475.3zM451.1 361.7H459.2V370.0H451.1zM443.1 386.8H451.1V395.1H443.1zM451.1 420.2H459.2V428.6H451.1zM426.9 436.9H435.0V445.3H426.9zM443.1 453.6H451.1V462.0H443.1zM410.8 495.4H418.9V503.8H410.8zM402.8 520.5H410.8V528.9H402.8z"/><path fill="#f8ba3d" d="M507.6 144.4H515.7V152.7H507.6zM523.7 152.7H531.8V169.4H523.7zM499.5 194.5H507.6V202.9H499.5zM515.7 202.9H523.7V211.2H515.7zM491.5 244.7H499.5V253.0H491.5zM483.4 269.7H491.5V278.1H483.4zM475.3 294.8H483.4V303.2H475.3zM491.5 303.2H499.5V311.5H491.5zM467.3 319.9H475.3V328.3H467.3zM459.2 345.0H467.3V353.3H459.2zM467.3 370.0H475.3V378.4H467.3zM459.2 395.1H467.3V403.5H459.2zM435.0 411.8H443.1V420.2H435.0zM443.1 445.3H451.1V453.6H443.1zM418.9 470.4H426.9V478.7H418.9zM435.0 478.7H443.1V487.1H435.0zM410.8 503.8H418.9V512.1H410.8zM386.6 512.1H402.8V520.5H386.6z"/><path fill="#febe3c" d="M523.7 144.4H531.8V152.7H523.7zM507.6 152.7H515.7V169.4H507.6zM515.7 186.2H523.7V202.9H515.7zM499.5 202.9H507.6V219.6H499.5zM507.6 236.3H515.7V253.0H507.6zM491.5 253.0H499.5V261.4H491.5zM499.5 269.7H507.6V278.1H499.5zM483.4 278.1H491.5V286.5H483.4zM491.5 294.8H499.5V303.2H491.5zM475.3 303.2H483.4V311.5H475.3zM483.4 319.9H491.5V328.3H483.4zM467.3 328.3H475.3V336.6H467.3zM475.3 345.0H483.4V353.3H475.3zM451.1 370.0H459.2V378.4H451.1zM459.2 386.8H467.3V395.1H459.2zM443.1 395.1H451.1V403.5H443.1zM451.1 411.8H459.2V420.2H451.1zM435.0 420.2H443.1V428.6H435.0zM443.1 436.9H451.1V445.3H443.1zM426.9 445.3H435.0V453.6H426.9zM435.0 470.4H443.1V478.7H435.0zM418.9 478.7H426.9V487.1H418.9zM426.9 503.8H435.0V512.1H426.9zM386.6 545.6H394.7V553.9H386.6z"/><path fill="#fec338" d="M515.7 136.0H531.8V144.4H515.7zM507.6 169.4H523.7V186.2H507.6zM507.6 186.2H515.7V194.5H507.6zM507.6 211.2H515.7V236.3H507.6zM499.5 219.6H507.6V244.7H499.5zM499.5 253.0H507.6V269.7H499.5zM491.5 261.4H499.5V269.7H491.5zM491.5 278.1H499.5V294.8H491.5zM483.4 286.5H491.5V294.8H483.4zM475.3 311.5H491.5V319.9H475.3zM475.3 328.3H483.4V345.0H475.3zM467.3 336.6H475.3V345.0H467.3zM459.2 353.3H475.3V370.0H459.2zM451.1 378.4H467.3V386.8H451.1zM451.1 386.8H459.2V395.1H451.1zM443.1 403.5H459.2V411.8H443.1zM435.0 428.6H451.1V436.9H435.0zM426.9 453.6H443.1V470.4H426.9zM418.9 487.1H435.0V503.8H418.9zM410.8 520.5H418.9V528.9H410.8z"/><path fill="#fec934" d="M515.7 144.4H523.7V169.4H515.7zM507.6 194.5H515.7V211.2H507.6zM499.5 244.7H507.6V253.0H499.5zM491.5 269.7H499.5V278.1H491.5zM483.4 294.8H491.5V311.5H483.4zM475.3 319.9H483.4V328.3H475.3zM467.3 345.0H475.3V353.3H467.3zM459.2 370.0H467.3V378.4H459.2zM451.1 395.1H459.2V403.5H451.1zM443.1 411.8H451.1V428.6H443.1zM435.0 436.9H443.1V453.6H435.0zM426.9 470.4H435.0V487.1H426.9zM418.9 503.8H426.9V512.1H418.9zM386.6 520.5H402.8V528.9H386.6zM386.6 528.9H394.7V545.6H386.6zM402.8 528.9H410.8V537.2H402.8zM402.8 553.9H410.8V562.3H402.8z"/><path fill="#fad62c" d="M402.8 537.2H410.8V553.9H402.8z"/><path fill="#f7e324" d="M394.7 528.9H402.8V545.6H394.7z"/><path fill="#f7e921" d="M394.7 545.6H402.8V553.9H394.7z"/><path fill="#f9fb15" d="M394.7 553.9H402.8V562.3H394.7z"/></g></g>
<line x1="120.5" y1="152.89999999999998" x2="685.0" y2="152.89999999999998" stroke="#fff" stroke-width="3.2" stroke-dasharray="31.5 18.5" clip-path="url(#hc10)"/>
<line x1="120.5" y1="509.5999999999999" x2="685.0" y2="509.5999999999999" stroke="#fff" stroke-width="3.2" stroke-dasharray="31.5 18.5" clip-path="url(#hc10)"/>
<path d="M201.1 136.0v14.4M201.1 562.3v-14.4M402.8 136.0v14.4M402.8 562.3v-14.4M604.4 136.0v14.4M604.4 562.3v-14.4M120.5 179.10000000000002h14.4M685.0 179.10000000000002h-14.4M120.5 278.6h14.4M685.0 278.6h-14.4M120.5 377.0h14.4M685.0 377.0h-14.4M120.5 474.5h14.4M685.0 474.5h-14.4" stroke="#000" stroke-width="4.8" fill="none"/>
<rect x="120.5" y="136.0" width="564.5" height="426.3" fill="none" stroke="#000" stroke-width="4.9"/>
<text x="201.1" y="606.0" font-size="30.5" text-anchor="middle">600</text>
<text x="402.8" y="606.0" font-size="30.5" text-anchor="middle">850</text>
<text x="604.4" y="606.0" font-size="30.5" text-anchor="middle">1100</text>
<text x="403.2" y="650.0" font-size="29" text-anchor="middle">Wavelength (nm)</text>
<text x="912.6" y="74.3" font-size="28.8" text-anchor="middle" textLength="63" lengthAdjust="spacingAndGlyphs">RNN</text>
<text x="1060.4" y="22.5" font-size="27.5" textLength="283" lengthAdjust="spacingAndGlyphs">Spectral intensity (dB)</text>
<text x="1073.8" y="64.9" font-size="26.6" text-anchor="middle">-40</text>
<text x="1200.3" y="64.9" font-size="26.6" text-anchor="middle">-20</text>
<text x="1326.8" y="64.9" font-size="26.6" text-anchor="middle">0</text>
<rect x="1073.8" y="89.3" width="253.0" height="28" fill="url(#cbg)" stroke="#000" stroke-width="3"/>
<line x1="1200.3" y1="90.8" x2="1200.3" y2="103.3" stroke="#000" stroke-width="3"/>
<clipPath id="hc11"><rect x="762.6" y="136.0" width="564.2" height="426.3"/></clipPath>
<rect x="762.6" y="136.0" width="564.2" height="426.3" fill="#3e26a8"/>
<g clip-path="url(#hc11)"><g filter="url(#hblur)" shape-rendering="crispEdges"><path fill="#402ab4" d="M1205.9 294.8H1214.0V311.5H1205.9zM1197.8 353.3H1205.9V370.0H1197.8zM1181.7 411.8H1189.8V420.2H1181.7zM1181.7 436.9H1197.8V445.3H1181.7zM1181.7 503.8H1197.8V512.1H1181.7z"/><path fill="#422ec0" d="M1205.9 278.1H1214.0V294.8H1205.9zM1197.8 336.6H1205.9V353.3H1197.8zM1189.8 361.7H1197.8V370.0H1189.8zM1181.7 395.1H1189.8V411.8H1181.7zM1181.7 445.3H1197.8V462.0H1181.7zM1165.6 503.8H1181.7V512.1H1165.6z"/><path fill="#4332cb" d="M1205.9 269.7H1214.0V278.1H1205.9zM1197.8 328.3H1205.9V336.6H1197.8zM1181.7 386.8H1189.8V395.1H1181.7zM1181.7 462.0H1197.8V478.7H1181.7zM1181.7 495.4H1197.8V503.8H1181.7zM1157.5 512.1H1165.6V520.5H1157.5zM1085.0 537.2H1093.1V545.6H1085.0z"/><path fill="#4537d5" d="M1205.9 253.0H1214.0V269.7H1205.9zM1197.8 311.5H1205.9V328.3H1197.8zM1189.8 353.3H1197.8V361.7H1189.8zM1181.7 378.4H1189.8V386.8H1181.7zM1181.7 478.7H1197.8V495.4H1181.7zM988.3 537.2H996.3V545.6H988.3z"/><path fill="#463cde" d="M1205.9 236.3H1214.0V253.0H1205.9zM1197.8 303.2H1205.9V311.5H1197.8zM1181.7 370.0H1189.8V378.4H1181.7zM1165.6 495.4H1181.7V503.8H1165.6z"/><path fill="#4741e5" d="M1205.9 219.6H1214.0V236.3H1205.9zM1197.8 294.8H1205.9V303.2H1197.8zM1189.8 345.0H1197.8V353.3H1189.8zM1157.5 503.8H1165.6V512.1H1157.5zM996.3 545.6H1004.4V553.9H996.3zM1076.9 545.6H1085.0V553.9H1076.9z"/><path fill="#4747eb" d="M1205.9 211.2H1214.0V219.6H1205.9zM1197.8 278.1H1205.9V294.8H1197.8zM1189.8 336.6H1197.8V345.0H1189.8zM1181.7 361.7H1189.8V370.0H1181.7zM923.8 520.5H931.9V528.9H923.8zM1117.2 520.5H1125.3V528.9H1117.2z"/><path fill="#484df0" d="M1205.9 194.5H1214.0V211.2H1205.9zM1197.8 269.7H1205.9V278.1H1197.8zM1173.7 428.6H1181.7V495.4H1173.7zM1165.6 487.1H1173.7V495.4H1165.6zM891.6 503.8H899.6V512.1H891.6zM899.6 512.1H907.7V520.5H899.6zM1149.5 512.1H1157.5V520.5H1149.5zM1085.0 528.9H1093.1V537.2H1085.0z"/><path fill="#4852f4" d="M1205.9 177.8H1214.0V194.5H1205.9zM1197.8 261.4H1205.9V269.7H1197.8zM1189.8 328.3H1197.8V336.6H1189.8zM1181.7 353.3H1189.8V361.7H1181.7zM1173.7 411.8H1181.7V428.6H1173.7zM1165.6 470.4H1173.7V487.1H1165.6zM1157.5 495.4H1165.6V503.8H1157.5zM883.5 503.8H891.6V512.1H883.5z"/><path fill="#4758f8" d="M1205.9 169.4H1214.0V177.8H1205.9zM1197.8 244.7H1205.9V261.4H1197.8zM1173.7 403.5H1181.7V411.8H1173.7zM1165.6 462.0H1173.7V470.4H1165.6zM931.9 520.5H948.0V528.9H931.9zM1109.2 520.5H1117.2V528.9H1109.2z"/><path fill="#465efb" d="M1205.9 152.7H1214.0V169.4H1205.9zM1197.8 236.3H1205.9V244.7H1197.8zM1189.8 319.9H1197.8V328.3H1189.8zM1173.7 386.8H1181.7V403.5H1173.7zM1165.6 445.3H1173.7V462.0H1165.6zM1141.4 512.1H1149.5V520.5H1141.4zM1076.9 537.2H1085.0V545.6H1076.9z"/><path fill="#4563fd" d="M1205.9 136.0H1214.0V152.7H1205.9zM1197.8 227.9H1205.9V236.3H1197.8zM1181.7 345.0H1189.8V353.3H1181.7zM1173.7 378.4H1181.7V386.8H1173.7zM1165.6 428.6H1173.7V445.3H1165.6z"/><path fill="#4269fe" d="M915.7 136.0H923.8V177.8H915.7zM964.1 136.0H980.2V495.4H964.1zM1197.8 219.6H1205.9V227.9H1197.8zM980.2 294.8H996.3V328.3H980.2zM883.5 311.5H891.6V386.8H883.5zM1189.8 311.5H1197.8V319.9H1189.8zM956.0 370.0H964.1V386.8H956.0zM1173.7 370.0H1181.7V378.4H1173.7zM980.2 411.8H988.3V495.4H980.2zM1165.6 411.8H1173.7V428.6H1165.6zM988.3 478.7H996.3V495.4H988.3zM1157.5 487.1H1165.6V495.4H1157.5zM988.3 528.9H996.3V537.2H988.3zM1012.5 553.9H1020.5V562.3H1012.5zM1060.8 553.9H1068.9V562.3H1060.8z"/><path fill="#3e6fff" d="M915.7 177.8H923.8V219.6H915.7zM1197.8 202.9H1205.9V219.6H1197.8zM980.2 278.1H996.3V294.8H980.2zM883.5 303.2H891.6V311.5H883.5zM1189.8 303.2H1197.8V311.5H1189.8zM980.2 328.3H996.3V345.0H980.2zM1181.7 336.6H1189.8V345.0H1181.7zM883.5 386.8H891.6V395.1H883.5zM956.0 386.8H964.1V395.1H956.0zM980.2 403.5H988.3V411.8H980.2zM1165.6 403.5H1173.7V411.8H1165.6zM988.3 462.0H996.3V478.7H988.3zM1157.5 478.7H1165.6V487.1H1157.5zM907.7 512.1H915.7V520.5H907.7zM1133.4 512.1H1141.4V520.5H1133.4zM948.0 520.5H956.0V528.9H948.0zM1101.1 520.5H1109.2V528.9H1101.1zM996.3 537.2H1004.4V545.6H996.3zM1004.4 545.6H1012.5V553.9H1004.4zM1068.9 545.6H1076.9V553.9H1068.9z"/><path fill="#3875fe" d="M1197.8 194.5H1205.9V202.9H1197.8zM915.7 219.6H923.8V261.4H915.7zM980.2 253.0H996.3V278.1H980.2zM883.5 294.8H891.6V303.2H883.5zM1189.8 294.8H1197.8V303.2H1189.8zM980.2 345.0H996.3V353.3H980.2zM956.0 361.7H964.1V370.0H956.0zM1173.7 361.7H1181.7V370.0H1173.7zM883.5 395.1H891.6V411.8H883.5zM956.0 395.1H964.1V411.8H956.0zM980.2 395.1H988.3V403.5H980.2zM1165.6 395.1H1173.7V403.5H1165.6zM988.3 445.3H996.3V462.0H988.3zM1157.5 470.4H1165.6V478.7H1157.5zM1149.5 503.8H1157.5V512.1H1149.5z"/><path fill="#327cfc" d="M1197.8 186.2H1205.9V194.5H1197.8zM980.2 236.3H996.3V253.0H980.2zM915.7 261.4H923.8V303.2H915.7zM883.5 286.5H891.6V294.8H883.5zM1189.8 286.5H1197.8V294.8H1189.8zM1181.7 328.3H1189.8V336.6H1181.7zM980.2 353.3H996.3V370.0H980.2zM980.2 378.4H988.3V395.1H980.2zM1165.6 378.4H1173.7V395.1H1165.6zM883.5 411.8H891.6V420.2H883.5zM956.0 411.8H964.1V420.2H956.0zM988.3 428.6H996.3V445.3H988.3zM1157.5 462.0H1165.6V470.4H1157.5z"/><path fill="#2f81fa" d="M923.8 136.0H931.9V328.3H923.8zM1197.8 169.4H1205.9V186.2H1197.8zM980.2 211.2H996.3V236.3H980.2zM883.5 278.1H891.6V286.5H883.5zM1189.8 278.1H1197.8V286.5H1189.8zM915.7 303.2H923.8V328.3H915.7zM980.2 370.0H996.3V378.4H980.2zM1165.6 370.0H1173.7V378.4H1165.6zM988.3 378.4H996.3V428.6H988.3zM883.5 420.2H891.6V428.6H883.5zM956.0 420.2H964.1V428.6H956.0zM1157.5 453.6H1165.6V462.0H1157.5zM899.6 503.8H907.7V512.1H899.6zM915.7 512.1H923.8V520.5H915.7zM1125.3 512.1H1133.4V520.5H1125.3zM956.0 520.5H964.1V528.9H956.0zM1093.1 520.5H1101.1V528.9H1093.1zM1076.9 528.9H1085.0V537.2H1076.9z"/><path fill="#2e87f7" d="M1197.8 161.1H1205.9V169.4H1197.8zM980.2 186.2H996.3V211.2H980.2zM1189.8 261.4H1197.8V278.1H1189.8zM883.5 269.7H891.6V278.1H883.5zM915.7 328.3H931.9V336.6H915.7zM956.0 353.3H964.1V361.7H956.0zM1173.7 353.3H1181.7V361.7H1173.7zM956.0 428.6H964.1V436.9H956.0zM1157.5 445.3H1165.6V453.6H1157.5zM1149.5 495.4H1157.5V503.8H1149.5z"/><path fill="#2d8cf3" d="M1197.8 152.7H1205.9V161.1H1197.8zM980.2 169.4H996.3V186.2H980.2zM1189.8 253.0H1197.8V261.4H1189.8zM1181.7 319.9H1189.8V328.3H1181.7zM915.7 336.6H931.9V353.3H915.7zM883.5 428.6H891.6V436.9H883.5zM956.0 436.9H964.1V445.3H956.0zM1157.5 436.9H1165.6V445.3H1157.5z"/><path fill="#2b91ef" d="M980.2 144.4H996.3V169.4H980.2zM1197.8 144.4H1205.9V152.7H1197.8zM1189.8 244.7H1197.8V253.0H1189.8zM883.5 261.4H891.6V269.7H883.5zM956.0 345.0H964.1V353.3H956.0zM1173.7 345.0H1181.7V353.3H1173.7zM915.7 353.3H931.9V370.0H915.7zM1165.6 361.7H1173.7V370.0H1165.6zM1157.5 428.6H1165.6V436.9H1157.5zM956.0 445.3H964.1V453.6H956.0zM891.6 495.4H899.6V503.8H891.6z"/><path fill="#2797eb" d="M907.7 136.0H915.7V144.4H907.7zM980.2 136.0H996.3V144.4H980.2zM1101.1 136.0H1117.2V286.5H1101.1zM1197.8 136.0H1205.9V144.4H1197.8zM1189.8 236.3H1197.8V244.7H1189.8zM883.5 253.0H891.6V261.4H883.5zM1101.1 286.5H1109.2V319.9H1101.1zM996.3 294.8H1004.4V428.6H996.3zM1181.7 311.5H1189.8V319.9H1181.7zM915.7 370.0H931.9V428.6H915.7zM1157.5 378.4H1165.6V428.6H1157.5zM956.0 453.6H964.1V462.0H956.0zM1149.5 487.1H1157.5V495.4H1149.5zM1141.4 503.8H1149.5V512.1H1141.4zM964.1 520.5H972.2V528.9H964.1z"/><path fill="#259be8" d="M907.7 144.4H915.7V169.4H907.7zM1189.8 227.9H1197.8V236.3H1189.8zM883.5 244.7H891.6V253.0H883.5zM996.3 253.0H1004.4V294.8H996.3zM1181.7 294.8H1189.8V311.5H1181.7zM956.0 336.6H964.1V345.0H956.0zM1173.7 336.6H1181.7V345.0H1173.7zM1157.5 370.0H1165.6V378.4H1157.5zM915.7 428.6H923.8V436.9H915.7zM883.5 436.9H891.6V445.3H883.5zM956.0 462.0H964.1V470.4H956.0zM1149.5 470.4H1157.5V487.1H1149.5zM964.1 495.4H980.2V503.8H964.1zM1068.9 537.2H1076.9V545.6H1068.9z"/><path fill="#23a0e5" d="M907.7 169.4H915.7V186.2H907.7zM996.3 211.2H1004.4V253.0H996.3zM1189.8 219.6H1197.8V227.9H1189.8zM883.5 236.3H891.6V244.7H883.5zM1181.7 278.1H1189.8V294.8H1181.7zM1165.6 353.3H1173.7V361.7H1165.6zM923.8 428.6H931.9V436.9H923.8zM996.3 428.6H1004.4V436.9H996.3zM1149.5 453.6H1157.5V470.4H1149.5zM956.0 470.4H964.1V478.7H956.0zM883.5 495.4H891.6V503.8H883.5z"/><path fill="#20a5e3" d="M996.3 169.4H1004.4V211.2H996.3zM907.7 186.2H915.7V211.2H907.7zM1189.8 211.2H1197.8V219.6H1189.8zM883.5 227.9H891.6V236.3H883.5zM1181.7 269.7H1189.8V278.1H1181.7zM915.7 436.9H923.8V445.3H915.7zM1149.5 436.9H1157.5V453.6H1149.5zM883.5 445.3H891.6V453.6H883.5zM956.0 478.7H964.1V487.1H956.0zM980.2 495.4H996.3V503.8H980.2zM907.7 503.8H915.7V512.1H907.7zM972.2 520.5H988.3V528.9H972.2z"/><path fill="#1ca9df" d="M899.6 136.0H907.7V144.4H899.6zM996.3 136.0H1004.4V169.4H996.3zM1117.2 136.0H1125.3V144.4H1117.2zM1189.8 202.9H1197.8V211.2H1189.8zM907.7 211.2H915.7V236.3H907.7zM1181.7 253.0H1189.8V269.7H1181.7zM956.0 328.3H964.1V336.6H956.0zM1173.7 328.3H1181.7V336.6H1173.7zM1157.5 361.7H1165.6V370.0H1157.5zM948.0 378.4H956.0V428.6H948.0zM1149.5 420.2H1157.5V436.9H1149.5zM923.8 436.9H931.9V445.3H923.8zM996.3 436.9H1004.4V445.3H996.3zM956.0 487.1H964.1V495.4H956.0zM899.6 495.4H907.7V503.8H899.6zM923.8 512.1H931.9V520.5H923.8zM1117.2 512.1H1125.3V520.5H1117.2zM996.3 528.9H1004.4V537.2H996.3zM1068.9 528.9H1076.9V537.2H1068.9zM1004.4 537.2H1012.5V545.6H1004.4z"/><path fill="#18addb" d="M1125.3 136.0H1133.4V144.4H1125.3zM899.6 144.4H907.7V152.7H899.6zM1117.2 144.4H1125.3V161.1H1117.2zM1189.8 194.5H1197.8V202.9H1189.8zM883.5 219.6H891.6V227.9H883.5zM907.7 236.3H915.7V253.0H907.7zM1181.7 236.3H1189.8V253.0H1181.7zM1165.6 345.0H1173.7V353.3H1165.6zM948.0 370.0H956.0V378.4H948.0zM1149.5 411.8H1157.5V420.2H1149.5zM948.0 428.6H956.0V445.3H948.0zM915.7 445.3H923.8V453.6H915.7zM1133.4 503.8H1141.4V512.1H1133.4zM1085.0 520.5H1093.1V528.9H1085.0z"/><path fill="#12b1d6" d="M1125.3 144.4H1133.4V152.7H1125.3zM899.6 152.7H907.7V169.4H899.6zM1117.2 161.1H1125.3V186.2H1117.2zM1189.8 186.2H1197.8V194.5H1189.8zM883.5 211.2H891.6V219.6H883.5zM1181.7 219.6H1189.8V236.3H1181.7zM907.7 253.0H915.7V278.1H907.7zM956.0 319.9H964.1V328.3H956.0zM1173.7 319.9H1181.7V328.3H1173.7zM1149.5 395.1H1157.5V411.8H1149.5zM923.8 445.3H931.9V453.6H923.8zM948.0 445.3H956.0V462.0H948.0zM996.3 445.3H1004.4V453.6H996.3zM883.5 453.6H891.6V462.0H883.5zM915.7 453.6H923.8V462.0H915.7zM1141.4 495.4H1149.5V503.8H1141.4zM915.7 503.8H923.8V512.1H915.7zM931.9 512.1H948.0V520.5H931.9zM1109.2 512.1H1117.2V520.5H1109.2zM1012.5 545.6H1020.5V553.9H1012.5z"/><path fill="#08b5d0" d="M1125.3 152.7H1133.4V161.1H1125.3zM899.6 169.4H907.7V186.2H899.6zM1189.8 177.8H1197.8V186.2H1189.8zM1117.2 186.2H1125.3V202.9H1117.2zM883.5 202.9H891.6V211.2H883.5zM1181.7 211.2H1189.8V219.6H1181.7zM907.7 278.1H915.7V294.8H907.7zM948.0 361.7H956.0V370.0H948.0zM1149.5 386.8H1157.5V395.1H1149.5zM948.0 462.0H956.0V478.7H948.0zM948.0 512.1H956.0V520.5H948.0zM1101.1 512.1H1109.2V520.5H1101.1z"/><path fill="#01b8ca" d="M1125.3 161.1H1133.4V169.4H1125.3zM1189.8 169.4H1197.8V177.8H1189.8zM899.6 186.2H907.7V194.5H899.6zM883.5 194.5H891.6V202.9H883.5zM1181.7 194.5H1189.8V211.2H1181.7zM1117.2 202.9H1125.3V227.9H1117.2zM907.7 294.8H915.7V319.9H907.7zM956.0 311.5H964.1V319.9H956.0zM1004.4 311.5H1012.5V319.9H1004.4zM1093.1 311.5H1101.1V319.9H1093.1zM1173.7 311.5H1181.7V319.9H1173.7zM1165.6 336.6H1173.7V345.0H1165.6zM1157.5 353.3H1165.6V361.7H1157.5zM1149.5 378.4H1157.5V386.8H1149.5zM923.8 453.6H931.9V462.0H923.8zM996.3 453.6H1004.4V462.0H996.3zM915.7 462.0H923.8V470.4H915.7zM948.0 478.7H956.0V495.4H948.0zM939.9 487.1H948.0V495.4H939.9zM907.7 495.4H915.7V503.8H907.7zM1125.3 503.8H1133.4V512.1H1125.3zM1093.1 512.1H1101.1V520.5H1093.1zM1020.5 553.9H1028.6V562.3H1020.5zM1052.8 553.9H1060.8V562.3H1052.8z"/><path fill="#02bac3" d="M1189.8 161.1H1197.8V169.4H1189.8zM1125.3 169.4H1133.4V177.8H1125.3zM1181.7 177.8H1189.8V194.5H1181.7zM883.5 186.2H891.6V194.5H883.5zM899.6 194.5H907.7V211.2H899.6zM1117.2 227.9H1125.3V253.0H1117.2zM956.0 269.7H964.1V311.5H956.0zM1004.4 294.8H1012.5V311.5H1004.4zM1093.1 294.8H1101.1V311.5H1093.1zM1173.7 303.2H1181.7V311.5H1173.7zM907.7 319.9H915.7V328.3H907.7zM948.0 353.3H956.0V361.7H948.0zM1020.5 370.0H1028.6V378.4H1020.5zM1149.5 370.0H1157.5V378.4H1149.5zM1004.4 420.2H1012.5V428.6H1004.4zM883.5 462.0H891.6V470.4H883.5zM915.7 470.4H923.8V478.7H915.7zM1020.5 478.7H1028.6V495.4H1020.5zM915.7 495.4H923.8V503.8H915.7zM956.0 495.4H964.1V503.8H956.0zM988.3 520.5H996.3V528.9H988.3zM1060.8 545.6H1068.9V553.9H1060.8z"/><path fill="#0bbdbd" d="M1189.8 152.7H1197.8V161.1H1189.8zM1181.7 169.4H1189.8V177.8H1181.7zM883.5 177.8H891.6V186.2H883.5zM1125.3 177.8H1133.4V186.2H1125.3zM899.6 211.2H907.7V227.9H899.6zM956.0 227.9H964.1V269.7H956.0zM1004.4 269.7H1012.5V294.8H1004.4zM1093.1 269.7H1101.1V294.8H1093.1zM1173.7 286.5H1181.7V303.2H1173.7zM907.7 328.3H915.7V345.0H907.7zM1020.5 361.7H1028.6V370.0H1020.5zM1020.5 378.4H1028.6V386.8H1020.5zM1004.4 428.6H1012.5V436.9H1004.4zM923.8 462.0H931.9V470.4H923.8zM996.3 462.0H1004.4V470.4H996.3zM939.9 478.7H948.0V487.1H939.9zM939.9 495.4H956.0V503.8H939.9zM1076.9 520.5H1085.0V528.9H1076.9z"/><path fill="#19bfb6" d="M1189.8 144.4H1197.8V152.7H1189.8zM1181.7 152.7H1189.8V169.4H1181.7zM956.0 186.2H964.1V227.9H956.0zM1125.3 186.2H1133.4V194.5H1125.3zM899.6 227.9H907.7V236.3H899.6zM1004.4 253.0H1012.5V269.7H1004.4zM1093.1 253.0H1101.1V269.7H1093.1zM1173.7 269.7H1181.7V286.5H1173.7zM1004.4 319.9H1012.5V328.3H1004.4zM1093.1 319.9H1101.1V328.3H1093.1zM1165.6 328.3H1173.7V336.6H1165.6zM907.7 345.0H915.7V361.7H907.7zM1157.5 345.0H1165.6V353.3H1157.5zM1020.5 353.3H1028.6V361.7H1020.5zM1149.5 361.7H1157.5V370.0H1149.5zM1020.5 386.8H1028.6V395.1H1020.5zM883.5 470.4H891.6V478.7H883.5zM1020.5 470.4H1028.6V478.7H1020.5zM915.7 478.7H923.8V487.1H915.7zM964.1 503.8H980.2V512.1H964.1zM956.0 512.1H964.1V520.5H956.0zM1085.0 512.1H1093.1V520.5H1085.0z"/><path fill="#24c1ae" d="M1181.7 136.0H1197.8V144.4H1181.7zM956.0 144.4H964.1V186.2H956.0zM1181.7 144.4H1189.8V152.7H1181.7zM883.5 169.4H891.6V177.8H883.5zM1004.4 227.9H1012.5V253.0H1004.4zM1093.1 227.9H1101.1V253.0H1093.1zM899.6 236.3H907.7V253.0H899.6zM1173.7 261.4H1181.7V269.7H1173.7zM948.0 345.0H956.0V353.3H948.0zM1020.5 345.0H1028.6V353.3H1020.5zM907.7 361.7H915.7V378.4H907.7zM1020.5 395.1H1028.6V403.5H1020.5zM1004.4 411.8H1012.5V420.2H1004.4zM1004.4 436.9H1012.5V445.3H1004.4zM1020.5 462.0H1028.6V470.4H1020.5zM939.9 470.4H948.0V478.7H939.9zM891.6 487.1H915.7V495.4H891.6zM1141.4 487.1H1149.5V495.4H1141.4zM939.9 503.8H956.0V512.1H939.9z"/><path fill="#2cc4a7" d="M891.6 136.0H899.6V177.8H891.6zM956.0 136.0H964.1V144.4H956.0zM1012.5 136.0H1036.6V152.7H1012.5zM1012.5 152.7H1028.6V177.8H1012.5zM883.5 161.1H891.6V169.4H883.5zM1012.5 177.8H1020.5V319.9H1012.5zM1004.4 202.9H1012.5V227.9H1004.4zM1093.1 202.9H1101.1V227.9H1093.1zM1173.7 244.7H1181.7V261.4H1173.7zM899.6 253.0H907.7V269.7H899.6zM1085.0 303.2H1093.1V319.9H1085.0zM1004.4 328.3H1012.5V336.6H1004.4zM1093.1 328.3H1101.1V336.6H1093.1zM1020.5 336.6H1028.6V345.0H1020.5zM899.6 361.7H907.7V487.1H899.6zM1076.9 370.0H1085.0V403.5H1076.9zM907.7 378.4H915.7V487.1H907.7zM1141.4 411.8H1149.5V487.1H1141.4zM1028.6 420.2H1036.6V428.6H1028.6zM1020.5 453.6H1028.6V462.0H1020.5zM939.9 462.0H948.0V470.4H939.9zM923.8 470.4H931.9V478.7H923.8zM996.3 470.4H1004.4V478.7H996.3zM891.6 478.7H899.6V487.1H891.6zM915.7 487.1H923.8V495.4H915.7zM1133.4 495.4H1141.4V503.8H1133.4zM964.1 512.1H972.2V520.5H964.1zM1004.4 528.9H1012.5V537.2H1004.4z"/><path fill="#31c69f" d="M883.5 152.7H891.6V161.1H883.5zM1028.6 152.7H1036.6V161.1H1028.6zM891.6 177.8H899.6V219.6H891.6zM1020.5 177.8H1028.6V219.6H1020.5zM1004.4 186.2H1012.5V202.9H1004.4zM1093.1 186.2H1101.1V202.9H1093.1zM1173.7 227.9H1181.7V244.7H1173.7zM899.6 269.7H907.7V286.5H899.6zM1085.0 294.8H1093.1V303.2H1085.0zM1012.5 319.9H1020.5V328.3H1012.5zM1085.0 319.9H1093.1V328.3H1085.0zM1165.6 319.9H1173.7V328.3H1165.6zM1020.5 328.3H1028.6V336.6H1020.5zM948.0 336.6H956.0V345.0H948.0zM899.6 345.0H907.7V361.7H899.6zM1149.5 353.3H1157.5V361.7H1149.5zM1020.5 403.5H1028.6V411.8H1020.5zM1141.4 403.5H1149.5V411.8H1141.4zM1028.6 428.6H1036.6V436.9H1028.6zM1004.4 445.3H1012.5V453.6H1004.4zM1020.5 445.3H1028.6V453.6H1020.5zM891.6 462.0H899.6V478.7H891.6zM883.5 478.7H891.6V487.1H883.5zM1125.3 495.4H1133.4V503.8H1125.3zM923.8 503.8H939.9V512.1H923.8zM956.0 503.8H964.1V512.1H956.0zM980.2 503.8H996.3V512.1H980.2zM972.2 512.1H980.2V520.5H972.2z"/><path fill="#37c897" d="M883.5 144.4H891.6V152.7H883.5zM1004.4 161.1H1012.5V186.2H1004.4zM1028.6 161.1H1036.6V177.8H1028.6zM1093.1 161.1H1101.1V186.2H1093.1zM1173.7 211.2H1181.7V227.9H1173.7zM891.6 219.6H899.6V261.4H891.6zM1020.5 219.6H1028.6V261.4H1020.5zM899.6 286.5H907.7V294.8H899.6zM1085.0 286.5H1093.1V294.8H1085.0zM899.6 336.6H907.7V345.0H899.6zM1004.4 336.6H1012.5V345.0H1004.4zM1093.1 336.6H1101.1V345.0H1093.1zM1157.5 336.6H1165.6V345.0H1157.5zM1076.9 361.7H1085.0V370.0H1076.9zM1141.4 395.1H1149.5V403.5H1141.4zM1004.4 403.5H1012.5V411.8H1004.4zM1020.5 411.8H1036.6V420.2H1020.5zM1020.5 436.9H1028.6V445.3H1020.5zM891.6 445.3H899.6V462.0H891.6zM939.9 453.6H948.0V462.0H939.9zM923.8 478.7H931.9V487.1H923.8zM996.3 478.7H1004.4V487.1H996.3zM923.8 495.4H939.9V503.8H923.8zM1093.1 503.8H1125.3V512.1H1093.1zM996.3 520.5H1004.4V528.9H996.3zM1068.9 520.5H1076.9V528.9H1068.9z"/><path fill="#3fca8e" d="M883.5 136.0H891.6V144.4H883.5zM1004.4 144.4H1012.5V161.1H1004.4zM1093.1 144.4H1101.1V161.1H1093.1zM1028.6 177.8H1036.6V194.5H1028.6zM1173.7 202.9H1181.7V211.2H1173.7zM891.6 261.4H899.6V303.2H891.6zM1020.5 261.4H1028.6V303.2H1020.5zM1085.0 278.1H1093.1V286.5H1085.0zM899.6 294.8H907.7V311.5H899.6zM899.6 319.9H907.7V336.6H899.6zM1020.5 319.9H1028.6V328.3H1020.5zM948.0 328.3H956.0V336.6H948.0zM1012.5 328.3H1020.5V336.6H1012.5zM1085.0 328.3H1093.1V336.6H1085.0zM1149.5 345.0H1157.5V353.3H1149.5zM1076.9 353.3H1085.0V361.7H1076.9zM1141.4 378.4H1149.5V395.1H1141.4zM891.6 428.6H899.6V445.3H891.6zM1020.5 428.6H1028.6V436.9H1020.5zM1028.6 436.9H1036.6V445.3H1028.6zM939.9 445.3H948.0V453.6H939.9zM883.5 487.1H891.6V495.4H883.5zM1028.6 520.5H1036.6V528.9H1028.6zM1012.5 537.2H1020.5V545.6H1012.5z"/><path fill="#4acb84" d="M1004.4 136.0H1012.5V144.4H1004.4zM1093.1 136.0H1101.1V144.4H1093.1zM1173.7 186.2H1181.7V202.9H1173.7zM1028.6 194.5H1036.6V202.9H1028.6zM1085.0 261.4H1093.1V278.1H1085.0zM891.6 303.2H899.6V428.6H891.6zM1020.5 303.2H1028.6V319.9H1020.5zM1165.6 303.2H1173.7V319.9H1165.6zM899.6 311.5H907.7V319.9H899.6zM1141.4 370.0H1149.5V378.4H1141.4zM1004.4 395.1H1012.5V403.5H1004.4zM1028.6 403.5H1036.6V411.8H1028.6zM1020.5 420.2H1028.6V428.6H1020.5zM1028.6 445.3H1036.6V453.6H1028.6zM1004.4 453.6H1012.5V462.0H1004.4zM931.9 478.7H939.9V495.4H931.9zM923.8 487.1H931.9V495.4H923.8zM996.3 487.1H1004.4V495.4H996.3zM1020.5 495.4H1028.6V503.8H1020.5zM980.2 512.1H988.3V520.5H980.2z"/><path fill="#57cc7a" d="M1173.7 169.4H1181.7V186.2H1173.7zM1028.6 202.9H1036.6V219.6H1028.6zM1085.0 253.0H1093.1V261.4H1085.0zM1165.6 278.1H1173.7V303.2H1165.6zM1157.5 328.3H1165.6V336.6H1157.5zM1012.5 336.6H1020.5V345.0H1012.5zM1085.0 336.6H1093.1V345.0H1085.0zM1149.5 336.6H1157.5V345.0H1149.5zM1004.4 345.0H1012.5V353.3H1004.4zM1076.9 345.0H1085.0V353.3H1076.9zM1093.1 345.0H1101.1V353.3H1093.1zM1141.4 361.7H1149.5V370.0H1141.4zM939.9 436.9H948.0V445.3H939.9zM931.9 462.0H939.9V478.7H931.9zM1117.2 495.4H1125.3V503.8H1117.2zM988.3 512.1H996.3V520.5H988.3zM1076.9 512.1H1085.0V520.5H1076.9zM1060.8 537.2H1068.9V545.6H1060.8z"/><path fill="#64cd6f" d="M1133.4 136.0H1141.4V144.4H1133.4zM1173.7 161.1H1181.7V169.4H1173.7zM1028.6 219.6H1036.6V236.3H1028.6zM1085.0 244.7H1093.1V253.0H1085.0zM1165.6 261.4H1173.7V278.1H1165.6zM948.0 319.9H956.0V328.3H948.0zM1141.4 353.3H1149.5V361.7H1141.4zM1028.6 395.1H1036.6V403.5H1028.6zM931.9 445.3H939.9V462.0H931.9zM1028.6 453.6H1036.6V462.0H1028.6zM1004.4 462.0H1012.5V470.4H1004.4z"/><path fill="#72cd64" d="M1173.7 144.4H1181.7V161.1H1173.7zM1125.3 194.5H1133.4V202.9H1125.3zM1085.0 227.9H1093.1V244.7H1085.0zM1028.6 236.3H1036.6V253.0H1028.6zM1165.6 236.3H1173.7V261.4H1165.6zM1076.9 336.6H1085.0V345.0H1076.9zM1012.5 345.0H1020.5V353.3H1012.5zM1085.0 345.0H1093.1V353.3H1085.0zM1004.4 353.3H1012.5V361.7H1004.4zM1004.4 386.8H1012.5V395.1H1004.4zM939.9 428.6H948.0V436.9H939.9zM931.9 436.9H939.9V445.3H931.9zM1028.6 462.0H1036.6V470.4H1028.6zM996.3 495.4H1004.4V503.8H996.3zM1093.1 495.4H1117.2V503.8H1093.1zM1068.9 512.1H1076.9V520.5H1068.9zM1004.4 520.5H1012.5V528.9H1004.4zM1020.5 545.6H1028.6V553.9H1020.5z"/><path fill="#81cc59" d="M931.9 136.0H939.9V436.9H931.9zM948.0 136.0H956.0V319.9H948.0zM1036.6 136.0H1044.7V161.1H1036.6zM1060.8 136.0H1076.9V319.9H1060.8zM1173.7 136.0H1181.7V144.4H1173.7zM1133.4 144.4H1141.4V152.7H1133.4zM1165.6 211.2H1173.7V236.3H1165.6zM1085.0 219.6H1093.1V227.9H1085.0zM1028.6 253.0H1036.6V261.4H1028.6zM1117.2 253.0H1125.3V261.4H1117.2zM1109.2 286.5H1117.2V294.8H1109.2zM939.9 294.8H948.0V428.6H939.9zM1101.1 319.9H1109.2V328.3H1101.1zM1149.5 328.3H1157.5V336.6H1149.5zM1141.4 345.0H1149.5V353.3H1141.4zM1012.5 353.3H1020.5V361.7H1012.5zM1085.0 353.3H1093.1V361.7H1085.0zM1044.7 370.0H1060.8V436.9H1044.7zM1028.6 386.8H1036.6V395.1H1028.6zM1133.4 420.2H1141.4V495.4H1133.4zM1004.4 470.4H1012.5V478.7H1004.4zM1117.2 487.1H1133.4V495.4H1117.2zM1060.8 512.1H1068.9V537.2H1060.8zM1012.5 528.9H1020.5V537.2H1012.5z"/><path fill="#8fcb4e" d="M1036.6 161.1H1044.7V202.9H1036.6zM1165.6 194.5H1173.7V211.2H1165.6zM1125.3 202.9H1133.4V211.2H1125.3zM1085.0 211.2H1093.1V219.6H1085.0zM939.9 253.0H948.0V294.8H939.9zM1028.6 261.4H1036.6V278.1H1028.6zM1060.8 319.9H1076.9V336.6H1060.8zM1157.5 319.9H1165.6V328.3H1157.5zM1076.9 328.3H1085.0V336.6H1076.9zM1141.4 336.6H1149.5V345.0H1141.4zM1044.7 353.3H1060.8V370.0H1044.7zM1093.1 353.3H1101.1V361.7H1093.1zM1004.4 361.7H1012.5V370.0H1004.4zM1076.9 403.5H1085.0V411.8H1076.9zM1133.4 411.8H1141.4V420.2H1133.4zM1044.7 436.9H1060.8V445.3H1044.7zM1028.6 470.4H1036.6V478.7H1028.6zM1117.2 470.4H1133.4V487.1H1117.2zM1085.0 503.8H1093.1V512.1H1085.0zM996.3 512.1H1004.4V520.5H996.3z"/><path fill="#9dc943" d="M1133.4 152.7H1141.4V161.1H1133.4zM1165.6 177.8H1173.7V194.5H1165.6zM1036.6 202.9H1044.7V244.7H1036.6zM1085.0 202.9H1093.1V211.2H1085.0zM939.9 211.2H948.0V253.0H939.9zM1125.3 211.2H1133.4V219.6H1125.3zM1028.6 278.1H1036.6V294.8H1028.6zM1109.2 294.8H1117.2V303.2H1109.2zM1149.5 319.9H1157.5V328.3H1149.5zM1141.4 328.3H1149.5V336.6H1141.4zM1044.7 336.6H1076.9V353.3H1044.7zM1012.5 361.7H1020.5V370.0H1012.5zM1085.0 361.7H1093.1V370.0H1085.0zM1004.4 378.4H1012.5V386.8H1004.4zM1133.4 395.1H1141.4V411.8H1133.4zM1044.7 445.3H1060.8V462.0H1044.7zM1117.2 453.6H1133.4V470.4H1117.2zM1004.4 478.7H1012.5V487.1H1004.4zM996.3 503.8H1004.4V512.1H996.3zM1052.8 545.6H1060.8V553.9H1052.8z"/><path fill="#abc739" d="M1133.4 161.1H1141.4V169.4H1133.4zM939.9 169.4H948.0V211.2H939.9zM1165.6 169.4H1173.7V177.8H1165.6zM1085.0 186.2H1093.1V202.9H1085.0zM1125.3 219.6H1133.4V227.9H1125.3zM1036.6 244.7H1044.7V286.5H1036.6zM1117.2 261.4H1125.3V269.7H1117.2zM1028.6 294.8H1036.6V303.2H1028.6zM1076.9 319.9H1085.0V328.3H1076.9zM1141.4 319.9H1149.5V328.3H1141.4zM1044.7 328.3H1060.8V336.6H1044.7zM1101.1 328.3H1109.2V336.6H1101.1zM1060.8 353.3H1076.9V370.0H1060.8zM1093.1 361.7H1101.1V370.0H1093.1zM1028.6 378.4H1036.6V386.8H1028.6zM1133.4 386.8H1141.4V395.1H1133.4zM1117.2 436.9H1133.4V453.6H1117.2zM1044.7 462.0H1060.8V478.7H1044.7zM1028.6 478.7H1036.6V487.1H1028.6zM1028.6 512.1H1036.6V520.5H1028.6zM1052.8 512.1H1060.8V520.5H1052.8z"/><path fill="#b9c431" d="M939.9 136.0H948.0V169.4H939.9zM1044.7 136.0H1060.8V328.3H1044.7zM1165.6 161.1H1173.7V169.4H1165.6zM1085.0 177.8H1093.1V186.2H1085.0zM1125.3 227.9H1133.4V236.3H1125.3zM1157.5 227.9H1165.6V319.9H1157.5zM1149.5 269.7H1157.5V319.9H1149.5zM1036.6 286.5H1044.7V495.4H1036.6zM1028.6 303.2H1036.6V378.4H1028.6zM1076.9 303.2H1085.0V319.9H1076.9zM1141.4 303.2H1149.5V319.9H1141.4zM1133.4 336.6H1141.4V386.8H1133.4zM1004.4 370.0H1020.5V378.4H1004.4zM1060.8 370.0H1076.9V436.9H1060.8zM1085.0 370.0H1093.1V395.1H1085.0zM1125.3 370.0H1133.4V436.9H1125.3zM1012.5 378.4H1020.5V495.4H1012.5zM1117.2 386.8H1125.3V436.9H1117.2zM1109.2 411.8H1117.2V495.4H1109.2zM1060.8 436.9H1068.9V470.4H1060.8zM1101.1 436.9H1109.2V495.4H1101.1zM1093.1 470.4H1101.1V495.4H1093.1zM1044.7 478.7H1060.8V495.4H1044.7zM1004.4 487.1H1012.5V495.4H1004.4zM1028.6 487.1H1036.6V495.4H1028.6zM1052.8 495.4H1060.8V503.8H1052.8zM1085.0 495.4H1093.1V503.8H1085.0zM1020.5 503.8H1028.6V512.1H1020.5z"/><path fill="#c5c22a" d="M1165.6 152.7H1173.7V161.1H1165.6zM1085.0 169.4H1093.1V177.8H1085.0zM1133.4 169.4H1141.4V177.8H1133.4zM1157.5 219.6H1165.6V227.9H1157.5zM1125.3 236.3H1133.4V244.7H1125.3zM1076.9 261.4H1085.0V303.2H1076.9zM1149.5 261.4H1157.5V269.7H1149.5zM1117.2 269.7H1125.3V278.1H1117.2zM1141.4 294.8H1149.5V303.2H1141.4zM1109.2 303.2H1117.2V311.5H1109.2zM1133.4 328.3H1141.4V336.6H1133.4zM1101.1 336.6H1109.2V345.0H1101.1zM1125.3 361.7H1133.4V370.0H1125.3zM1076.9 411.8H1085.0V420.2H1076.9zM1101.1 428.6H1109.2V436.9H1101.1zM1068.9 436.9H1076.9V445.3H1068.9zM1093.1 462.0H1101.1V470.4H1093.1zM1060.8 470.4H1068.9V478.7H1060.8z"/><path fill="#d1bf27" d="M1085.0 152.7H1093.1V169.4H1085.0zM1133.4 177.8H1141.4V186.2H1133.4zM1157.5 211.2H1165.6V219.6H1157.5zM1076.9 219.6H1085.0V261.4H1076.9zM1093.1 370.0H1101.1V378.4H1093.1zM1109.2 403.5H1117.2V411.8H1109.2zM1085.0 487.1H1093.1V495.4H1085.0zM1004.4 495.4H1020.5V503.8H1004.4zM1028.6 495.4H1036.6V503.8H1028.6zM1052.8 503.8H1060.8V512.1H1052.8zM1004.4 512.1H1012.5V520.5H1004.4zM1020.5 537.2H1028.6V545.6H1020.5z"/><path fill="#dcbd29" d="M1141.4 136.0H1149.5V144.4H1141.4zM1085.0 144.4H1093.1V152.7H1085.0zM1165.6 144.4H1173.7V152.7H1165.6zM1076.9 177.8H1085.0V219.6H1076.9zM1133.4 186.2H1141.4V194.5H1133.4zM1157.5 202.9H1165.6V211.2H1157.5zM1125.3 244.7H1133.4V253.0H1125.3zM1149.5 253.0H1157.5V261.4H1149.5zM1117.2 278.1H1125.3V286.5H1117.2zM1141.4 286.5H1149.5V294.8H1141.4zM1109.2 311.5H1117.2V319.9H1109.2zM1133.4 319.9H1141.4V328.3H1133.4zM1101.1 345.0H1109.2V353.3H1101.1zM1125.3 353.3H1133.4V361.7H1125.3zM1117.2 378.4H1125.3V386.8H1117.2zM1085.0 395.1H1093.1V403.5H1085.0zM1068.9 445.3H1076.9V453.6H1068.9zM1093.1 453.6H1101.1V462.0H1093.1zM1060.8 478.7H1068.9V487.1H1060.8zM1036.6 495.4H1052.8V503.8H1036.6zM1004.4 503.8H1020.5V512.1H1004.4zM1028.6 503.8H1036.6V512.1H1028.6zM1012.5 520.5H1020.5V528.9H1012.5z"/><path fill="#e6bb2d" d="M1076.9 136.0H1093.1V144.4H1076.9zM1165.6 136.0H1173.7V144.4H1165.6zM1076.9 144.4H1085.0V177.8H1076.9zM1141.4 144.4H1149.5V152.7H1141.4zM1133.4 194.5H1141.4V202.9H1133.4zM1157.5 194.5H1165.6V202.9H1157.5zM1125.3 253.0H1133.4V261.4H1125.3zM1117.2 286.5H1125.3V294.8H1117.2zM1109.2 319.9H1117.2V328.3H1109.2zM1125.3 345.0H1133.4V353.3H1125.3zM1093.1 378.4H1101.1V386.8H1093.1zM1076.9 420.2H1085.0V428.6H1076.9zM1101.1 420.2H1109.2V428.6H1101.1zM1085.0 478.7H1093.1V487.1H1085.0zM1012.5 512.1H1028.6V520.5H1012.5zM1020.5 520.5H1028.6V537.2H1020.5zM1052.8 520.5H1060.8V545.6H1052.8zM1028.6 553.9H1036.6V562.3H1028.6z"/><path fill="#f0ba36" d="M1157.5 177.8H1165.6V194.5H1157.5zM1133.4 202.9H1141.4V219.6H1133.4zM1149.5 244.7H1157.5V253.0H1149.5zM1141.4 278.1H1149.5V286.5H1141.4zM1133.4 311.5H1141.4V319.9H1133.4zM1101.1 353.3H1109.2V361.7H1101.1zM1117.2 370.0H1125.3V378.4H1117.2zM1109.2 395.1H1117.2V403.5H1109.2zM1085.0 403.5H1093.1V411.8H1085.0zM1093.1 445.3H1101.1V453.6H1093.1zM1068.9 453.6H1076.9V462.0H1068.9zM1060.8 487.1H1068.9V495.4H1060.8zM1076.9 503.8H1085.0V512.1H1076.9z"/><path fill="#f8ba3d" d="M1141.4 152.7H1149.5V169.4H1141.4zM1157.5 169.4H1165.6V177.8H1157.5zM1133.4 219.6H1141.4V227.9H1133.4zM1149.5 227.9H1157.5V244.7H1149.5zM1125.3 261.4H1133.4V269.7H1125.3zM1141.4 269.7H1149.5V278.1H1141.4zM1117.2 294.8H1125.3V303.2H1117.2zM1133.4 303.2H1141.4V311.5H1133.4zM1109.2 328.3H1117.2V336.6H1109.2zM1125.3 336.6H1133.4V345.0H1125.3zM1101.1 361.7H1109.2V370.0H1101.1zM1093.1 386.8H1101.1V395.1H1093.1zM1109.2 386.8H1117.2V395.1H1109.2zM1101.1 411.8H1109.2V420.2H1101.1zM1076.9 428.6H1085.0V436.9H1076.9zM1093.1 436.9H1101.1V445.3H1093.1zM1068.9 462.0H1076.9V470.4H1068.9zM1085.0 470.4H1093.1V478.7H1085.0zM1076.9 495.4H1085.0V503.8H1076.9z"/><path fill="#febe3c" d="M1157.5 152.7H1165.6V169.4H1157.5zM1141.4 169.4H1149.5V186.2H1141.4zM1149.5 211.2H1157.5V227.9H1149.5zM1133.4 227.9H1141.4V244.7H1133.4zM1141.4 261.4H1149.5V269.7H1141.4zM1125.3 269.7H1133.4V278.1H1125.3zM1133.4 294.8H1141.4V303.2H1133.4zM1117.2 303.2H1125.3V311.5H1117.2zM1125.3 328.3H1133.4V336.6H1125.3zM1109.2 336.6H1117.2V345.0H1109.2zM1117.2 361.7H1125.3V370.0H1117.2zM1101.1 370.0H1109.2V378.4H1101.1zM1101.1 403.5H1109.2V411.8H1101.1zM1085.0 411.8H1093.1V420.2H1085.0zM1093.1 428.6H1101.1V436.9H1093.1zM1076.9 436.9H1085.0V445.3H1076.9zM1085.0 462.0H1093.1V470.4H1085.0zM1068.9 470.4H1076.9V478.7H1068.9zM1076.9 487.1H1085.0V495.4H1076.9zM1060.8 495.4H1068.9V503.8H1060.8zM1036.6 503.8H1052.8V512.1H1036.6zM1028.6 545.6H1036.6V553.9H1028.6z"/><path fill="#fec338" d="M1149.5 136.0H1165.6V152.7H1149.5zM1149.5 177.8H1157.5V211.2H1149.5zM1141.4 186.2H1149.5V219.6H1141.4zM1133.4 244.7H1149.5V261.4H1133.4zM1125.3 278.1H1141.4V294.8H1125.3zM1117.2 311.5H1133.4V328.3H1117.2zM1109.2 345.0H1125.3V361.7H1109.2zM1109.2 370.0H1117.2V386.8H1109.2zM1101.1 378.4H1109.2V386.8H1101.1zM1093.1 395.1H1109.2V403.5H1093.1zM1093.1 403.5H1101.1V411.8H1093.1zM1085.0 420.2H1101.1V428.6H1085.0zM1076.9 445.3H1093.1V462.0H1076.9zM1068.9 478.7H1085.0V487.1H1068.9zM1068.9 487.1H1076.9V495.4H1068.9zM1060.8 503.8H1076.9V512.1H1060.8z"/><path fill="#fec934" d="M1149.5 152.7H1157.5V177.8H1149.5zM1141.4 219.6H1149.5V244.7H1141.4zM1133.4 261.4H1141.4V278.1H1133.4zM1125.3 294.8H1133.4V311.5H1125.3zM1117.2 328.3H1125.3V345.0H1117.2zM1109.2 361.7H1117.2V370.0H1109.2zM1101.1 386.8H1109.2V395.1H1101.1zM1093.1 411.8H1101.1V420.2H1093.1zM1085.0 428.6H1093.1V445.3H1085.0zM1076.9 462.0H1085.0V478.7H1076.9zM1068.9 495.4H1076.9V503.8H1068.9zM1036.6 512.1H1052.8V528.9H1036.6zM1028.6 528.9H1036.6V545.6H1028.6zM1044.7 528.9H1052.8V537.2H1044.7zM1044.7 553.9H1052.8V562.3H1044.7z"/><path fill="#fad62c" d="M1044.7 537.2H1052.8V553.9H1044.7z"/><path fill="#f7e324" d="M1036.6 528.9H1044.7V545.6H1036.6z"/><path fill="#f7e921" d="M1036.6 545.6H1044.7V553.9H1036.6z"/><path fill="#f9fb15" d="M1036.6 553.9H1044.7V562.3H1036.6z"/></g></g>
<line x1="762.6" y1="152.89999999999998" x2="1326.8" y2="152.89999999999998" stroke="#fff" stroke-width="3.2" stroke-dasharray="31.5 18.5" clip-path="url(#hc11)"/>
<line x1="762.6" y1="509.5999999999999" x2="1326.8" y2="509.5999999999999" stroke="#fff" stroke-width="3.2" stroke-dasharray="31.5 18.5" clip-path="url(#hc11)"/>
<path d="M843.2 136.0v14.4M843.2 562.3v-14.4M1044.7 136.0v14.4M1044.7 562.3v-14.4M1246.2 136.0v14.4M1246.2 562.3v-14.4M762.6 179.10000000000002h14.4M1326.8 179.10000000000002h-14.4M762.6 278.6h14.4M1326.8 278.6h-14.4M762.6 377.0h14.4M1326.8 377.0h-14.4M762.6 474.5h14.4M1326.8 474.5h-14.4" stroke="#000" stroke-width="4.8" fill="none"/>
<rect x="762.6" y="136.0" width="564.2" height="426.3" fill="none" stroke="#000" stroke-width="4.9"/>
<text x="843.2" y="606.0" font-size="30.5" text-anchor="middle">600</text>
<text x="1044.7" y="606.0" font-size="30.5" text-anchor="middle">850</text>
<text x="1246.2" y="606.0" font-size="30.5" text-anchor="middle">1100</text>
<text x="1045.3" y="650.0" font-size="29" text-anchor="middle">Wavelength (nm)</text>
<text x="107.6" y="187.8" font-size="30" text-anchor="end">0.8</text>
<text x="107.6" y="287.3" font-size="30" text-anchor="end">0.6</text>
<text x="107.6" y="385.7" font-size="30" text-anchor="end">0.4</text>
<text x="107.6" y="483.2" font-size="30" text-anchor="end">0.2</text>
<text transform="translate(27.3 349.5) rotate(-90)" font-size="28.4" text-anchor="middle">Distance (m)</text>
<line x1="1327.5" y1="152.89999999999998" x2="1406" y2="152.89999999999998" stroke="#000" stroke-width="3.3" stroke-dasharray="18.8 18.7"/>
<path d="M1404.6 145.2L1417.4 152.9L1404.6 160.6Z" fill="#000"/>
<line x1="1327.5" y1="509.5999999999999" x2="1406" y2="509.5999999999999" stroke="#000" stroke-width="3.3" stroke-dasharray="18.8 18.7"/>
<path d="M1404.6 501.9L1417.4 509.6L1404.6 517.3Z" fill="#000"/>
<clipPath id="lc10"><rect x="1419.0" y="99.1" width="564.5" height="214.7"/></clipPath>
<polyline points="1530.2,311.1 1534.2,264.4 1537.0,224.6 1539.3,184.7 1539.3,171.0 1545.5,157.4 1551.2,171.0 1554.7,191.5 1558.6,224.6 1562.1,206.3 1565.5,180.7 1568.3,207.5 1571.7,265.0 1578.6,263.8 1582.0,218.9 1584.3,184.7 1586.5,168.8 1590.5,148.8 1597.9,152.3 1602.5,175.6 1605.9,196.1 1609.3,245.1 1611.0,253.0 1617.3,269.0 1623.5,276.9 1629.2,258.7 1636.1,232.5 1642.3,241.6 1648.0,207.5 1654.9,177.9 1661.7,168.8 1668.5,142.6 1675.4,157.4 1677.6,173.3 1681.6,225.1 1686.2,190.4 1694.1,140.9 1700.4,148.3 1707.2,151.1 1714.1,155.1 1719.5,156.8 1726.3,140.3 1732.3,142.5 1739.0,144.8 1743.5,159.0 1749.5,189.1 1754.0,213.1 1758.5,241.6 1764.5,239.3 1772.1,228.1 1778.1,210.1 1782.6,186.1 1788.6,162.0 1796.1,132.0 1805.1,122.3 1812.6,124.5 1823.1,142.5 1832.1,165.0 1841.1,192.1 1850.1,220.6 1859.1,247.6 1868.1,276.1 1877.1,310.6" fill="none" stroke="#0072bd" stroke-width="3.8" stroke-linejoin="round" clip-path="url(#lc10)"/>
<polyline points="1529.0,311.1 1533.0,263.3 1536.4,214.3 1539.3,183.6 1541.0,171.0 1545.5,159.7 1552.4,168.8 1559.2,180.2 1563.2,199.5 1567.2,214.3 1570.6,228.0 1574.0,225.7 1577.4,197.2 1581.4,176.7 1584.3,166.5 1588.8,160.8 1591.1,161.9 1594.5,170.5 1599.1,190.4 1603.6,220.0 1608.7,238.2 1613.9,242.8 1617.3,243.9 1620.7,223.4 1623.0,200.1 1628.7,207.5 1632.1,224.6 1635.5,255.3 1640.1,251.9 1645.8,240.5 1654.9,222.3 1659.4,207.5 1664.0,193.8 1667.4,173.3 1674.2,159.7 1677.6,172.2 1681.1,188.1 1686.7,160.8 1693.6,142.6 1700.4,141.4 1707.2,142.6 1712.9,148.3 1719.5,158.3 1724.8,150.0 1730.0,142.5 1733.8,135.0 1740.5,138.0 1746.5,148.5 1752.5,169.5 1760.8,196.6 1769.8,216.8 1775.1,210.1 1781.1,194.3 1787.1,174.0 1797.6,146.3 1806.6,128.3 1811.1,123.0 1818.6,124.5 1824.6,136.5 1832.1,156.0 1842.6,183.8 1848.6,202.6 1857.6,231.1 1864.4,250.6 1873.4,279.1 1880.1,297.9 1885.4,312.1" fill="none" stroke="#a2142f" stroke-width="3.8" stroke-linejoin="round" stroke-dasharray="31.5 18.5" clip-path="url(#lc10)"/>
<path d="M1499.6 99.1v7M1499.6 313.8v-7M1701.2 99.1v7M1701.2 313.8v-7M1902.9 99.1v7M1902.9 313.8v-7M1419.0 121.7h8.5M1983.5 121.7h-8.5M1419.0 217.7h8.5M1983.5 217.7h-8.5" stroke="#000" stroke-width="5" fill="none"/>
<rect x="1419.0" y="99.1" width="564.5" height="214.7" fill="none" stroke="#000" stroke-width="4.8"/>
<text x="1995.5" y="131.3" font-size="30" text-anchor="start">0</text>
<text x="1995.5" y="227.3" font-size="30" text-anchor="start">-20</text>
<text x="1995.5" y="323.4" font-size="30" text-anchor="start">-40</text>
<text x="1440.5" y="140.8" font-size="29.5" text-anchor="start" textLength="115" lengthAdjust="spacingAndGlyphs">z=0.85m</text>
<clipPath id="lc11"><rect x="1419.0" y="346.8" width="564.5" height="215.6"/></clipPath>
<polyline points="1534.3,560.3 1538.9,532.9 1543.4,498.6 1546.9,464.3 1550.3,439.1 1552.6,425.4 1559.4,416.3 1567.4,423.1 1570.9,439.1 1573.1,444.9 1580.0,449.4 1591.4,456.9 1596.0,465.4 1599.4,472.3 1605.1,475.1 1612.0,472.3 1616.6,457.4 1621.1,439.1 1624.6,422.0 1631.4,419.7 1637.1,410.6 1642.9,398.0 1649.7,387.1 1661.1,391.1 1665.7,398.0 1670.3,407.1 1673.7,418.6 1676.0,432.3 1679.4,414.0 1682.3,395.7 1688.6,385.4 1696.6,388.9 1701.1,371.7 1706.9,383.1 1710.3,393.4 1714.9,406.0 1700.0,369.5 1706.0,381.5 1714.3,406.3 1721.0,401.0 1728.5,380.8 1733.8,379.3 1740.5,382.3 1746.5,384.5 1753.3,388.3 1760.0,395.0 1766.0,399.5 1770.5,408.5 1778.1,422.1 1785.6,435.6 1791.6,450.6 1797.6,465.6 1805.1,479.1 1817.1,493.4 1832.1,508.4 1841.1,516.6 1850.1,526.4 1859.1,534.6 1868.1,543.6 1877.1,551.1 1887.6,555.6 1899.6,560.1" fill="none" stroke="#0072bd" stroke-width="3.8" stroke-linejoin="round" clip-path="url(#lc11)"/>
<polyline points="1528.0,560.3 1534.3,532.9 1538.3,512.3 1543.4,483.7 1545.1,463.1 1548.0,450.6 1552.0,434.6 1554.9,423.1 1560.6,419.7 1565.1,430.0 1568.6,441.4 1571.4,447.1 1578.9,451.7 1585.7,457.4 1590.3,467.7 1593.7,475.7 1598.9,483.7 1601.7,474.6 1604.0,465.4 1609.7,449.4 1614.3,438.0 1618.9,428.9 1623.4,419.7 1630.3,414.0 1637.1,406.0 1642.9,398.0 1649.7,388.9 1660.0,391.1 1663.4,393.4 1669.1,406.0 1673.7,418.6 1676.6,432.3 1679.4,417.4 1682.3,401.4 1687.4,392.3 1693.1,383.1 1701.1,371.7 1704.6,383.1 1710.3,395.7 1713.7,402.6 1700.0,372.5 1704.5,382.3 1714.3,402.5 1721.0,386.8 1727.0,381.5 1736.0,383.8 1745.8,387.5 1755.5,392.8 1763.0,398.0 1768.3,405.5 1773.6,414.5 1779.6,423.6 1785.6,437.1 1793.1,449.8 1796.8,458.1 1800.6,467.8 1809.6,482.1 1817.8,492.6 1826.1,500.1 1833.6,506.1 1845.6,512.1 1859.9,518.9 1868.1,524.9 1876.4,530.9 1889.1,540.6 1898.9,549.6" fill="none" stroke="#a2142f" stroke-width="3.8" stroke-linejoin="round" stroke-dasharray="31.5 18.5" clip-path="url(#lc11)"/>
<path d="M1499.6 346.8v7M1499.6 562.4v-7M1701.2 346.8v7M1701.2 562.4v-7M1902.9 346.8v7M1902.9 562.4v-7M1419.0 369.5h8.5M1983.5 369.5h-8.5M1419.0 465.9h8.5M1983.5 465.9h-8.5" stroke="#000" stroke-width="5" fill="none"/>
<rect x="1419.0" y="346.8" width="564.5" height="215.6" fill="none" stroke="#000" stroke-width="4.8"/>
<text x="1995.5" y="379.1" font-size="30" text-anchor="start">0</text>
<text x="1995.5" y="475.5" font-size="30" text-anchor="start">-20</text>
<text x="1995.5" y="572.0" font-size="30" text-anchor="start">-40</text>
<text x="1440.5" y="388.5" font-size="29.5" text-anchor="start" textLength="115" lengthAdjust="spacingAndGlyphs">z=0.12m</text>
<line x1="1616.6" y1="486.0" x2="1710.6" y2="486.0" stroke="#0072bd" stroke-width="3.9"/>
<line x1="1616.6" y1="525.0" x2="1698.1999999999998" y2="525.0" stroke="#a2142f" stroke-width="3.9" stroke-dasharray="31.5 18.6"/>
<text x="1721.1" y="493.6" font-size="25.2" text-anchor="start">RNN</text>
<text x="1721.1" y="532.7" font-size="25.2" text-anchor="start">GNLSE</text>
<text transform="translate(2059.5 332.9) rotate(90)" font-size="29" text-anchor="middle">Spectral intensity (dB)</text>
<text x="1499.6" y="605.0" font-size="30.5" text-anchor="middle">600</text>
<text x="1701.2" y="605.0" font-size="30.5" text-anchor="middle">850</text>
<text x="1902.9" y="605.0" font-size="30.5" text-anchor="middle">1100</text>
<text x="1701.2" y="649.0" font-size="29" text-anchor="middle">Wavelength (nm)</text>
</g>
<g transform="translate(0 1417.5)">
<text x="-1.0" y="71.7" font-size="29" text-anchor="start" font-weight="bold">c</text>
<text x="270.5" y="74.3" font-size="28.8" text-anchor="middle">GNLSE</text>
<text x="418.3" y="22.5" font-size="27.5" textLength="283" lengthAdjust="spacingAndGlyphs">Spectral intensity (dB)</text>
<text x="431.7" y="64.9" font-size="26.6" text-anchor="middle">-40</text>
<text x="558.4" y="64.9" font-size="26.6" text-anchor="middle">-20</text>
<text x="685.0" y="64.9" font-size="26.6" text-anchor="middle">0</text>
<rect x="431.7" y="89.3" width="253.3" height="28" fill="url(#cbg)" stroke="#000" stroke-width="3"/>
<line x1="558.4" y1="90.8" x2="558.4" y2="103.3" stroke="#000" stroke-width="3"/>
<clipPath id="hc20"><rect x="120.5" y="136.0" width="564.5" height="426.3"/></clipPath>
<rect x="120.5" y="136.0" width="564.5" height="426.3" fill="#3e26a8"/>
<g clip-path="url(#hc20)"><g filter="url(#hblur)" shape-rendering="crispEdges"><path fill="#402ab4" d="M612.4 294.8H620.5V319.9H612.4zM620.5 395.1H636.6V411.8H620.5zM620.5 470.4H636.6V478.7H620.5zM604.4 487.1H612.4V495.4H604.4zM233.4 503.8H241.5V512.1H233.4zM531.8 503.8H539.8V512.1H531.8z"/><path fill="#422ec0" d="M612.4 319.9H620.5V345.0H612.4zM620.5 411.8H636.6V428.6H620.5zM620.5 462.0H636.6V470.4H620.5zM612.4 470.4H620.5V478.7H612.4zM523.7 503.8H531.8V512.1H523.7zM354.4 553.9H362.4V562.3H354.4zM435.0 553.9H443.1V562.3H435.0z"/><path fill="#4332cb" d="M612.4 345.0H620.5V370.0H612.4zM620.5 428.6H636.6V436.9H620.5zM620.5 453.6H636.6V462.0H620.5zM596.3 487.1H604.4V495.4H596.3zM233.4 495.4H241.5V503.8H233.4zM531.8 495.4H539.8V503.8H531.8zM306.0 520.5H314.0V528.9H306.0zM475.3 520.5H483.4V528.9H475.3zM338.2 537.2H346.3V545.6H338.2zM451.1 537.2H459.2V545.6H451.1z"/><path fill="#4537d5" d="M249.5 136.0H273.7V144.4H249.5zM306.0 136.0H314.0V144.4H306.0zM604.4 136.0H612.4V386.8H604.4zM257.6 144.4H273.7V286.5H257.6zM225.3 278.1H233.4V386.8H225.3zM265.7 286.5H273.7V294.8H265.7zM612.4 370.0H620.5V386.8H612.4zM233.4 378.4H249.5V386.8H233.4zM281.8 378.4H289.9V386.8H281.8zM588.2 378.4H604.4V386.8H588.2zM620.5 436.9H636.6V453.6H620.5zM612.4 462.0H620.5V470.4H612.4zM604.4 478.7H612.4V487.1H604.4zM168.9 487.1H176.9V495.4H168.9zM580.2 487.1H596.3V495.4H580.2zM241.5 503.8H249.5V512.1H241.5zM515.7 503.8H523.7V512.1H515.7z"/><path fill="#463cde" d="M314.0 136.0H322.1V152.7H314.0zM249.5 144.4H257.6V161.1H249.5zM306.0 144.4H314.0V186.2H306.0zM225.3 261.4H233.4V278.1H225.3zM257.6 286.5H265.7V303.2H257.6zM265.7 294.8H273.7V319.9H265.7zM596.3 353.3H604.4V378.4H596.3zM233.4 370.0H249.5V378.4H233.4zM281.8 370.0H289.9V378.4H281.8zM588.2 370.0H596.3V378.4H588.2zM225.3 386.8H249.5V395.1H225.3zM281.8 386.8H289.9V395.1H281.8zM588.2 386.8H620.5V403.5H588.2zM604.4 470.4H612.4V478.7H604.4zM572.1 487.1H580.2V495.4H572.1zM249.5 503.8H257.6V512.1H249.5zM507.6 503.8H515.7V512.1H507.6zM346.3 537.2H354.4V545.6H346.3zM443.1 537.2H451.1V545.6H443.1z"/><path fill="#4741e5" d="M314.0 152.7H322.1V161.1H314.0zM249.5 161.1H257.6V177.8H249.5zM306.0 186.2H314.0V219.6H306.0zM225.3 244.7H233.4V261.4H225.3zM257.6 303.2H265.7V311.5H257.6zM265.7 319.9H273.7V336.6H265.7zM596.3 328.3H604.4V353.3H596.3zM233.4 361.7H249.5V370.0H233.4zM281.8 361.7H289.9V370.0H281.8zM588.2 361.7H596.3V370.0H588.2zM588.2 403.5H620.5V420.2H588.2zM612.4 453.6H620.5V462.0H612.4zM604.4 462.0H612.4V470.4H604.4zM257.6 503.8H273.7V512.1H257.6zM499.5 503.8H507.6V512.1H499.5zM314.0 520.5H322.1V528.9H314.0zM467.3 520.5H475.3V528.9H467.3zM354.4 545.6H362.4V553.9H354.4zM435.0 545.6H443.1V553.9H435.0z"/><path fill="#4747eb" d="M314.0 161.1H322.1V177.8H314.0zM249.5 177.8H257.6V194.5H249.5zM306.0 219.6H314.0V253.0H306.0zM225.3 227.9H233.4V244.7H225.3zM257.6 311.5H265.7V328.3H257.6zM596.3 311.5H604.4V328.3H596.3zM265.7 336.6H273.7V361.7H265.7zM233.4 345.0H249.5V361.7H233.4zM281.8 345.0H289.9V361.7H281.8zM588.2 345.0H596.3V361.7H588.2zM225.3 395.1H249.5V403.5H225.3zM588.2 420.2H620.5V436.9H588.2zM604.4 453.6H612.4V462.0H604.4zM596.3 478.7H604.4V487.1H596.3zM176.9 487.1H185.0V495.4H176.9zM547.9 487.1H572.1V495.4H547.9zM523.7 495.4H531.8V503.8H523.7zM273.7 503.8H289.9V512.1H273.7zM491.5 503.8H499.5V512.1H491.5zM306.0 512.1H314.0V520.5H306.0zM475.3 512.1H483.4V520.5H475.3zM322.1 520.5H330.2V528.9H322.1zM338.2 528.9H346.3V537.2H338.2zM451.1 528.9H459.2V537.2H451.1z"/><path fill="#484df0" d="M314.0 177.8H322.1V186.2H314.0zM249.5 194.5H257.6V211.2H249.5zM225.3 211.2H233.4V227.9H225.3zM306.0 253.0H314.0V286.5H306.0zM596.3 286.5H604.4V311.5H596.3zM257.6 328.3H265.7V336.6H257.6zM233.4 336.6H249.5V345.0H233.4zM281.8 336.6H289.9V345.0H281.8zM588.2 336.6H596.3V345.0H588.2zM265.7 361.7H273.7V386.8H265.7zM572.1 386.8H588.2V453.6H572.1zM281.8 395.1H289.9V403.5H281.8zM225.3 403.5H249.5V411.8H225.3zM588.2 436.9H620.5V453.6H588.2zM596.3 453.6H604.4V478.7H596.3zM185.0 487.1H193.1V495.4H185.0zM539.8 487.1H547.9V495.4H539.8z"/><path fill="#4852f4" d="M273.7 136.0H281.8V177.8H273.7zM297.9 136.0H306.0V177.8H297.9zM314.0 186.2H322.1V202.9H314.0zM225.3 194.5H233.4V211.2H225.3zM249.5 211.2H257.6V227.9H249.5zM596.3 244.7H604.4V286.5H596.3zM306.0 286.5H314.0V303.2H306.0zM233.4 319.9H249.5V336.6H233.4zM281.8 319.9H289.9V336.6H281.8zM588.2 319.9H596.3V336.6H588.2zM257.6 336.6H265.7V345.0H257.6zM273.7 361.7H281.8V395.1H273.7zM289.9 361.7H297.9V395.1H289.9zM572.1 361.7H588.2V386.8H572.1zM265.7 386.8H273.7V403.5H265.7zM547.9 445.3H572.1V453.6H547.9zM580.2 453.6H596.3V462.0H580.2zM193.1 487.1H217.3V495.4H193.1zM289.9 503.8H306.0V512.1H289.9zM483.4 503.8H491.5V512.1H483.4zM330.2 520.5H338.2V528.9H330.2zM459.2 520.5H467.3V528.9H459.2z"/><path fill="#4758f8" d="M225.3 169.4H233.4V194.5H225.3zM273.7 177.8H281.8V211.2H273.7zM297.9 177.8H306.0V211.2H297.9zM314.0 202.9H322.1V211.2H314.0zM596.3 211.2H604.4V244.7H596.3zM249.5 227.9H257.6V244.7H249.5zM306.0 303.2H314.0V311.5H306.0zM233.4 311.5H249.5V319.9H233.4zM281.8 311.5H289.9V319.9H281.8zM588.2 311.5H596.3V319.9H588.2zM273.7 336.6H281.8V361.7H273.7zM289.9 336.6H297.9V361.7H289.9zM572.1 336.6H588.2V361.7H572.1zM257.6 345.0H265.7V361.7H257.6zM265.7 403.5H273.7V420.2H265.7zM281.8 403.5H289.9V411.8H281.8zM225.3 411.8H249.5V420.2H225.3zM547.9 436.9H572.1V445.3H547.9zM572.1 453.6H580.2V462.0H572.1zM241.5 495.4H249.5V503.8H241.5zM515.7 495.4H523.7V503.8H515.7z"/><path fill="#465efb" d="M225.3 152.7H233.4V169.4H225.3zM596.3 177.8H604.4V211.2H596.3zM273.7 211.2H281.8V244.7H273.7zM297.9 211.2H306.0V244.7H297.9zM314.0 211.2H322.1V219.6H314.0zM249.5 244.7H257.6V269.7H249.5zM233.4 303.2H249.5V311.5H233.4zM281.8 303.2H289.9V311.5H281.8zM588.2 303.2H596.3V311.5H588.2zM273.7 311.5H281.8V336.6H273.7zM289.9 311.5H297.9V336.6H289.9zM306.0 311.5H314.0V319.9H306.0zM572.1 311.5H588.2V336.6H572.1zM257.6 361.7H265.7V370.0H257.6zM273.7 395.1H281.8V403.5H273.7zM289.9 395.1H297.9V403.5H289.9zM265.7 420.2H273.7V436.9H265.7zM556.0 428.6H572.1V436.9H556.0zM547.9 453.6H572.1V462.0H547.9zM580.2 462.0H596.3V470.4H580.2zM168.9 478.7H176.9V487.1H168.9zM580.2 478.7H596.3V487.1H580.2zM217.3 487.1H233.4V495.4H217.3zM362.4 553.9H370.5V562.3H362.4z"/><path fill="#4563fd" d="M225.3 136.0H233.4V152.7H225.3zM596.3 136.0H604.4V177.8H596.3zM314.0 219.6H322.1V236.3H314.0zM273.7 244.7H281.8V311.5H273.7zM297.9 244.7H306.0V286.5H297.9zM249.5 269.7H257.6V286.5H249.5zM233.4 286.5H249.5V303.2H233.4zM281.8 286.5H297.9V303.2H281.8zM572.1 286.5H596.3V303.2H572.1zM289.9 303.2H297.9V311.5H289.9zM572.1 303.2H588.2V311.5H572.1zM306.0 319.9H314.0V336.6H306.0zM257.6 370.0H265.7V386.8H257.6zM281.8 411.8H289.9V420.2H281.8zM225.3 420.2H249.5V428.6H225.3zM556.0 420.2H572.1V428.6H556.0zM547.9 428.6H556.0V436.9H547.9zM265.7 436.9H273.7V445.3H265.7zM580.2 470.4H596.3V478.7H580.2zM531.8 487.1H539.8V495.4H531.8z"/><path fill="#4269fe" d="M233.4 136.0H249.5V286.5H233.4zM281.8 136.0H297.9V286.5H281.8zM322.1 136.0H330.2V169.4H322.1zM580.2 136.0H596.3V286.5H580.2zM314.0 236.3H322.1V244.7H314.0zM217.3 253.0H225.3V403.5H217.3zM572.1 253.0H580.2V286.5H572.1zM564.0 269.7H572.1V311.5H564.0zM249.5 286.5H257.6V395.1H249.5zM297.9 286.5H306.0V311.5H297.9zM306.0 336.6H314.0V345.0H306.0zM257.6 386.8H265.7V453.6H257.6zM273.7 403.5H281.8V411.8H273.7zM289.9 403.5H297.9V411.8H289.9zM556.0 411.8H572.1V420.2H556.0zM225.3 428.6H249.5V436.9H225.3zM265.7 445.3H273.7V453.6H265.7zM572.1 462.0H580.2V470.4H572.1zM249.5 495.4H257.6V503.8H249.5zM507.6 495.4H515.7V503.8H507.6z"/><path fill="#3e6fff" d="M322.1 169.4H330.2V202.9H322.1zM217.3 219.6H225.3V253.0H217.3zM572.1 219.6H580.2V253.0H572.1zM314.0 244.7H322.1V261.4H314.0zM564.0 253.0H572.1V269.7H564.0zM297.9 311.5H306.0V328.3H297.9zM564.0 311.5H572.1V328.3H564.0zM306.0 345.0H314.0V361.7H306.0zM249.5 395.1H257.6V403.5H249.5zM217.3 403.5H225.3V411.8H217.3zM556.0 403.5H572.1V411.8H556.0zM273.7 411.8H281.8V420.2H273.7zM289.9 411.8H297.9V420.2H289.9zM281.8 420.2H289.9V428.6H281.8zM547.9 420.2H556.0V428.6H547.9zM168.9 470.4H176.9V478.7H168.9zM233.4 487.1H241.5V495.4H233.4zM314.0 512.1H322.1V520.5H314.0zM467.3 512.1H475.3V520.5H467.3zM354.4 537.2H362.4V545.6H354.4zM435.0 537.2H443.1V545.6H435.0z"/><path fill="#3875fe" d="M217.3 186.2H225.3V219.6H217.3zM572.1 186.2H580.2V219.6H572.1zM322.1 202.9H330.2V236.3H322.1zM564.0 236.3H572.1V253.0H564.0zM314.0 261.4H322.1V269.7H314.0zM297.9 328.3H306.0V353.3H297.9zM564.0 328.3H572.1V353.3H564.0zM306.0 361.7H314.0V370.0H306.0zM556.0 395.1H572.1V403.5H556.0zM249.5 403.5H257.6V411.8H249.5zM217.3 411.8H225.3V428.6H217.3zM547.9 411.8H556.0V420.2H547.9zM225.3 436.9H249.5V445.3H225.3zM168.9 462.0H176.9V470.4H168.9zM547.9 462.0H572.1V470.4H547.9zM572.1 470.4H580.2V487.1H572.1zM523.7 487.1H531.8V495.4H523.7zM475.3 503.8H483.4V512.1H475.3zM346.3 528.9H354.4V537.2H346.3zM443.1 528.9H451.1V537.2H443.1zM426.9 553.9H435.0V562.3H426.9z"/><path fill="#327cfc" d="M217.3 144.4H225.3V186.2H217.3zM572.1 144.4H580.2V186.2H572.1zM564.0 219.6H572.1V236.3H564.0zM322.1 236.3H330.2V278.1H322.1zM314.0 269.7H322.1V286.5H314.0zM297.9 353.3H306.0V378.4H297.9zM564.0 353.3H572.1V378.4H564.0zM306.0 370.0H314.0V378.4H306.0zM556.0 386.8H572.1V395.1H556.0zM249.5 411.8H257.6V420.2H249.5zM273.7 420.2H281.8V428.6H273.7zM289.9 420.2H297.9V428.6H289.9zM217.3 428.6H225.3V445.3H217.3zM281.8 428.6H289.9V436.9H281.8zM168.9 453.6H176.9V462.0H168.9zM306.0 503.8H314.0V512.1H306.0zM338.2 520.5H346.3V528.9H338.2z"/><path fill="#2f81fa" d="M217.3 136.0H225.3V144.4H217.3zM330.2 136.0H338.2V161.1H330.2zM572.1 136.0H580.2V144.4H572.1zM564.0 194.5H572.1V219.6H564.0zM322.1 278.1H330.2V303.2H322.1zM314.0 286.5H322.1V303.2H314.0zM330.2 370.0H338.2V386.8H330.2zM556.0 370.0H564.0V386.8H556.0zM297.9 378.4H314.0V395.1H297.9zM564.0 378.4H572.1V386.8H564.0zM547.9 403.5H556.0V411.8H547.9zM273.7 428.6H281.8V436.9H273.7zM289.9 428.6H297.9V436.9H289.9zM168.9 436.9H176.9V453.6H168.9zM539.8 436.9H547.9V453.6H539.8zM217.3 445.3H249.5V453.6H217.3zM257.6 453.6H273.7V462.0H257.6zM257.6 495.4H273.7V503.8H257.6zM499.5 495.4H507.6V503.8H499.5zM322.1 512.1H330.2V520.5H322.1zM451.1 520.5H459.2V528.9H451.1z"/><path fill="#2e87f7" d="M330.2 161.1H338.2V194.5H330.2zM564.0 177.8H572.1V194.5H564.0zM314.0 303.2H330.2V328.3H314.0zM330.2 345.0H338.2V370.0H330.2zM556.0 345.0H564.0V370.0H556.0zM330.2 386.8H338.2V395.1H330.2zM297.9 395.1H306.0V411.8H297.9zM547.9 395.1H556.0V403.5H547.9zM249.5 420.2H257.6V428.6H249.5zM168.9 428.6H176.9V436.9H168.9zM539.8 428.6H547.9V436.9H539.8zM281.8 436.9H289.9V445.3H281.8zM547.9 470.4H572.1V487.1H547.9zM176.9 478.7H185.0V487.1H176.9zM515.7 487.1H523.7V495.4H515.7zM362.4 545.6H370.5V553.9H362.4z"/><path fill="#2d8cf3" d="M564.0 161.1H572.1V177.8H564.0zM330.2 194.5H338.2V236.3H330.2zM330.2 319.9H338.2V345.0H330.2zM556.0 319.9H564.0V345.0H556.0zM314.0 328.3H330.2V353.3H314.0zM306.0 395.1H314.0V403.5H306.0zM168.9 411.8H176.9V428.6H168.9zM297.9 411.8H306.0V428.6H297.9zM539.8 411.8H547.9V428.6H539.8zM249.5 428.6H257.6V436.9H249.5zM273.7 436.9H281.8V445.3H273.7zM289.9 436.9H297.9V445.3H289.9zM539.8 453.6H547.9V462.0H539.8zM241.5 487.1H249.5V495.4H241.5zM426.9 545.6H435.0V553.9H426.9z"/><path fill="#2b91ef" d="M564.0 144.4H572.1V161.1H564.0zM330.2 236.3H338.2V269.7H330.2zM330.2 294.8H338.2V319.9H330.2zM556.0 294.8H564.0V319.9H556.0zM314.0 353.3H330.2V370.0H314.0zM547.9 386.8H556.0V395.1H547.9zM168.9 395.1H176.9V411.8H168.9zM330.2 395.1H338.2V403.5H330.2zM539.8 395.1H547.9V411.8H539.8zM306.0 403.5H314.0V411.8H306.0zM297.9 428.6H306.0V445.3H297.9zM249.5 436.9H257.6V445.3H249.5zM273.7 495.4H289.9V503.8H273.7zM491.5 495.4H499.5V503.8H491.5z"/><path fill="#2797eb" d="M168.9 136.0H176.9V395.1H168.9zM338.2 136.0H354.4V152.7H338.2zM556.0 136.0H572.1V144.4H556.0zM556.0 144.4H564.0V294.8H556.0zM338.2 152.7H346.3V386.8H338.2zM209.2 269.7H217.3V294.8H209.2zM330.2 269.7H338.2V294.8H330.2zM547.9 278.1H556.0V386.8H547.9zM314.0 370.0H330.2V395.1H314.0zM531.8 378.4H547.9V386.8H531.8zM539.8 386.8H547.9V395.1H539.8zM306.0 411.8H314.0V420.2H306.0zM209.2 445.3H217.3V453.6H209.2zM249.5 445.3H257.6V453.6H249.5zM273.7 445.3H306.0V453.6H273.7zM217.3 453.6H249.5V462.0H217.3zM539.8 462.0H547.9V470.4H539.8zM330.2 512.1H338.2V520.5H330.2zM459.2 512.1H467.3V520.5H459.2z"/><path fill="#259be8" d="M346.3 152.7H354.4V186.2H346.3zM209.2 236.3H217.3V269.7H209.2zM547.9 261.4H556.0V278.1H547.9zM209.2 294.8H217.3V303.2H209.2zM531.8 370.0H547.9V378.4H531.8zM338.2 386.8H346.3V395.1H338.2zM531.8 386.8H539.8V395.1H531.8zM314.0 395.1H330.2V411.8H314.0zM330.2 403.5H338.2V411.8H330.2zM306.0 420.2H314.0V428.6H306.0zM209.2 436.9H217.3V445.3H209.2zM185.0 478.7H193.1V487.1H185.0zM539.8 478.7H547.9V487.1H539.8zM249.5 487.1H257.6V495.4H249.5zM507.6 487.1H515.7V495.4H507.6zM314.0 503.8H322.1V512.1H314.0zM467.3 503.8H475.3V512.1H467.3z"/><path fill="#23a0e5" d="M346.3 186.2H354.4V227.9H346.3zM209.2 194.5H217.3V236.3H209.2zM547.9 244.7H556.0V261.4H547.9zM209.2 303.2H217.3V319.9H209.2zM531.8 353.3H547.9V370.0H531.8zM531.8 395.1H539.8V403.5H531.8zM314.0 411.8H330.2V428.6H314.0zM209.2 428.6H217.3V436.9H209.2zM306.0 428.6H314.0V436.9H306.0zM209.2 453.6H217.3V462.0H209.2zM257.6 462.0H273.7V470.4H257.6zM539.8 470.4H547.9V478.7H539.8zM289.9 495.4H306.0V503.8H289.9zM483.4 495.4H491.5V503.8H483.4zM346.3 520.5H354.4V528.9H346.3zM354.4 528.9H362.4V537.2H354.4zM435.0 528.9H443.1V537.2H435.0z"/><path fill="#20a5e3" d="M209.2 161.1H217.3V194.5H209.2zM547.9 219.6H556.0V244.7H547.9zM346.3 227.9H354.4V261.4H346.3zM209.2 319.9H217.3V328.3H209.2zM531.8 345.0H547.9V353.3H531.8zM338.2 395.1H346.3V403.5H338.2zM531.8 403.5H539.8V411.8H531.8zM209.2 420.2H217.3V428.6H209.2zM314.0 428.6H330.2V436.9H314.0zM306.0 436.9H314.0V445.3H306.0zM249.5 453.6H257.6V462.0H249.5zM176.9 470.4H185.0V478.7H176.9zM443.1 520.5H451.1V528.9H443.1zM370.5 553.9H378.6V562.3H370.5z"/><path fill="#1ca9df" d="M209.2 136.0H217.3V161.1H209.2zM354.4 136.0H362.4V144.4H354.4zM547.9 202.9H556.0V219.6H547.9zM346.3 261.4H354.4V294.8H346.3zM209.2 328.3H217.3V336.6H209.2zM531.8 328.3H547.9V345.0H531.8zM338.2 403.5H346.3V411.8H338.2zM330.2 411.8H338.2V420.2H330.2zM531.8 411.8H539.8V420.2H531.8zM314.0 436.9H330.2V453.6H314.0zM193.1 445.3H209.2V453.6H193.1zM306.0 445.3H314.0V453.6H306.0zM273.7 453.6H306.0V462.0H273.7zM209.2 462.0H249.5V470.4H209.2zM257.6 487.1H273.7V495.4H257.6zM499.5 487.1H507.6V495.4H499.5zM475.3 495.4H483.4V503.8H475.3zM362.4 537.2H370.5V545.6H362.4zM426.9 537.2H435.0V545.6H426.9z"/><path fill="#18addb" d="M354.4 144.4H362.4V186.2H354.4zM547.9 186.2H556.0V202.9H547.9zM346.3 294.8H354.4V319.9H346.3zM531.8 319.9H547.9V328.3H531.8zM209.2 336.6H217.3V353.3H209.2zM209.2 411.8H217.3V420.2H209.2zM531.8 420.2H539.8V428.6H531.8zM201.1 428.6H209.2V445.3H201.1zM193.1 453.6H209.2V462.0H193.1zM193.1 478.7H217.3V487.1H193.1zM531.8 478.7H539.8V487.1H531.8zM322.1 503.8H330.2V512.1H322.1zM338.2 512.1H346.3V520.5H338.2z"/><path fill="#12b1d6" d="M547.9 169.4H556.0V186.2H547.9zM354.4 186.2H362.4V219.6H354.4zM531.8 311.5H547.9V319.9H531.8zM346.3 319.9H354.4V336.6H346.3zM209.2 353.3H217.3V361.7H209.2zM209.2 403.5H217.3V411.8H209.2zM201.1 411.8H209.2V428.6H201.1zM338.2 411.8H346.3V420.2H338.2zM330.2 420.2H338.2V428.6H330.2zM531.8 428.6H539.8V436.9H531.8zM193.1 436.9H201.1V445.3H193.1zM176.9 462.0H185.0V470.4H176.9zM193.1 462.0H209.2V470.4H193.1zM249.5 462.0H257.6V470.4H249.5zM185.0 470.4H193.1V478.7H185.0zM515.7 478.7H531.8V487.1H515.7z"/><path fill="#08b5d0" d="M547.9 152.7H556.0V169.4H547.9zM354.4 219.6H362.4V253.0H354.4zM531.8 294.8H547.9V311.5H531.8zM346.3 336.6H354.4V361.7H346.3zM209.2 361.7H217.3V378.4H209.2zM209.2 395.1H217.3V403.5H209.2zM201.1 403.5H209.2V411.8H201.1zM338.2 420.2H346.3V428.6H338.2zM531.8 436.9H539.8V445.3H531.8zM306.0 453.6H322.1V462.0H306.0zM193.1 470.4H217.3V478.7H193.1zM306.0 495.4H314.0V503.8H306.0z"/><path fill="#01b8ca" d="M201.1 136.0H209.2V403.5H201.1zM378.6 136.0H386.6V453.6H378.6zM539.8 136.0H556.0V152.7H539.8zM539.8 152.7H547.9V294.8H539.8zM354.4 253.0H362.4V286.5H354.4zM531.8 286.5H539.8V294.8H531.8zM346.3 361.7H354.4V386.8H346.3zM209.2 378.4H217.3V395.1H209.2zM515.7 386.8H531.8V478.7H515.7zM193.1 428.6H201.1V436.9H193.1zM330.2 428.6H338.2V436.9H330.2zM386.6 445.3H394.7V453.6H386.6zM531.8 445.3H539.8V478.7H531.8zM322.1 453.6H330.2V462.0H322.1zM185.0 462.0H193.1V470.4H185.0zM273.7 462.0H306.0V470.4H273.7zM257.6 470.4H273.7V478.7H257.6zM217.3 478.7H233.4V487.1H217.3zM273.7 487.1H289.9V495.4H273.7zM491.5 487.1H499.5V495.4H491.5zM330.2 503.8H338.2V512.1H330.2zM459.2 503.8H467.3V512.1H459.2zM451.1 512.1H459.2V520.5H451.1z"/><path fill="#02bac3" d="M531.8 244.7H539.8V286.5H531.8zM354.4 286.5H362.4V311.5H354.4zM515.7 370.0H531.8V386.8H515.7zM346.3 386.8H354.4V403.5H346.3zM193.1 420.2H201.1V428.6H193.1zM338.2 428.6H346.3V436.9H338.2zM386.6 436.9H394.7V445.3H386.6zM378.6 453.6H386.6V462.0H378.6zM217.3 470.4H249.5V478.7H217.3zM233.4 478.7H241.5V487.1H233.4zM314.0 495.4H322.1V503.8H314.0zM467.3 495.4H475.3V503.8H467.3zM346.3 512.1H354.4V520.5H346.3zM354.4 520.5H362.4V528.9H354.4z"/><path fill="#0bbdbd" d="M531.8 211.2H539.8V244.7H531.8zM354.4 311.5H362.4V336.6H354.4zM515.7 361.7H531.8V370.0H515.7zM346.3 403.5H354.4V420.2H346.3zM386.6 420.2H394.7V436.9H386.6zM330.2 436.9H338.2V445.3H330.2zM176.9 453.6H185.0V462.0H176.9zM249.5 470.4H257.6V487.1H249.5zM241.5 478.7H249.5V487.1H241.5zM507.6 478.7H515.7V487.1H507.6zM435.0 520.5H443.1V528.9H435.0zM370.5 545.6H378.6V553.9H370.5zM418.9 553.9H426.9V562.3H418.9z"/><path fill="#19bfb6" d="M531.8 177.8H539.8V211.2H531.8zM354.4 336.6H362.4V361.7H354.4zM515.7 345.0H531.8V361.7H515.7zM386.6 403.5H394.7V420.2H386.6zM193.1 411.8H201.1V420.2H193.1zM346.3 420.2H354.4V436.9H346.3zM338.2 436.9H346.3V445.3H338.2zM185.0 453.6H193.1V462.0H185.0zM306.0 462.0H322.1V470.4H306.0zM378.6 462.0H386.6V470.4H378.6zM257.6 478.7H273.7V487.1H257.6zM499.5 478.7H507.6V487.1H499.5zM289.9 487.1H306.0V495.4H289.9zM483.4 487.1H491.5V495.4H483.4zM362.4 528.9H370.5V537.2H362.4zM426.9 528.9H435.0V537.2H426.9z"/><path fill="#24c1ae" d="M531.8 136.0H539.8V177.8H531.8zM515.7 336.6H531.8V345.0H515.7zM354.4 361.7H362.4V386.8H354.4zM386.6 386.8H394.7V403.5H386.6zM346.3 436.9H354.4V445.3H346.3zM330.2 445.3H346.3V453.6H330.2zM378.6 470.4H386.6V478.7H378.6zM475.3 487.1H483.4V495.4H475.3zM338.2 503.8H346.3V512.1H338.2z"/><path fill="#2cc4a7" d="M426.9 136.0H443.1V144.4H426.9zM515.7 328.3H531.8V336.6H515.7zM386.6 378.4H394.7V386.8H386.6zM499.5 378.4H515.7V403.5H499.5zM354.4 386.8H362.4V395.1H354.4zM193.1 403.5H201.1V411.8H193.1zM176.9 436.9H193.1V453.6H176.9zM346.3 445.3H354.4V453.6H346.3zM394.7 445.3H402.8V453.6H394.7zM386.6 453.6H394.7V462.0H386.6zM322.1 462.0H330.2V470.4H322.1zM273.7 470.4H306.0V478.7H273.7zM322.1 495.4H330.2V503.8H322.1zM443.1 512.1H451.1V520.5H443.1z"/><path fill="#31c69f" d="M426.9 144.4H443.1V152.7H426.9zM426.9 152.7H435.0V161.1H426.9zM515.7 311.5H531.8V328.3H515.7zM386.6 361.7H394.7V378.4H386.6zM507.6 370.0H515.7V378.4H507.6zM193.1 395.1H201.1V403.5H193.1zM354.4 395.1H362.4V403.5H354.4zM499.5 403.5H515.7V411.8H499.5zM176.9 420.2H193.1V436.9H176.9zM306.0 470.4H322.1V478.7H306.0zM499.5 470.4H515.7V478.7H499.5zM306.0 487.1H322.1V495.4H306.0zM330.2 495.4H338.2V503.8H330.2zM459.2 495.4H467.3V503.8H459.2zM354.4 512.1H362.4V520.5H354.4z"/><path fill="#37c897" d="M435.0 152.7H443.1V161.1H435.0zM426.9 161.1H435.0V169.4H426.9zM515.7 303.2H531.8V311.5H515.7zM386.6 353.3H394.7V361.7H386.6zM507.6 361.7H515.7V370.0H507.6zM499.5 370.0H507.6V378.4H499.5zM176.9 403.5H193.1V420.2H176.9zM354.4 403.5H362.4V411.8H354.4zM499.5 411.8H515.7V428.6H499.5zM394.7 436.9H402.8V445.3H394.7zM330.2 453.6H354.4V462.0H330.2zM499.5 462.0H515.7V470.4H499.5zM273.7 478.7H289.9V487.1H273.7zM378.6 478.7H386.6V487.1H378.6zM491.5 478.7H499.5V487.1H491.5zM346.3 503.8H354.4V512.1H346.3zM451.1 503.8H459.2V512.1H451.1zM370.5 537.2H378.6V545.6H370.5zM418.9 545.6H426.9V553.9H418.9z"/><path fill="#3fca8e" d="M435.0 161.1H443.1V169.4H435.0zM426.9 169.4H435.0V186.2H426.9zM515.7 286.5H531.8V303.2H515.7zM386.6 336.6H394.7V353.3H386.6zM507.6 353.3H515.7V361.7H507.6zM499.5 361.7H507.6V370.0H499.5zM176.9 386.8H201.1V395.1H176.9zM176.9 395.1H193.1V403.5H176.9zM354.4 411.8H362.4V420.2H354.4zM394.7 428.6H402.8V436.9H394.7zM499.5 428.6H515.7V445.3H499.5zM499.5 453.6H515.7V462.0H499.5zM289.9 478.7H322.1V487.1H289.9zM483.4 478.7H491.5V487.1H483.4zM362.4 520.5H370.5V528.9H362.4z"/><path fill="#4acb84" d="M176.9 136.0H193.1V161.1H176.9zM362.4 136.0H370.5V294.8H362.4zM515.7 136.0H531.8V286.5H515.7zM176.9 161.1H185.0V386.8H176.9zM435.0 169.4H443.1V177.8H435.0zM426.9 186.2H435.0V194.5H426.9zM370.5 261.4H378.6V294.8H370.5zM386.6 328.3H394.7V336.6H386.6zM507.6 345.0H515.7V353.3H507.6zM499.5 353.3H507.6V361.7H499.5zM185.0 370.0H201.1V386.8H185.0zM491.5 445.3H515.7V453.6H491.5zM394.7 453.6H402.8V462.0H394.7zM491.5 453.6H499.5V478.7H491.5zM330.2 462.0H354.4V470.4H330.2zM322.1 470.4H330.2V478.7H322.1zM467.3 487.1H475.3V495.4H467.3zM426.9 520.5H435.0V528.9H426.9z"/><path fill="#57cc7a" d="M185.0 161.1H193.1V194.5H185.0zM435.0 177.8H443.1V186.2H435.0zM426.9 194.5H435.0V202.9H426.9zM370.5 227.9H378.6V261.4H370.5zM362.4 294.8H378.6V303.2H362.4zM386.6 319.9H394.7V328.3H386.6zM507.6 336.6H515.7V345.0H507.6zM185.0 345.0H201.1V370.0H185.0zM354.4 420.2H362.4V428.6H354.4zM394.7 420.2H402.8V428.6H394.7zM491.5 436.9H499.5V445.3H491.5zM322.1 487.1H338.2V495.4H322.1zM338.2 495.4H346.3V503.8H338.2zM435.0 512.1H443.1V520.5H435.0zM418.9 537.2H426.9V545.6H418.9z"/><path fill="#64cd6f" d="M370.5 186.2H378.6V227.9H370.5zM435.0 186.2H443.1V194.5H435.0zM185.0 194.5H193.1V236.3H185.0zM426.9 202.9H435.0V219.6H426.9zM362.4 303.2H378.6V319.9H362.4zM386.6 303.2H394.7V319.9H386.6zM185.0 319.9H201.1V345.0H185.0zM507.6 328.3H515.7V336.6H507.6zM499.5 345.0H507.6V353.3H499.5zM394.7 411.8H402.8V420.2H394.7zM354.4 428.6H362.4V436.9H354.4zM491.5 428.6H499.5V436.9H491.5zM386.6 462.0H394.7V470.4H386.6zM330.2 470.4H354.4V478.7H330.2zM483.4 470.4H491.5V478.7H483.4zM475.3 478.7H483.4V487.1H475.3zM346.3 495.4H354.4V503.8H346.3zM451.1 495.4H459.2V503.8H451.1zM354.4 503.8H362.4V512.1H354.4zM443.1 503.8H451.1V512.1H443.1zM362.4 512.1H370.5V520.5H362.4zM378.6 553.9H386.6V562.3H378.6z"/><path fill="#72cd64" d="M370.5 152.7H378.6V186.2H370.5zM435.0 194.5H443.1V202.9H435.0zM426.9 219.6H435.0V227.9H426.9zM185.0 236.3H193.1V269.7H185.0zM185.0 294.8H201.1V319.9H185.0zM386.6 294.8H394.7V303.2H386.6zM362.4 319.9H378.6V328.3H362.4zM507.6 319.9H515.7V328.3H507.6zM499.5 336.6H507.6V345.0H499.5zM491.5 420.2H499.5V428.6H491.5zM354.4 436.9H362.4V445.3H354.4zM322.1 478.7H338.2V487.1H322.1zM370.5 528.9H378.6V537.2H370.5zM418.9 528.9H426.9V537.2H418.9z"/><path fill="#81cc59" d="M193.1 136.0H201.1V294.8H193.1zM370.5 136.0H378.6V152.7H370.5zM418.9 136.0H426.9V152.7H418.9zM435.0 202.9H443.1V219.6H435.0zM426.9 227.9H435.0V244.7H426.9zM185.0 269.7H193.1V294.8H185.0zM386.6 269.7H394.7V294.8H386.6zM507.6 311.5H515.7V319.9H507.6zM362.4 328.3H378.6V345.0H362.4zM394.7 403.5H402.8V411.8H394.7zM491.5 411.8H499.5V420.2H491.5zM354.4 445.3H362.4V478.7H354.4zM370.5 445.3H378.6V453.6H370.5zM483.4 462.0H491.5V470.4H483.4zM338.2 478.7H354.4V495.4H338.2zM459.2 487.1H467.3V495.4H459.2z"/><path fill="#8fcb4e" d="M418.9 152.7H426.9V186.2H418.9zM435.0 219.6H443.1V227.9H435.0zM386.6 236.3H394.7V269.7H386.6zM426.9 244.7H435.0V253.0H426.9zM499.5 328.3H507.6V336.6H499.5zM362.4 345.0H378.6V353.3H362.4zM491.5 403.5H499.5V411.8H491.5zM370.5 428.6H378.6V445.3H370.5zM370.5 453.6H378.6V462.0H370.5zM475.3 470.4H483.4V478.7H475.3zM354.4 478.7H362.4V487.1H354.4zM362.4 503.8H370.5V512.1H362.4zM435.0 503.8H443.1V512.1H435.0zM370.5 520.5H378.6V528.9H370.5z"/><path fill="#9dc943" d="M418.9 186.2H426.9V227.9H418.9zM386.6 194.5H394.7V236.3H386.6zM435.0 227.9H443.1V236.3H435.0zM426.9 253.0H435.0V269.7H426.9zM507.6 303.2H515.7V311.5H507.6zM499.5 319.9H507.6V328.3H499.5zM362.4 353.3H378.6V361.7H362.4zM394.7 395.1H402.8V403.5H394.7zM491.5 395.1H499.5V403.5H491.5zM370.5 411.8H378.6V428.6H370.5zM483.4 453.6H491.5V462.0H483.4zM370.5 462.0H378.6V470.4H370.5zM394.7 462.0H402.8V470.4H394.7zM475.3 462.0H483.4V470.4H475.3zM354.4 495.4H362.4V503.8H354.4zM443.1 495.4H451.1V503.8H443.1zM426.9 512.1H435.0V520.5H426.9zM378.6 545.6H386.6V553.9H378.6z"/><path fill="#abc739" d="M386.6 161.1H394.7V194.5H386.6zM418.9 227.9H426.9V261.4H418.9zM435.0 236.3H443.1V244.7H435.0zM426.9 269.7H435.0V278.1H426.9zM507.6 294.8H515.7V303.2H507.6zM499.5 311.5H507.6V319.9H499.5zM362.4 361.7H378.6V378.4H362.4zM394.7 386.8H402.8V395.1H394.7zM370.5 395.1H378.6V411.8H370.5zM475.3 453.6H483.4V462.0H475.3zM370.5 470.4H378.6V478.7H370.5zM467.3 478.7H475.3V487.1H467.3zM354.4 487.1H362.4V495.4H354.4zM378.6 487.1H386.6V495.4H378.6zM451.1 487.1H459.2V495.4H451.1zM362.4 495.4H370.5V503.8H362.4zM435.0 495.4H443.1V503.8H435.0zM370.5 512.1H378.6V520.5H370.5zM418.9 520.5H426.9V528.9H418.9z"/><path fill="#b9c431" d="M386.6 136.0H402.8V161.1H386.6zM443.1 136.0H459.2V144.4H443.1zM507.6 136.0H515.7V294.8H507.6zM394.7 161.1H402.8V386.8H394.7zM435.0 244.7H443.1V253.0H435.0zM418.9 261.4H426.9V286.5H418.9zM426.9 278.1H435.0V286.5H426.9zM362.4 378.4H378.6V395.1H362.4zM483.4 378.4H499.5V395.1H483.4zM362.4 395.1H370.5V495.4H362.4zM483.4 395.1H491.5V453.6H483.4zM459.2 445.3H483.4V453.6H459.2zM467.3 453.6H475.3V478.7H467.3zM386.6 470.4H394.7V478.7H386.6z"/><path fill="#c5c22a" d="M443.1 144.4H459.2V161.1H443.1zM443.1 161.1H451.1V186.2H443.1zM435.0 253.0H443.1V261.4H435.0zM418.9 286.5H435.0V303.2H418.9zM499.5 303.2H507.6V311.5H499.5zM483.4 370.0H499.5V378.4H483.4zM467.3 428.6H483.4V445.3H467.3zM459.2 436.9H467.3V445.3H459.2zM459.2 453.6H467.3V462.0H459.2zM370.5 478.7H378.6V487.1H370.5zM370.5 503.8H378.6V512.1H370.5zM426.9 503.8H435.0V512.1H426.9zM378.6 537.2H386.6V545.6H378.6z"/><path fill="#d1bf27" d="M451.1 161.1H459.2V177.8H451.1zM443.1 186.2H451.1V219.6H443.1zM435.0 261.4H443.1V269.7H435.0zM499.5 294.8H507.6V303.2H499.5zM418.9 303.2H435.0V311.5H418.9zM483.4 361.7H499.5V370.0H483.4zM467.3 411.8H483.4V428.6H467.3zM459.2 462.0H467.3V470.4H459.2zM435.0 487.1H451.1V495.4H435.0z"/><path fill="#dcbd29" d="M451.1 177.8H459.2V194.5H451.1zM443.1 219.6H451.1V253.0H443.1zM435.0 269.7H443.1V278.1H435.0zM418.9 311.5H435.0V328.3H418.9zM483.4 345.0H499.5V361.7H483.4zM467.3 403.5H483.4V411.8H467.3zM459.2 428.6H467.3V436.9H459.2zM459.2 470.4H467.3V487.1H459.2zM451.1 478.7H459.2V487.1H451.1zM370.5 487.1H378.6V495.4H370.5zM418.9 512.1H426.9V520.5H418.9z"/><path fill="#e6bb2d" d="M402.8 136.0H418.9V386.8H402.8zM499.5 136.0H507.6V294.8H499.5zM451.1 194.5H459.2V211.2H451.1zM443.1 253.0H451.1V286.5H443.1zM435.0 278.1H443.1V286.5H435.0zM418.9 328.3H435.0V336.6H418.9zM483.4 336.6H499.5V345.0H483.4zM402.8 386.8H410.8V453.6H402.8zM467.3 386.8H483.4V403.5H467.3zM459.2 420.2H467.3V428.6H459.2zM443.1 445.3H459.2V478.7H443.1zM394.7 470.4H402.8V478.7H394.7zM426.9 478.7H451.1V487.1H426.9zM426.9 487.1H435.0V503.8H426.9zM370.5 495.4H386.6V503.8H370.5zM418.9 495.4H426.9V512.1H418.9zM378.6 503.8H386.6V537.2H378.6zM410.8 512.1H418.9V562.3H410.8z"/><path fill="#f0ba36" d="M459.2 136.0H467.3V177.8H459.2zM451.1 211.2H459.2V227.9H451.1zM435.0 286.5H451.1V311.5H435.0zM483.4 319.9H499.5V336.6H483.4zM418.9 336.6H435.0V345.0H418.9zM467.3 361.7H483.4V386.8H467.3zM410.8 386.8H418.9V403.5H410.8zM459.2 411.8H467.3V420.2H459.2zM443.1 436.9H459.2V445.3H443.1zM402.8 453.6H410.8V462.0H402.8zM426.9 470.4H443.1V478.7H426.9zM386.6 478.7H394.7V487.1H386.6z"/><path fill="#f8ba3d" d="M459.2 177.8H467.3V211.2H459.2zM451.1 227.9H459.2V244.7H451.1zM435.0 311.5H451.1V336.6H435.0zM483.4 311.5H499.5V319.9H483.4zM467.3 336.6H483.4V361.7H467.3zM418.9 345.0H435.0V361.7H418.9zM410.8 403.5H418.9V420.2H410.8zM459.2 403.5H467.3V411.8H459.2zM443.1 420.2H459.2V436.9H443.1zM426.9 462.0H443.1V470.4H426.9zM418.9 487.1H426.9V495.4H418.9zM410.8 503.8H418.9V512.1H410.8z"/><path fill="#febe3c" d="M459.2 211.2H467.3V244.7H459.2zM451.1 244.7H459.2V269.7H451.1zM483.4 303.2H499.5V311.5H483.4zM467.3 311.5H483.4V336.6H467.3zM435.0 336.6H451.1V361.7H435.0zM418.9 361.7H435.0V370.0H418.9zM459.2 395.1H467.3V403.5H459.2zM443.1 403.5H459.2V420.2H443.1zM410.8 420.2H418.9V436.9H410.8zM402.8 462.0H410.8V470.4H402.8zM386.6 487.1H394.7V495.4H386.6z"/><path fill="#fec338" d="M459.2 244.7H467.3V286.5H459.2zM451.1 269.7H459.2V286.5H451.1zM467.3 286.5H499.5V303.2H467.3zM467.3 303.2H483.4V311.5H467.3zM435.0 361.7H451.1V386.8H435.0zM418.9 370.0H435.0V386.8H418.9zM443.1 386.8H467.3V395.1H443.1zM443.1 395.1H459.2V403.5H443.1zM410.8 436.9H418.9V445.3H410.8zM426.9 453.6H443.1V462.0H426.9zM402.8 470.4H410.8V478.7H402.8zM418.9 478.7H426.9V487.1H418.9zM410.8 495.4H418.9V503.8H410.8z"/><path fill="#fec934" d="M467.3 136.0H499.5V286.5H467.3zM451.1 286.5H467.3V386.8H451.1zM418.9 386.8H443.1V453.6H418.9zM410.8 445.3H418.9V495.4H410.8zM418.9 453.6H426.9V478.7H418.9zM394.7 478.7H410.8V520.5H394.7zM386.6 495.4H394.7V562.3H386.6zM402.8 520.5H410.8V537.2H402.8z"/><path fill="#fad62c" d="M394.7 520.5H402.8V528.9H394.7z"/><path fill="#f9dc28" d="M402.8 537.2H410.8V545.6H402.8z"/><path fill="#f7e324" d="M394.7 528.9H402.8V545.6H394.7z"/><path fill="#f7e921" d="M394.7 545.6H410.8V553.9H394.7z"/><path fill="#f7f418" d="M394.7 553.9H410.8V562.3H394.7z"/></g></g>
<line x1="120.5" y1="179.0999999999999" x2="685.0" y2="179.0999999999999" stroke="#fff" stroke-width="3.2" stroke-dasharray="31.5 18.5" clip-path="url(#hc20)"/>
<line x1="120.5" y1="475.4000000000001" x2="685.0" y2="475.4000000000001" stroke="#fff" stroke-width="3.2" stroke-dasharray="31.5 18.5" clip-path="url(#hc20)"/>
<path d="M201.1 136.0v14.4M201.1 562.3v-14.4M402.8 136.0v14.4M402.8 562.3v-14.4M604.4 136.0v14.4M604.4 562.3v-14.4M120.5 180.5h14.4M685.0 180.5h-14.4M120.5 245.4000000000001h14.4M685.0 245.4000000000001h-14.4M120.5 310.29999999999995h14.4M685.0 310.29999999999995h-14.4M120.5 375.20000000000005h14.4M685.0 375.20000000000005h-14.4M120.5 440.0999999999999h14.4M685.0 440.0999999999999h-14.4M120.5 505.0h14.4M685.0 505.0h-14.4" stroke="#000" stroke-width="4.8" fill="none"/>
<rect x="120.5" y="136.0" width="564.5" height="426.3" fill="none" stroke="#000" stroke-width="4.9"/>
<text x="201.1" y="606.0" font-size="30.5" text-anchor="middle">600</text>
<text x="402.8" y="606.0" font-size="30.5" text-anchor="middle">850</text>
<text x="604.4" y="606.0" font-size="30.5" text-anchor="middle">1100</text>
<text x="403.2" y="650.0" font-size="29" text-anchor="middle">Wavelength (nm)</text>
<text x="912.6" y="74.3" font-size="28.8" text-anchor="middle" textLength="63" lengthAdjust="spacingAndGlyphs">RNN</text>
<text x="1060.4" y="22.5" font-size="27.5" textLength="283" lengthAdjust="spacingAndGlyphs">Spectral intensity (dB)</text>
<text x="1073.8" y="64.9" font-size="26.6" text-anchor="middle">-40</text>
<text x="1200.3" y="64.9" font-size="26.6" text-anchor="middle">-20</text>
<text x="1326.8" y="64.9" font-size="26.6" text-anchor="middle">0</text>
<rect x="1073.8" y="89.3" width="253.0" height="28" fill="url(#cbg)" stroke="#000" stroke-width="3"/>
<line x1="1200.3" y1="90.8" x2="1200.3" y2="103.3" stroke="#000" stroke-width="3"/>
<clipPath id="hc21"><rect x="762.6" y="136.0" width="564.2" height="426.3"/></clipPath>
<rect x="762.6" y="136.0" width="564.2" height="426.3" fill="#3e26a8"/>
<g clip-path="url(#hc21)"><g filter="url(#hblur)" shape-rendering="crispEdges"><path fill="#402ab4" d="M891.6 144.4H899.6V152.7H891.6zM899.6 152.7H907.7V177.8H899.6zM939.9 202.9H956.0V236.3H939.9zM907.7 244.7H923.8V253.0H907.7zM923.8 253.0H931.9V261.4H923.8zM1238.1 253.0H1246.2V278.1H1238.1zM875.4 294.8H883.5V319.9H875.4zM948.0 328.3H956.0V336.6H948.0zM875.4 336.6H883.5V353.3H875.4zM1246.2 336.6H1254.3V353.3H1246.2zM1254.3 403.5H1278.4V411.8H1254.3zM1262.3 411.8H1278.4V420.2H1262.3zM1262.3 470.4H1278.4V478.7H1262.3zM1246.2 487.1H1254.3V495.4H1246.2zM875.4 503.8H883.5V512.1H875.4zM1173.7 503.8H1181.7V512.1H1173.7z"/><path fill="#422ec0" d="M891.6 152.7H899.6V161.1H891.6zM899.6 177.8H907.7V202.9H899.6zM939.9 177.8H956.0V202.9H939.9zM907.7 253.0H923.8V261.4H907.7zM923.8 261.4H931.9V269.7H923.8zM875.4 278.1H883.5V294.8H875.4zM1238.1 278.1H1246.2V294.8H1238.1zM931.9 328.3H948.0V336.6H931.9zM875.4 353.3H883.5V370.0H875.4zM1246.2 353.3H1254.3V370.0H1246.2zM1262.3 420.2H1278.4V428.6H1262.3zM1262.3 462.0H1278.4V470.4H1262.3zM1254.3 470.4H1262.3V478.7H1254.3zM1165.6 503.8H1173.7V512.1H1165.6zM996.3 553.9H1004.4V562.3H996.3zM1076.9 553.9H1085.0V562.3H1076.9z"/><path fill="#4332cb" d="M939.9 152.7H956.0V177.8H939.9zM891.6 161.1H899.6V169.4H891.6zM899.6 202.9H907.7V227.9H899.6zM875.4 261.4H883.5V278.1H875.4zM923.8 269.7H931.9V278.1H923.8zM1238.1 294.8H1246.2V311.5H1238.1zM948.0 336.6H956.0V345.0H948.0zM875.4 370.0H883.5V386.8H875.4zM1246.2 370.0H1254.3V386.8H1246.2zM1254.3 411.8H1262.3V420.2H1254.3zM1262.3 428.6H1278.4V445.3H1262.3zM1262.3 453.6H1278.4V462.0H1262.3zM1238.1 487.1H1246.2V495.4H1238.1zM875.4 495.4H883.5V503.8H875.4zM1173.7 495.4H1181.7V503.8H1173.7zM948.0 520.5H956.0V528.9H948.0zM1117.2 520.5H1125.3V528.9H1117.2zM980.2 537.2H988.3V545.6H980.2zM1093.1 537.2H1101.1V545.6H1093.1z"/><path fill="#4537d5" d="M867.4 136.0H891.6V144.4H867.4zM939.9 136.0H964.1V152.7H939.9zM1230.1 136.0H1238.1V253.0H1230.1zM867.4 144.4H883.5V261.4H867.4zM956.0 152.7H964.1V328.3H956.0zM891.6 169.4H899.6V177.8H891.6zM899.6 227.9H907.7V253.0H899.6zM867.4 261.4H875.4V403.5H867.4zM907.7 261.4H923.8V269.7H907.7zM923.8 278.1H931.9V286.5H923.8zM1238.1 311.5H1246.2V328.3H1238.1zM883.5 319.9H899.6V403.5H883.5zM931.9 336.6H948.0V345.0H931.9zM875.4 386.8H883.5V403.5H875.4zM1246.2 386.8H1254.3V403.5H1246.2zM1254.3 420.2H1262.3V428.6H1254.3zM899.6 445.3H907.7V453.6H899.6zM1262.3 445.3H1278.4V453.6H1262.3zM1254.3 462.0H1262.3V470.4H1254.3zM1246.2 478.7H1254.3V487.1H1246.2zM811.0 487.1H819.0V495.4H811.0zM1222.0 487.1H1238.1V495.4H1222.0zM883.5 503.8H891.6V512.1H883.5zM1157.5 503.8H1165.6V512.1H1157.5z"/><path fill="#463cde" d="M883.5 144.4H891.6V169.4H883.5zM891.6 177.8H899.6V186.2H891.6zM899.6 253.0H907.7V261.4H899.6zM1230.1 253.0H1238.1V269.7H1230.1zM923.8 286.5H931.9V294.8H923.8zM883.5 303.2H891.6V319.9H883.5zM891.6 311.5H899.6V319.9H891.6zM1238.1 328.3H1246.2V353.3H1238.1zM948.0 345.0H956.0V353.3H948.0zM867.4 403.5H899.6V411.8H867.4zM1246.2 403.5H1254.3V420.2H1246.2zM891.6 411.8H899.6V420.2H891.6zM1254.3 428.6H1262.3V436.9H1254.3zM907.7 445.3H915.7V453.6H907.7zM1246.2 470.4H1254.3V478.7H1246.2zM1214.0 487.1H1222.0V495.4H1214.0zM891.6 503.8H899.6V512.1H891.6zM1149.5 503.8H1157.5V512.1H1149.5zM988.3 537.2H996.3V545.6H988.3zM1085.0 537.2H1093.1V545.6H1085.0z"/><path fill="#4741e5" d="M883.5 169.4H891.6V194.5H883.5zM891.6 186.2H899.6V194.5H891.6zM899.6 261.4H907.7V269.7H899.6zM907.7 269.7H923.8V278.1H907.7zM1230.1 269.7H1238.1V286.5H1230.1zM883.5 278.1H891.6V303.2H883.5zM923.8 294.8H931.9V311.5H923.8zM891.6 303.2H899.6V311.5H891.6zM956.0 328.3H964.1V336.6H956.0zM931.9 345.0H948.0V353.3H931.9zM1238.1 353.3H1246.2V370.0H1238.1zM891.6 420.2H899.6V428.6H891.6zM1246.2 420.2H1254.3V428.6H1246.2zM899.6 436.9H907.7V445.3H899.6zM1254.3 453.6H1262.3V462.0H1254.3zM1246.2 462.0H1254.3V470.4H1246.2zM899.6 503.8H915.7V512.1H899.6zM1141.4 503.8H1149.5V512.1H1141.4zM956.0 520.5H964.1V528.9H956.0zM1109.2 520.5H1117.2V528.9H1109.2zM996.3 545.6H1004.4V553.9H996.3zM1076.9 545.6H1085.0V553.9H1076.9z"/><path fill="#4747eb" d="M883.5 194.5H899.6V202.9H883.5zM883.5 202.9H891.6V219.6H883.5zM883.5 261.4H891.6V278.1H883.5zM899.6 269.7H907.7V278.1H899.6zM1230.1 286.5H1238.1V311.5H1230.1zM891.6 294.8H899.6V303.2H891.6zM923.8 311.5H931.9V319.9H923.8zM948.0 353.3H956.0V361.7H948.0zM1238.1 370.0H1246.2V386.8H1238.1zM867.4 411.8H891.6V420.2H867.4zM891.6 428.6H907.7V436.9H891.6zM1246.2 428.6H1254.3V436.9H1246.2zM907.7 436.9H915.7V445.3H907.7zM1254.3 436.9H1262.3V445.3H1254.3zM1246.2 453.6H1254.3V462.0H1246.2zM1238.1 478.7H1246.2V487.1H1238.1zM819.0 487.1H827.1V495.4H819.0zM1189.8 487.1H1214.0V495.4H1189.8zM1165.6 495.4H1173.7V503.8H1165.6zM915.7 503.8H931.9V512.1H915.7zM1133.4 503.8H1141.4V512.1H1133.4zM948.0 512.1H956.0V520.5H948.0zM1117.2 512.1H1125.3V520.5H1117.2zM964.1 520.5H972.2V528.9H964.1zM980.2 528.9H988.3V537.2H980.2zM1093.1 528.9H1101.1V537.2H1093.1z"/><path fill="#484df0" d="M859.3 136.0H867.4V244.7H859.3zM964.1 136.0H972.2V244.7H964.1zM1222.0 136.0H1230.1V244.7H1222.0zM891.6 202.9H899.6V211.2H891.6zM883.5 219.6H891.6V261.4H883.5zM899.6 278.1H923.8V286.5H899.6zM891.6 286.5H899.6V294.8H891.6zM1230.1 311.5H1238.1V328.3H1230.1zM923.8 319.9H931.9V328.3H923.8zM956.0 336.6H964.1V345.0H956.0zM1238.1 386.8H1246.2V478.7H1238.1zM859.3 395.1H867.4V403.5H859.3zM867.4 420.2H891.6V428.6H867.4zM891.6 436.9H899.6V453.6H891.6zM1246.2 436.9H1254.3V453.6H1246.2zM1254.3 445.3H1262.3V453.6H1254.3zM827.1 487.1H835.1V495.4H827.1zM1181.7 487.1H1189.8V495.4H1181.7z"/><path fill="#4852f4" d="M891.6 211.2H899.6V219.6H891.6zM859.3 244.7H867.4V269.7H859.3zM964.1 244.7H972.2V269.7H964.1zM1222.0 244.7H1230.1V269.7H1222.0zM891.6 278.1H899.6V286.5H891.6zM899.6 286.5H923.8V294.8H899.6zM923.8 328.3H931.9V336.6H923.8zM1230.1 328.3H1238.1V345.0H1230.1zM956.0 345.0H964.1V353.3H956.0zM931.9 353.3H948.0V361.7H931.9zM948.0 361.7H956.0V370.0H948.0zM859.3 378.4H867.4V395.1H859.3zM899.6 420.2H907.7V428.6H899.6zM907.7 428.6H915.7V436.9H907.7zM1222.0 436.9H1238.1V462.0H1222.0zM1197.8 445.3H1222.0V453.6H1197.8zM835.1 487.1H859.3V495.4H835.1zM931.9 503.8H948.0V512.1H931.9zM1125.3 503.8H1133.4V512.1H1125.3zM972.2 520.5H980.2V528.9H972.2zM1101.1 520.5H1109.2V528.9H1101.1z"/><path fill="#4758f8" d="M891.6 219.6H899.6V227.9H891.6zM859.3 269.7H867.4V286.5H859.3zM891.6 269.7H899.6V278.1H891.6zM964.1 269.7H972.2V286.5H964.1zM1222.0 269.7H1230.1V286.5H1222.0zM899.6 294.8H907.7V303.2H899.6zM1230.1 345.0H1238.1V361.7H1230.1zM859.3 361.7H867.4V378.4H859.3zM859.3 403.5H867.4V411.8H859.3zM899.6 411.8H907.7V420.2H899.6zM867.4 428.6H891.6V436.9H867.4zM1222.0 428.6H1238.1V436.9H1222.0zM1214.0 436.9H1222.0V445.3H1214.0zM1214.0 453.6H1222.0V462.0H1214.0zM883.5 495.4H891.6V503.8H883.5zM1157.5 495.4H1165.6V503.8H1157.5z"/><path fill="#465efb" d="M891.6 227.9H899.6V236.3H891.6zM891.6 253.0H899.6V269.7H891.6zM859.3 286.5H867.4V303.2H859.3zM964.1 286.5H972.2V303.2H964.1zM1222.0 286.5H1230.1V303.2H1222.0zM907.7 294.8H923.8V303.2H907.7zM899.6 303.2H907.7V311.5H899.6zM923.8 336.6H931.9V345.0H923.8zM859.3 345.0H867.4V361.7H859.3zM956.0 353.3H964.1V361.7H956.0zM931.9 361.7H948.0V370.0H931.9zM1230.1 361.7H1238.1V378.4H1230.1zM948.0 370.0H956.0V378.4H948.0zM899.6 403.5H907.7V411.8H899.6zM859.3 411.8H867.4V420.2H859.3zM1222.0 411.8H1238.1V428.6H1222.0zM907.7 420.2H915.7V428.6H907.7zM1214.0 428.6H1222.0V436.9H1214.0zM867.4 436.9H891.6V445.3H867.4zM1197.8 436.9H1214.0V445.3H1197.8zM899.6 453.6H915.7V462.0H899.6zM1197.8 453.6H1214.0V462.0H1197.8zM1222.0 462.0H1238.1V470.4H1222.0zM811.0 478.7H819.0V487.1H811.0zM1222.0 478.7H1238.1V487.1H1222.0zM859.3 487.1H875.4V495.4H859.3zM1004.4 553.9H1012.5V562.3H1004.4z"/><path fill="#4563fd" d="M891.6 236.3H899.6V253.0H891.6zM859.3 303.2H867.4V345.0H859.3zM964.1 303.2H972.2V328.3H964.1zM1222.0 303.2H1230.1V328.3H1222.0zM899.6 311.5H907.7V328.3H899.6zM923.8 345.0H931.9V353.3H923.8zM1230.1 378.4H1238.1V395.1H1230.1zM1222.0 403.5H1238.1V411.8H1222.0zM859.3 420.2H867.4V428.6H859.3zM867.4 445.3H891.6V453.6H867.4zM1222.0 470.4H1238.1V478.7H1222.0zM1173.7 487.1H1181.7V495.4H1173.7z"/><path fill="#4269fe" d="M972.2 136.0H980.2V261.4H972.2zM1205.9 136.0H1222.0V161.1H1205.9zM1214.0 161.1H1222.0V261.4H1214.0zM907.7 303.2H923.8V311.5H907.7zM899.6 328.3H907.7V403.5H899.6zM964.1 328.3H972.2V336.6H964.1zM1222.0 328.3H1230.1V403.5H1222.0zM956.0 361.7H964.1V370.0H956.0zM948.0 378.4H956.0V386.8H948.0zM1230.1 395.1H1238.1V403.5H1230.1zM907.7 411.8H915.7V420.2H907.7zM1214.0 420.2H1222.0V428.6H1214.0zM1197.8 428.6H1214.0V436.9H1197.8zM915.7 445.3H923.8V453.6H915.7zM1189.8 445.3H1197.8V453.6H1189.8zM1214.0 462.0H1222.0V470.4H1214.0zM891.6 495.4H899.6V503.8H891.6zM1149.5 495.4H1157.5V503.8H1149.5z"/><path fill="#3e6fff" d="M1205.9 161.1H1214.0V186.2H1205.9zM972.2 261.4H980.2V278.1H972.2zM1214.0 261.4H1222.0V278.1H1214.0zM964.1 336.6H972.2V345.0H964.1zM923.8 353.3H931.9V361.7H923.8zM931.9 370.0H948.0V378.4H931.9zM1214.0 411.8H1222.0V420.2H1214.0zM859.3 428.6H867.4V436.9H859.3zM915.7 436.9H923.8V445.3H915.7zM891.6 453.6H899.6V462.0H891.6zM811.0 470.4H819.0V478.7H811.0zM875.4 487.1H883.5V495.4H875.4zM956.0 512.1H964.1V520.5H956.0zM1109.2 512.1H1117.2V520.5H1109.2zM996.3 537.2H1004.4V545.6H996.3zM1076.9 537.2H1085.0V545.6H1076.9z"/><path fill="#3875fe" d="M1205.9 186.2H1214.0V211.2H1205.9zM972.2 278.1H980.2V303.2H972.2zM1214.0 278.1H1222.0V303.2H1214.0zM907.7 311.5H923.8V319.9H907.7zM964.1 345.0H972.2V353.3H964.1zM923.8 361.7H931.9V370.0H923.8zM956.0 370.0H964.1V378.4H956.0zM948.0 386.8H956.0V395.1H948.0zM907.7 403.5H915.7V411.8H907.7zM1197.8 420.2H1214.0V428.6H1197.8zM859.3 436.9H867.4V445.3H859.3zM1189.8 436.9H1197.8V445.3H1189.8zM1189.8 453.6H1197.8V462.0H1189.8zM1197.8 462.0H1214.0V470.4H1197.8zM1214.0 470.4H1222.0V487.1H1214.0zM1165.6 487.1H1173.7V495.4H1165.6zM1117.2 503.8H1125.3V512.1H1117.2zM988.3 528.9H996.3V537.2H988.3zM1085.0 528.9H1093.1V537.2H1085.0zM1068.9 553.9H1076.9V562.3H1068.9z"/><path fill="#327cfc" d="M1205.9 211.2H1214.0V236.3H1205.9zM972.2 303.2H980.2V319.9H972.2zM1214.0 303.2H1222.0V319.9H1214.0zM907.7 319.9H923.8V328.3H907.7zM964.1 353.3H972.2V361.7H964.1zM931.9 378.4H948.0V386.8H931.9zM948.0 395.1H956.0V403.5H948.0zM1214.0 403.5H1222.0V411.8H1214.0zM915.7 428.6H923.8V436.9H915.7zM948.0 503.8H956.0V512.1H948.0zM980.2 520.5H988.3V528.9H980.2z"/><path fill="#2f81fa" d="M851.3 227.9H859.3V253.0H851.3zM1205.9 236.3H1214.0V261.4H1205.9zM972.2 319.9H980.2V328.3H972.2zM1214.0 319.9H1222.0V403.5H1214.0zM907.7 328.3H923.8V336.6H907.7zM907.7 336.6H915.7V403.5H907.7zM964.1 361.7H972.2V370.0H964.1zM923.8 370.0H931.9V378.4H923.8zM956.0 378.4H964.1V386.8H956.0zM851.3 395.1H859.3V453.6H851.3zM948.0 403.5H956.0V411.8H948.0zM1197.8 411.8H1214.0V420.2H1197.8zM915.7 420.2H923.8V428.6H915.7zM1189.8 428.6H1197.8V436.9H1189.8zM859.3 445.3H867.4V453.6H859.3zM867.4 453.6H891.6V462.0H867.4zM811.0 462.0H819.0V470.4H811.0zM1189.8 462.0H1197.8V470.4H1189.8zM899.6 495.4H915.7V503.8H899.6zM1141.4 495.4H1149.5V503.8H1141.4zM964.1 512.1H972.2V520.5H964.1zM1093.1 520.5H1101.1V528.9H1093.1z"/><path fill="#2e87f7" d="M851.3 202.9H859.3V227.9H851.3zM851.3 253.0H859.3V261.4H851.3zM1205.9 261.4H1214.0V278.1H1205.9zM972.2 328.3H980.2V345.0H972.2zM915.7 336.6H923.8V353.3H915.7zM964.1 370.0H972.2V378.4H964.1zM923.8 378.4H931.9V386.8H923.8zM851.3 386.8H859.3V395.1H851.3zM931.9 386.8H948.0V395.1H931.9zM915.7 411.8H923.8V420.2H915.7zM948.0 411.8H956.0V420.2H948.0zM915.7 453.6H923.8V462.0H915.7zM1197.8 470.4H1214.0V487.1H1197.8zM819.0 478.7H827.1V487.1H819.0zM1189.8 478.7H1197.8V487.1H1189.8zM1157.5 487.1H1165.6V495.4H1157.5zM1004.4 545.6H1012.5V553.9H1004.4z"/><path fill="#2d8cf3" d="M851.3 177.8H859.3V202.9H851.3zM851.3 261.4H859.3V269.7H851.3zM1205.9 278.1H1214.0V294.8H1205.9zM972.2 345.0H980.2V353.3H972.2zM915.7 353.3H923.8V370.0H915.7zM851.3 378.4H859.3V386.8H851.3zM964.1 378.4H972.2V386.8H964.1zM923.8 386.8H931.9V395.1H923.8zM956.0 386.8H964.1V395.1H956.0zM1197.8 403.5H1214.0V411.8H1197.8zM948.0 420.2H956.0V436.9H948.0zM1189.8 420.2H1197.8V428.6H1189.8zM811.0 453.6H819.0V462.0H811.0zM899.6 462.0H915.7V470.4H899.6zM1189.8 470.4H1197.8V478.7H1189.8zM883.5 487.1H891.6V495.4H883.5zM1068.9 545.6H1076.9V553.9H1068.9z"/><path fill="#2b91ef" d="M851.3 152.7H859.3V177.8H851.3zM851.3 269.7H859.3V278.1H851.3zM1205.9 294.8H1214.0V319.9H1205.9zM972.2 353.3H980.2V361.7H972.2zM851.3 370.0H859.3V378.4H851.3zM915.7 370.0H923.8V395.1H915.7zM964.1 386.8H972.2V395.1H964.1zM915.7 403.5H923.8V411.8H915.7zM948.0 436.9H956.0V445.3H948.0zM851.3 453.6H859.3V462.0H851.3zM915.7 495.4H931.9V503.8H915.7zM1133.4 495.4H1141.4V503.8H1133.4z"/><path fill="#2797eb" d="M851.3 136.0H859.3V152.7H851.3zM980.2 136.0H996.3V152.7H980.2zM1189.8 136.0H1205.9V253.0H1189.8zM980.2 152.7H988.3V336.6H980.2zM811.0 244.7H819.0V453.6H811.0zM1197.8 253.0H1205.9V403.5H1197.8zM851.3 278.1H859.3V294.8H851.3zM988.3 319.9H996.3V336.6H988.3zM1205.9 319.9H1214.0V403.5H1205.9zM851.3 361.7H859.3V370.0H851.3zM972.2 361.7H980.2V370.0H972.2zM915.7 395.1H948.0V403.5H915.7zM956.0 395.1H972.2V403.5H956.0zM923.8 403.5H948.0V453.6H923.8zM1189.8 411.8H1197.8V420.2H1189.8zM948.0 445.3H956.0V453.6H948.0zM859.3 453.6H867.4V462.0H859.3zM891.6 462.0H899.6V470.4H891.6zM972.2 512.1H980.2V520.5H972.2zM1101.1 512.1H1109.2V520.5H1101.1z"/><path fill="#259be8" d="M1101.1 136.0H1109.2V144.4H1101.1zM988.3 152.7H996.3V177.8H988.3zM811.0 236.3H819.0V244.7H811.0zM1189.8 253.0H1197.8V261.4H1189.8zM851.3 294.8H859.3V303.2H851.3zM988.3 294.8H996.3V319.9H988.3zM980.2 336.6H996.3V353.3H980.2zM851.3 353.3H859.3V361.7H851.3zM972.2 370.0H980.2V378.4H972.2zM956.0 403.5H972.2V411.8H956.0zM956.0 411.8H964.1V420.2H956.0zM827.1 478.7H835.1V487.1H827.1zM1181.7 478.7H1189.8V487.1H1181.7zM891.6 487.1H899.6V495.4H891.6zM1149.5 487.1H1157.5V495.4H1149.5zM956.0 503.8H964.1V512.1H956.0zM1109.2 503.8H1117.2V512.1H1109.2z"/><path fill="#23a0e5" d="M988.3 177.8H996.3V202.9H988.3zM1189.8 261.4H1197.8V269.7H1189.8zM988.3 278.1H996.3V294.8H988.3zM851.3 303.2H859.3V311.5H851.3zM851.3 345.0H859.3V353.3H851.3zM980.2 353.3H996.3V370.0H980.2zM972.2 378.4H980.2V386.8H972.2zM956.0 420.2H964.1V428.6H956.0zM851.3 462.0H859.3V470.4H851.3zM867.4 462.0H891.6V470.4H867.4zM931.9 495.4H948.0V503.8H931.9zM1125.3 495.4H1133.4V503.8H1125.3zM988.3 520.5H996.3V528.9H988.3zM996.3 528.9H1004.4V537.2H996.3zM1076.9 528.9H1085.0V537.2H1076.9z"/><path fill="#20a5e3" d="M1101.1 144.4H1109.2V152.7H1101.1zM988.3 202.9H996.3V227.9H988.3zM988.3 261.4H996.3V278.1H988.3zM1189.8 269.7H1197.8V278.1H1189.8zM851.3 311.5H859.3V319.9H851.3zM851.3 328.3H859.3V345.0H851.3zM980.2 370.0H996.3V386.8H980.2zM972.2 386.8H980.2V395.1H972.2zM1189.8 403.5H1197.8V411.8H1189.8zM964.1 411.8H972.2V420.2H964.1zM956.0 428.6H964.1V445.3H956.0zM819.0 470.4H827.1V478.7H819.0zM1085.0 520.5H1093.1V528.9H1085.0zM1012.5 553.9H1020.5V562.3H1012.5z"/><path fill="#1ca9df" d="M811.0 227.9H819.0V236.3H811.0zM988.3 227.9H996.3V261.4H988.3zM819.0 236.3H827.1V253.0H819.0zM1181.7 236.3H1189.8V253.0H1181.7zM1189.8 278.1H1197.8V286.5H1189.8zM851.3 319.9H859.3V328.3H851.3zM980.2 386.8H996.3V403.5H980.2zM972.2 395.1H980.2V403.5H972.2zM1181.7 395.1H1197.8V403.5H1181.7zM1181.7 403.5H1189.8V478.7H1181.7zM964.1 420.2H972.2V428.6H964.1zM843.2 445.3H851.3V453.6H843.2zM956.0 445.3H964.1V453.6H956.0zM923.8 453.6H956.0V462.0H923.8zM859.3 462.0H867.4V470.4H859.3zM915.7 462.0H923.8V470.4H915.7zM899.6 487.1H915.7V495.4H899.6zM1141.4 487.1H1149.5V495.4H1141.4zM1117.2 495.4H1125.3V503.8H1117.2zM1004.4 537.2H1012.5V545.6H1004.4zM1068.9 537.2H1076.9V545.6H1068.9z"/><path fill="#18addb" d="M996.3 136.0H1004.4V152.7H996.3zM819.0 211.2H827.1V236.3H819.0zM1181.7 211.2H1189.8V236.3H1181.7zM819.0 253.0H827.1V269.7H819.0zM1181.7 253.0H1189.8V269.7H1181.7zM1189.8 286.5H1197.8V294.8H1189.8zM1181.7 378.4H1197.8V395.1H1181.7zM972.2 403.5H996.3V411.8H972.2zM964.1 428.6H972.2V436.9H964.1zM843.2 436.9H851.3V445.3H843.2zM843.2 453.6H851.3V462.0H843.2zM835.1 478.7H859.3V487.1H835.1zM1173.7 478.7H1181.7V487.1H1173.7zM964.1 503.8H972.2V512.1H964.1zM980.2 512.1H988.3V520.5H980.2z"/><path fill="#12b1d6" d="M996.3 152.7H1004.4V169.4H996.3zM1101.1 152.7H1109.2V161.1H1101.1zM819.0 186.2H827.1V211.2H819.0zM1181.7 186.2H1189.8V211.2H1181.7zM811.0 219.6H819.0V227.9H811.0zM819.0 269.7H827.1V286.5H819.0zM1181.7 269.7H1189.8V286.5H1181.7zM1189.8 294.8H1197.8V311.5H1189.8zM1181.7 361.7H1197.8V378.4H1181.7zM843.2 420.2H851.3V436.9H843.2zM819.0 462.0H827.1V470.4H819.0zM843.2 462.0H851.3V470.4H843.2zM827.1 470.4H835.1V478.7H827.1zM851.3 470.4H859.3V478.7H851.3zM899.6 470.4H915.7V478.7H899.6zM1157.5 478.7H1173.7V487.1H1157.5z"/><path fill="#08b5d0" d="M819.0 161.1H827.1V186.2H819.0zM1181.7 161.1H1189.8V186.2H1181.7zM996.3 169.4H1004.4V177.8H996.3zM819.0 286.5H827.1V311.5H819.0zM1181.7 286.5H1189.8V311.5H1181.7zM1189.8 311.5H1197.8V319.9H1189.8zM1181.7 345.0H1197.8V361.7H1181.7zM843.2 411.8H851.3V420.2H843.2zM972.2 411.8H996.3V420.2H972.2zM964.1 436.9H972.2V445.3H964.1zM956.0 453.6H964.1V462.0H956.0zM843.2 470.4H851.3V478.7H843.2zM891.6 470.4H899.6V478.7H891.6zM948.0 495.4H956.0V503.8H948.0z"/><path fill="#01b8ca" d="M819.0 136.0H827.1V161.1H819.0zM843.2 136.0H851.3V244.7H843.2zM1173.7 136.0H1189.8V161.1H1173.7zM1101.1 161.1H1109.2V169.4H1101.1zM1173.7 161.1H1181.7V244.7H1173.7zM996.3 177.8H1004.4V194.5H996.3zM811.0 211.2H819.0V219.6H811.0zM1028.6 244.7H1036.6V328.3H1028.6zM819.0 311.5H827.1V328.3H819.0zM1181.7 311.5H1189.8V345.0H1181.7zM1189.8 319.9H1197.8V345.0H1189.8zM843.2 395.1H851.3V411.8H843.2zM1173.7 395.1H1181.7V478.7H1173.7zM972.2 420.2H996.3V428.6H972.2zM964.1 445.3H972.2V453.6H964.1zM835.1 453.6H843.2V478.7H835.1zM827.1 462.0H835.1V470.4H827.1zM923.8 462.0H956.0V470.4H923.8zM867.4 470.4H891.6V478.7H867.4zM859.3 478.7H875.4V487.1H859.3zM915.7 487.1H931.9V495.4H915.7zM1133.4 487.1H1141.4V495.4H1133.4zM972.2 503.8H980.2V512.1H972.2zM1101.1 503.8H1109.2V512.1H1101.1zM1093.1 512.1H1101.1V520.5H1093.1z"/><path fill="#02bac3" d="M996.3 194.5H1004.4V202.9H996.3zM827.1 244.7H835.1V269.7H827.1zM843.2 244.7H851.3V269.7H843.2zM1173.7 244.7H1181.7V269.7H1173.7zM819.0 328.3H827.1V345.0H819.0zM1028.6 328.3H1036.6V345.0H1028.6zM843.2 378.4H851.3V395.1H843.2zM1173.7 378.4H1181.7V395.1H1173.7zM835.1 436.9H843.2V453.6H835.1zM1012.5 445.3H1020.5V453.6H1012.5zM859.3 470.4H867.4V478.7H859.3zM1157.5 470.4H1173.7V478.7H1157.5zM875.4 478.7H883.5V487.1H875.4zM956.0 495.4H964.1V503.8H956.0zM1109.2 495.4H1117.2V503.8H1109.2zM988.3 512.1H996.3V520.5H988.3zM996.3 520.5H1004.4V528.9H996.3z"/><path fill="#0bbdbd" d="M1101.1 169.4H1109.2V177.8H1101.1zM811.0 202.9H819.0V211.2H811.0zM996.3 202.9H1004.4V219.6H996.3zM827.1 236.3H835.1V244.7H827.1zM1028.6 236.3H1036.6V244.7H1028.6zM827.1 269.7H835.1V286.5H827.1zM843.2 269.7H851.3V286.5H843.2zM1173.7 269.7H1181.7V286.5H1173.7zM819.0 345.0H827.1V361.7H819.0zM1028.6 345.0H1036.6V361.7H1028.6zM843.2 361.7H851.3V378.4H843.2zM1173.7 361.7H1181.7V378.4H1173.7zM835.1 428.6H843.2V436.9H835.1zM972.2 428.6H996.3V436.9H972.2zM819.0 453.6H827.1V462.0H819.0zM1157.5 462.0H1173.7V470.4H1157.5zM883.5 478.7H899.6V487.1H883.5zM1149.5 478.7H1157.5V487.1H1149.5zM1076.9 520.5H1085.0V528.9H1076.9zM1012.5 545.6H1020.5V553.9H1012.5zM1060.8 553.9H1068.9V562.3H1060.8z"/><path fill="#19bfb6" d="M996.3 219.6H1004.4V227.9H996.3zM827.1 286.5H835.1V303.2H827.1zM843.2 286.5H851.3V303.2H843.2zM1173.7 286.5H1181.7V303.2H1173.7zM843.2 345.0H851.3V361.7H843.2zM1173.7 345.0H1181.7V361.7H1173.7zM819.0 361.7H827.1V378.4H819.0zM1028.6 361.7H1036.6V378.4H1028.6zM835.1 411.8H843.2V428.6H835.1zM972.2 436.9H996.3V445.3H972.2zM1012.5 436.9H1020.5V445.3H1012.5zM827.1 453.6H835.1V462.0H827.1zM964.1 453.6H972.2V462.0H964.1zM956.0 462.0H964.1V470.4H956.0zM915.7 470.4H923.8V478.7H915.7zM899.6 478.7H915.7V487.1H899.6zM1141.4 478.7H1149.5V487.1H1141.4zM931.9 487.1H948.0V495.4H931.9zM1125.3 487.1H1133.4V495.4H1125.3zM1004.4 528.9H1012.5V537.2H1004.4zM1068.9 528.9H1076.9V537.2H1068.9z"/><path fill="#24c1ae" d="M1101.1 177.8H1109.2V186.2H1101.1zM827.1 227.9H835.1V236.3H827.1zM996.3 227.9H1004.4V244.7H996.3zM1028.6 227.9H1036.6V236.3H1028.6zM827.1 303.2H835.1V328.3H827.1zM843.2 303.2H851.3V345.0H843.2zM1173.7 303.2H1181.7V345.0H1173.7zM819.0 378.4H827.1V395.1H819.0zM1028.6 378.4H1036.6V395.1H1028.6zM835.1 403.5H843.2V411.8H835.1zM972.2 445.3H996.3V453.6H972.2zM1012.5 453.6H1020.5V462.0H1012.5zM1157.5 453.6H1173.7V462.0H1157.5zM1117.2 487.1H1125.3V495.4H1117.2zM980.2 503.8H988.3V512.1H980.2z"/><path fill="#2cc4a7" d="M835.1 136.0H843.2V261.4H835.1zM1052.8 136.0H1060.8V161.1H1052.8zM1085.0 136.0H1101.1V144.4H1085.0zM1157.5 136.0H1173.7V453.6H1157.5zM811.0 194.5H819.0V202.9H811.0zM827.1 219.6H835.1V227.9H827.1zM1028.6 219.6H1036.6V227.9H1028.6zM996.3 244.7H1004.4V336.6H996.3zM827.1 328.3H835.1V345.0H827.1zM835.1 386.8H843.2V403.5H835.1zM1149.5 386.8H1157.5V478.7H1149.5zM819.0 395.1H827.1V453.6H819.0zM1020.5 395.1H1036.6V403.5H1020.5zM1012.5 428.6H1020.5V436.9H1012.5zM827.1 436.9H835.1V453.6H827.1zM923.8 470.4H956.0V478.7H923.8zM964.1 495.4H972.2V503.8H964.1zM1085.0 512.1H1093.1V520.5H1085.0z"/><path fill="#31c69f" d="M1085.0 144.4H1101.1V152.7H1085.0zM1052.8 161.1H1060.8V186.2H1052.8zM835.1 261.4H843.2V278.1H835.1zM996.3 336.6H1004.4V345.0H996.3zM827.1 345.0H835.1V361.7H827.1zM835.1 370.0H843.2V386.8H835.1zM1149.5 370.0H1157.5V386.8H1149.5zM827.1 428.6H835.1V436.9H827.1zM956.0 470.4H964.1V478.7H956.0zM1141.4 470.4H1149.5V478.7H1141.4zM948.0 487.1H964.1V495.4H948.0zM972.2 495.4H980.2V503.8H972.2zM1101.1 495.4H1109.2V503.8H1101.1zM996.3 512.1H1004.4V520.5H996.3z"/><path fill="#37c897" d="M1085.0 152.7H1101.1V161.1H1085.0zM811.0 186.2H819.0V194.5H811.0zM1052.8 186.2H1060.8V211.2H1052.8zM1101.1 186.2H1109.2V194.5H1101.1zM827.1 211.2H835.1V219.6H827.1zM1028.6 211.2H1036.6V219.6H1028.6zM835.1 278.1H843.2V303.2H835.1zM996.3 345.0H1004.4V353.3H996.3zM835.1 353.3H843.2V370.0H835.1zM1149.5 353.3H1157.5V370.0H1149.5zM827.1 361.7H835.1V378.4H827.1zM1020.5 386.8H1028.6V395.1H1020.5zM1020.5 403.5H1036.6V411.8H1020.5zM827.1 420.2H835.1V428.6H827.1zM1012.5 420.2H1020.5V428.6H1012.5zM972.2 453.6H996.3V462.0H972.2zM964.1 462.0H972.2V470.4H964.1zM1141.4 462.0H1149.5V470.4H1141.4zM915.7 478.7H931.9V487.1H915.7zM1020.5 478.7H1028.6V487.1H1020.5zM1133.4 478.7H1141.4V487.1H1133.4zM988.3 503.8H996.3V512.1H988.3zM1093.1 503.8H1101.1V512.1H1093.1zM1012.5 537.2H1020.5V545.6H1012.5zM1060.8 545.6H1068.9V553.9H1060.8z"/><path fill="#3fca8e" d="M1085.0 161.1H1101.1V169.4H1085.0zM1052.8 211.2H1060.8V236.3H1052.8zM835.1 303.2H843.2V319.9H835.1zM835.1 328.3H843.2V353.3H835.1zM1149.5 328.3H1157.5V353.3H1149.5zM996.3 353.3H1004.4V361.7H996.3zM827.1 378.4H835.1V395.1H827.1zM827.1 403.5H835.1V420.2H827.1zM1141.4 453.6H1149.5V462.0H1141.4zM1020.5 470.4H1028.6V478.7H1020.5zM931.9 478.7H964.1V487.1H931.9zM1125.3 478.7H1133.4V487.1H1125.3zM1004.4 520.5H1012.5V528.9H1004.4z"/><path fill="#4acb84" d="M1004.4 136.0H1012.5V152.7H1004.4zM1085.0 169.4H1101.1V177.8H1085.0zM811.0 177.8H819.0V186.2H811.0zM1101.1 194.5H1109.2V202.9H1101.1zM827.1 202.9H835.1V211.2H827.1zM1028.6 202.9H1036.6V211.2H1028.6zM1149.5 227.9H1157.5V328.3H1149.5zM1052.8 236.3H1060.8V261.4H1052.8zM1004.4 311.5H1012.5V328.3H1004.4zM1141.4 311.5H1149.5V453.6H1141.4zM835.1 319.9H843.2V328.3H835.1zM1012.5 319.9H1020.5V336.6H1012.5zM1060.8 319.9H1068.9V328.3H1060.8zM996.3 361.7H1004.4V370.0H996.3zM1020.5 378.4H1028.6V386.8H1020.5zM1133.4 386.8H1141.4V411.8H1133.4zM827.1 395.1H835.1V403.5H827.1zM1012.5 411.8H1020.5V420.2H1012.5zM972.2 462.0H996.3V470.4H972.2zM1012.5 462.0H1020.5V470.4H1012.5zM1109.2 487.1H1117.2V495.4H1109.2zM1068.9 520.5H1076.9V528.9H1068.9z"/><path fill="#57cc7a" d="M1004.4 152.7H1012.5V177.8H1004.4zM1085.0 177.8H1101.1V186.2H1085.0zM1149.5 202.9H1157.5V227.9H1149.5zM1052.8 261.4H1060.8V278.1H1052.8zM1004.4 294.8H1012.5V311.5H1004.4zM1141.4 294.8H1149.5V311.5H1141.4zM1012.5 311.5H1020.5V319.9H1012.5zM1004.4 328.3H1012.5V345.0H1004.4zM1060.8 328.3H1068.9V345.0H1060.8zM1012.5 336.6H1020.5V353.3H1012.5zM996.3 370.0H1004.4V378.4H996.3zM1133.4 370.0H1141.4V386.8H1133.4zM1020.5 411.8H1036.6V420.2H1020.5zM1133.4 411.8H1141.4V420.2H1133.4zM964.1 470.4H972.2V478.7H964.1zM1133.4 470.4H1141.4V478.7H1133.4zM964.1 487.1H980.2V495.4H964.1zM980.2 495.4H988.3V503.8H980.2zM1076.9 512.1H1085.0V520.5H1076.9zM1060.8 537.2H1068.9V545.6H1060.8z"/><path fill="#64cd6f" d="M811.0 169.4H819.0V177.8H811.0zM1004.4 177.8H1012.5V202.9H1004.4zM1149.5 177.8H1157.5V202.9H1149.5zM1085.0 186.2H1101.1V194.5H1085.0zM827.1 194.5H835.1V202.9H827.1zM1028.6 194.5H1036.6V202.9H1028.6zM1101.1 202.9H1109.2V211.2H1101.1zM1004.4 278.1H1012.5V294.8H1004.4zM1052.8 278.1H1060.8V294.8H1052.8zM1141.4 278.1H1149.5V294.8H1141.4zM1012.5 303.2H1020.5V311.5H1012.5zM1060.8 311.5H1068.9V319.9H1060.8zM1004.4 345.0H1012.5V353.3H1004.4zM1060.8 345.0H1068.9V353.3H1060.8zM1012.5 353.3H1020.5V370.0H1012.5zM1133.4 353.3H1141.4V370.0H1133.4zM1020.5 370.0H1028.6V378.4H1020.5zM996.3 378.4H1004.4V386.8H996.3zM1012.5 403.5H1020.5V411.8H1012.5zM1133.4 420.2H1141.4V436.9H1133.4zM1133.4 462.0H1141.4V470.4H1133.4zM972.2 470.4H996.3V478.7H972.2zM1125.3 470.4H1133.4V478.7H1125.3zM1117.2 478.7H1125.3V487.1H1117.2zM988.3 495.4H996.3V503.8H988.3zM1093.1 495.4H1101.1V503.8H1093.1zM996.3 503.8H1004.4V512.1H996.3zM1085.0 503.8H1093.1V512.1H1085.0zM1004.4 512.1H1012.5V520.5H1004.4zM1020.5 553.9H1028.6V562.3H1020.5z"/><path fill="#72cd64" d="M1149.5 152.7H1157.5V177.8H1149.5zM1085.0 194.5H1101.1V202.9H1085.0zM1004.4 202.9H1012.5V236.3H1004.4zM1004.4 253.0H1012.5V278.1H1004.4zM1141.4 253.0H1149.5V278.1H1141.4zM1012.5 294.8H1020.5V303.2H1012.5zM1052.8 294.8H1060.8V319.9H1052.8zM1133.4 336.6H1141.4V353.3H1133.4zM1004.4 353.3H1012.5V361.7H1004.4zM1060.8 353.3H1068.9V361.7H1060.8zM1020.5 361.7H1028.6V370.0H1020.5zM1012.5 370.0H1020.5V395.1H1012.5zM996.3 386.8H1004.4V395.1H996.3zM1020.5 420.2H1036.6V428.6H1020.5zM1133.4 436.9H1141.4V445.3H1133.4zM1133.4 453.6H1141.4V462.0H1133.4zM964.1 478.7H980.2V487.1H964.1zM1012.5 528.9H1020.5V537.2H1012.5zM1060.8 528.9H1068.9V537.2H1060.8z"/><path fill="#81cc59" d="M1012.5 136.0H1020.5V152.7H1012.5zM1149.5 136.0H1157.5V152.7H1149.5zM827.1 186.2H835.1V194.5H827.1zM1028.6 186.2H1036.6V194.5H1028.6zM1085.0 202.9H1101.1V211.2H1085.0zM1101.1 211.2H1109.2V219.6H1101.1zM1004.4 236.3H1012.5V253.0H1004.4zM1141.4 236.3H1149.5V253.0H1141.4zM1012.5 278.1H1020.5V294.8H1012.5zM1060.8 303.2H1068.9V311.5H1060.8zM1052.8 319.9H1060.8V336.6H1052.8zM1133.4 319.9H1141.4V336.6H1133.4zM1004.4 361.7H1012.5V370.0H1004.4zM1060.8 361.7H1068.9V370.0H1060.8zM996.3 395.1H1004.4V478.7H996.3zM1012.5 395.1H1020.5V403.5H1012.5zM1004.4 445.3H1012.5V453.6H1004.4zM1133.4 445.3H1141.4V453.6H1133.4zM1020.5 462.0H1028.6V470.4H1020.5zM1125.3 462.0H1133.4V470.4H1125.3zM980.2 478.7H996.3V495.4H980.2zM1101.1 487.1H1109.2V495.4H1101.1z"/><path fill="#8fcb4e" d="M1012.5 152.7H1020.5V177.8H1012.5zM811.0 161.1H819.0V169.4H811.0zM1141.4 202.9H1149.5V236.3H1141.4zM1085.0 211.2H1101.1V219.6H1085.0zM1012.5 269.7H1020.5V278.1H1012.5zM1060.8 294.8H1068.9V303.2H1060.8zM1133.4 294.8H1141.4V319.9H1133.4zM1052.8 336.6H1060.8V353.3H1052.8zM1020.5 353.3H1028.6V361.7H1020.5zM1004.4 370.0H1012.5V378.4H1004.4zM1060.8 370.0H1068.9V378.4H1060.8zM1004.4 436.9H1012.5V445.3H1004.4zM1004.4 453.6H1012.5V462.0H1004.4zM1012.5 470.4H1020.5V478.7H1012.5zM1117.2 470.4H1125.3V478.7H1117.2zM996.3 478.7H1004.4V487.1H996.3zM1004.4 503.8H1012.5V512.1H1004.4zM1076.9 503.8H1085.0V512.1H1076.9zM1012.5 520.5H1020.5V528.9H1012.5z"/><path fill="#9dc943" d="M827.1 177.8H835.1V186.2H827.1zM1012.5 177.8H1020.5V202.9H1012.5zM1028.6 177.8H1036.6V186.2H1028.6zM1141.4 177.8H1149.5V202.9H1141.4zM1085.0 219.6H1109.2V227.9H1085.0zM1012.5 261.4H1020.5V269.7H1012.5zM1133.4 278.1H1141.4V294.8H1133.4zM1052.8 353.3H1060.8V370.0H1052.8zM1004.4 378.4H1012.5V386.8H1004.4zM1060.8 378.4H1068.9V386.8H1060.8zM1004.4 420.2H1012.5V436.9H1004.4zM1020.5 428.6H1036.6V436.9H1020.5zM1125.3 453.6H1133.4V462.0H1125.3zM1004.4 462.0H1012.5V470.4H1004.4zM1117.2 462.0H1125.3V470.4H1117.2zM996.3 495.4H1004.4V503.8H996.3zM1085.0 495.4H1093.1V503.8H1085.0zM1068.9 512.1H1076.9V520.5H1068.9zM1020.5 545.6H1028.6V553.9H1020.5z"/><path fill="#abc739" d="M811.0 152.7H819.0V161.1H811.0zM1141.4 152.7H1149.5V177.8H1141.4zM1012.5 202.9H1020.5V227.9H1012.5zM1085.0 227.9H1101.1V236.3H1085.0zM1012.5 253.0H1020.5V261.4H1012.5zM1133.4 261.4H1141.4V278.1H1133.4zM1060.8 286.5H1068.9V294.8H1060.8zM1020.5 345.0H1028.6V353.3H1020.5zM1052.8 370.0H1060.8V386.8H1052.8zM1004.4 386.8H1012.5V395.1H1004.4zM1060.8 386.8H1068.9V395.1H1060.8zM1004.4 411.8H1012.5V420.2H1004.4zM1117.2 453.6H1125.3V462.0H1117.2zM1004.4 470.4H1012.5V478.7H1004.4zM1109.2 478.7H1117.2V487.1H1109.2zM996.3 487.1H1004.4V495.4H996.3zM1020.5 487.1H1028.6V495.4H1020.5zM1093.1 487.1H1101.1V495.4H1093.1zM1004.4 495.4H1012.5V503.8H1004.4zM1076.9 495.4H1085.0V503.8H1076.9zM1012.5 512.1H1020.5V520.5H1012.5zM1060.8 520.5H1068.9V528.9H1060.8z"/><path fill="#b9c431" d="M1020.5 136.0H1028.6V253.0H1020.5zM1044.7 136.0H1052.8V144.4H1044.7zM1141.4 136.0H1149.5V152.7H1141.4zM827.1 169.4H835.1V177.8H827.1zM1028.6 169.4H1036.6V177.8H1028.6zM1012.5 227.9H1020.5V253.0H1012.5zM1085.0 236.3H1101.1V253.0H1085.0zM1133.4 236.3H1141.4V261.4H1133.4zM1036.6 244.7H1044.7V328.3H1036.6zM1044.7 319.9H1052.8V328.3H1044.7zM1068.9 319.9H1085.0V328.3H1068.9zM1109.2 319.9H1133.4V328.3H1109.2zM1052.8 386.8H1060.8V453.6H1052.8zM1004.4 395.1H1012.5V411.8H1004.4zM1060.8 395.1H1068.9V453.6H1060.8zM1117.2 445.3H1133.4V453.6H1117.2zM1004.4 478.7H1012.5V495.4H1004.4z"/><path fill="#c5c22a" d="M811.0 144.4H819.0V152.7H811.0zM1044.7 144.4H1052.8V169.4H1044.7zM1133.4 211.2H1141.4V236.3H1133.4zM1036.6 227.9H1044.7V244.7H1036.6zM1101.1 227.9H1109.2V236.3H1101.1zM1020.5 253.0H1028.6V269.7H1020.5zM1085.0 253.0H1101.1V269.7H1085.0zM1060.8 278.1H1068.9V286.5H1060.8zM1044.7 303.2H1052.8V319.9H1044.7zM1076.9 303.2H1085.0V319.9H1076.9zM1109.2 303.2H1133.4V319.9H1109.2zM1068.9 311.5H1076.9V319.9H1068.9zM1036.6 328.3H1052.8V353.3H1036.6zM1068.9 328.3H1085.0V336.6H1068.9zM1109.2 328.3H1133.4V353.3H1109.2zM1020.5 336.6H1028.6V345.0H1020.5zM1020.5 436.9H1036.6V445.3H1020.5zM1117.2 436.9H1133.4V445.3H1117.2zM1020.5 453.6H1028.6V462.0H1020.5zM1109.2 470.4H1117.2V478.7H1109.2zM1012.5 478.7H1020.5V487.1H1012.5zM1012.5 503.8H1020.5V512.1H1012.5zM1068.9 503.8H1076.9V512.1H1068.9zM1020.5 537.2H1028.6V545.6H1020.5z"/><path fill="#d1bf27" d="M827.1 161.1H835.1V169.4H827.1zM1028.6 161.1H1036.6V169.4H1028.6zM1044.7 169.4H1052.8V194.5H1044.7zM1133.4 186.2H1141.4V211.2H1133.4zM1036.6 219.6H1044.7V227.9H1036.6zM1020.5 269.7H1028.6V286.5H1020.5zM1085.0 269.7H1101.1V286.5H1085.0zM1044.7 278.1H1052.8V303.2H1044.7zM1076.9 278.1H1085.0V303.2H1076.9zM1109.2 278.1H1133.4V303.2H1109.2zM1068.9 303.2H1076.9V311.5H1068.9zM1068.9 336.6H1085.0V345.0H1068.9zM1036.6 353.3H1052.8V370.0H1036.6zM1109.2 353.3H1133.4V370.0H1109.2zM1117.2 420.2H1133.4V436.9H1117.2zM1052.8 453.6H1068.9V462.0H1052.8zM1109.2 462.0H1117.2V470.4H1109.2zM1076.9 487.1H1093.1V495.4H1076.9z"/><path fill="#dcbd29" d="M811.0 136.0H819.0V144.4H811.0zM1133.4 161.1H1141.4V186.2H1133.4zM1044.7 194.5H1052.8V219.6H1044.7zM1036.6 202.9H1044.7V219.6H1036.6zM1101.1 236.3H1109.2V244.7H1101.1zM1044.7 261.4H1052.8V278.1H1044.7zM1076.9 261.4H1085.0V278.1H1076.9zM1109.2 261.4H1133.4V278.1H1109.2zM1060.8 269.7H1068.9V278.1H1060.8zM1020.5 286.5H1028.6V311.5H1020.5zM1085.0 286.5H1101.1V311.5H1085.0zM1068.9 294.8H1076.9V303.2H1068.9zM1020.5 328.3H1028.6V336.6H1020.5zM1068.9 345.0H1085.0V353.3H1068.9zM1036.6 370.0H1052.8V386.8H1036.6zM1109.2 370.0H1133.4V386.8H1109.2zM1117.2 411.8H1133.4V420.2H1117.2zM1109.2 453.6H1117.2V462.0H1109.2zM1093.1 478.7H1109.2V487.1H1093.1zM1012.5 487.1H1020.5V495.4H1012.5zM1060.8 512.1H1068.9V520.5H1060.8z"/><path fill="#e6bb2d" d="M1109.2 136.0H1141.4V161.1H1109.2zM827.1 152.7H835.1V161.1H827.1zM1028.6 152.7H1036.6V161.1H1028.6zM1109.2 161.1H1133.4V261.4H1109.2zM1036.6 186.2H1044.7V202.9H1036.6zM1044.7 219.6H1052.8V261.4H1044.7zM1076.9 244.7H1085.0V261.4H1076.9zM1101.1 244.7H1109.2V403.5H1101.1zM1060.8 261.4H1068.9V269.7H1060.8zM1068.9 286.5H1076.9V294.8H1068.9zM1020.5 311.5H1028.6V328.3H1020.5zM1085.0 311.5H1101.1V328.3H1085.0zM1068.9 353.3H1085.0V361.7H1068.9zM1036.6 386.8H1052.8V403.5H1036.6zM1109.2 386.8H1133.4V411.8H1109.2zM1036.6 403.5H1044.7V453.6H1036.6zM1109.2 411.8H1117.2V453.6H1109.2zM1020.5 445.3H1036.6V453.6H1020.5zM1028.6 453.6H1036.6V478.7H1028.6zM1052.8 462.0H1068.9V470.4H1052.8zM1068.9 478.7H1093.1V487.1H1068.9zM1068.9 487.1H1076.9V503.8H1068.9zM1012.5 495.4H1028.6V503.8H1012.5zM1060.8 495.4H1068.9V512.1H1060.8zM1020.5 503.8H1028.6V537.2H1020.5zM1052.8 512.1H1060.8V562.3H1052.8z"/><path fill="#f0ba36" d="M1036.6 177.8H1044.7V186.2H1036.6zM1076.9 219.6H1085.0V244.7H1076.9zM1068.9 278.1H1076.9V286.5H1068.9zM1085.0 328.3H1101.1V345.0H1085.0zM1068.9 361.7H1085.0V370.0H1068.9zM1044.7 403.5H1052.8V411.8H1044.7zM1101.1 403.5H1109.2V411.8H1101.1zM1036.6 453.6H1044.7V462.0H1036.6zM1068.9 470.4H1109.2V478.7H1068.9zM1028.6 478.7H1036.6V487.1H1028.6z"/><path fill="#f8ba3d" d="M827.1 144.4H835.1V152.7H827.1zM1028.6 144.4H1036.6V152.7H1028.6zM1036.6 161.1H1044.7V177.8H1036.6zM1076.9 194.5H1085.0V219.6H1076.9zM1060.8 253.0H1068.9V261.4H1060.8zM1068.9 269.7H1076.9V278.1H1068.9zM1085.0 345.0H1101.1V361.7H1085.0zM1068.9 370.0H1085.0V378.4H1068.9zM1044.7 411.8H1052.8V428.6H1044.7zM1101.1 411.8H1109.2V428.6H1101.1zM1068.9 462.0H1109.2V470.4H1068.9zM1060.8 487.1H1068.9V495.4H1060.8zM1052.8 503.8H1060.8V512.1H1052.8z"/><path fill="#febe3c" d="M1036.6 152.7H1044.7V161.1H1036.6zM1076.9 161.1H1085.0V194.5H1076.9zM1068.9 253.0H1076.9V269.7H1068.9zM1085.0 361.7H1101.1V378.4H1085.0zM1068.9 378.4H1085.0V395.1H1068.9zM1044.7 428.6H1052.8V436.9H1044.7zM1101.1 428.6H1109.2V436.9H1101.1zM1036.6 462.0H1044.7V470.4H1036.6zM1052.8 470.4H1068.9V478.7H1052.8zM1028.6 487.1H1036.6V495.4H1028.6z"/><path fill="#fec338" d="M827.1 136.0H835.1V144.4H827.1zM1028.6 136.0H1044.7V144.4H1028.6zM1076.9 136.0H1085.0V161.1H1076.9zM1036.6 144.4H1044.7V152.7H1036.6zM1060.8 244.7H1076.9V253.0H1060.8zM1085.0 378.4H1101.1V395.1H1085.0zM1068.9 395.1H1085.0V403.5H1068.9zM1044.7 436.9H1052.8V453.6H1044.7zM1101.1 436.9H1109.2V462.0H1101.1zM1068.9 453.6H1101.1V462.0H1068.9zM1036.6 470.4H1044.7V478.7H1036.6zM1060.8 478.7H1068.9V487.1H1060.8zM1052.8 495.4H1060.8V503.8H1052.8z"/><path fill="#fec934" d="M1060.8 136.0H1076.9V244.7H1060.8zM1085.0 395.1H1101.1V453.6H1085.0zM1068.9 403.5H1085.0V453.6H1068.9zM1044.7 453.6H1052.8V537.2H1044.7zM1036.6 478.7H1044.7V520.5H1036.6zM1052.8 478.7H1060.8V495.4H1052.8zM1028.6 495.4H1036.6V562.3H1028.6z"/><path fill="#fad62c" d="M1036.6 520.5H1044.7V528.9H1036.6z"/><path fill="#f9dc28" d="M1044.7 537.2H1052.8V545.6H1044.7z"/><path fill="#f7e324" d="M1036.6 528.9H1044.7V545.6H1036.6z"/><path fill="#f7e921" d="M1036.6 545.6H1052.8V553.9H1036.6z"/><path fill="#f7f418" d="M1036.6 553.9H1052.8V562.3H1036.6z"/></g></g>
<line x1="762.6" y1="179.0999999999999" x2="1326.8" y2="179.0999999999999" stroke="#fff" stroke-width="3.2" stroke-dasharray="31.5 18.5" clip-path="url(#hc21)"/>
<line x1="762.6" y1="475.4000000000001" x2="1326.8" y2="475.4000000000001" stroke="#fff" stroke-width="3.2" stroke-dasharray="31.5 18.5" clip-path="url(#hc21)"/>
<path d="M843.2 136.0v14.4M843.2 562.3v-14.4M1044.7 136.0v14.4M1044.7 562.3v-14.4M1246.2 136.0v14.4M1246.2 562.3v-14.4M762.6 180.5h14.4M1326.8 180.5h-14.4M762.6 245.4000000000001h14.4M1326.8 245.4000000000001h-14.4M762.6 310.29999999999995h14.4M1326.8 310.29999999999995h-14.4M762.6 375.20000000000005h14.4M1326.8 375.20000000000005h-14.4M762.6 440.0999999999999h14.4M1326.8 440.0999999999999h-14.4M762.6 505.0h14.4M1326.8 505.0h-14.4" stroke="#000" stroke-width="4.8" fill="none"/>
<rect x="762.6" y="136.0" width="564.2" height="426.3" fill="none" stroke="#000" stroke-width="4.9"/>
<text x="843.2" y="606.0" font-size="30.5" text-anchor="middle">600</text>
<text x="1044.7" y="606.0" font-size="30.5" text-anchor="middle">850</text>
<text x="1246.2" y="606.0" font-size="30.5" text-anchor="middle">1100</text>
<text x="1045.3" y="650.0" font-size="29" text-anchor="middle">Wavelength (nm)</text>
<text x="107.6" y="189.2" font-size="30" text-anchor="end">0.6</text>
<text x="107.6" y="254.1" font-size="30" text-anchor="end">0.5</text>
<text x="107.6" y="319.0" font-size="30" text-anchor="end">0.4</text>
<text x="107.6" y="383.9" font-size="30" text-anchor="end">0.3</text>
<text x="107.6" y="448.8" font-size="30" text-anchor="end">0.2</text>
<text x="107.6" y="513.7" font-size="30" text-anchor="end">0.1</text>
<text transform="translate(27.3 349.5) rotate(-90)" font-size="28.4" text-anchor="middle">Distance (m)</text>
<line x1="1327.5" y1="179.0999999999999" x2="1406" y2="179.0999999999999" stroke="#000" stroke-width="3.3" stroke-dasharray="18.8 18.7"/>
<path d="M1404.6 171.4L1417.4 179.1L1404.6 186.8Z" fill="#000"/>
<line x1="1327.5" y1="475.4000000000001" x2="1406" y2="475.4000000000001" stroke="#000" stroke-width="3.3" stroke-dasharray="18.8 18.7"/>
<path d="M1404.6 467.7L1417.4 475.4L1404.6 483.1Z" fill="#000"/>
<clipPath id="lc20"><rect x="1419.0" y="99.1" width="564.5" height="214.7"/></clipPath>
<polyline points="1458.2,312.4 1462.2,301.7 1464.9,264.0 1466.9,223.6 1468.9,181.9 1472.3,219.6 1475.0,231.7 1478.4,191.3 1481.7,146.2 1485.1,165.7 1488.4,191.3 1494.5,218.2 1501.2,195.4 1507.3,214.2 1511.3,237.1 1515.4,257.3 1519.4,272.1 1526.1,275.4 1532.9,267.3 1538.2,271.4 1545.0,285.5 1552.4,300.3 1559.8,303.7 1567.8,303.0 1572.6,303.7 1577.9,286.9 1584.0,284.8 1592.1,281.5 1597.4,282.2 1604.2,285.5 1610.9,282.2 1619.0,276.8 1628.4,269.4 1631.1,265.3 1636.5,249.2 1641.9,229.0 1648.6,220.9 1654.0,204.8 1658.0,188.6 1662.0,171.1 1668.8,160.4 1674.2,165.1 1680.9,152.3 1687.6,147.6 1694.3,152.3 1696.2,151.4 1700.9,148.3 1707.1,178.6 1714.8,158.4 1720.3,134.3 1726.5,135.9 1733.5,142.1 1739.7,203.4 1745.1,195.7 1752.1,206.5 1758.3,184.8 1765.3,156.8 1771.5,146.0 1783.9,141.3 1792.5,149.1 1804.9,163.1 1814.2,180.1 1822.0,188.7 1834.4,211.2 1848.4,236.0 1860.8,253.1 1876.3,273.3 1891.9,291.9 1904.3,304.4 1913.6,311.4" fill="none" stroke="#0072bd" stroke-width="3.8" stroke-linejoin="round" clip-path="url(#lc20)"/>
<polyline points="1456.1,312.4 1460.9,284.2 1464.9,265.3 1469.6,235.1 1471.0,214.9 1475.0,185.3 1477.7,175.2 1480.4,164.4 1487.1,172.5 1496.5,185.9 1503.2,204.8 1510.0,220.9 1514.7,233.0 1518.7,264.0 1523.4,257.3 1526.8,249.9 1532.9,246.5 1536.9,243.8 1539.6,241.1 1545.0,261.3 1550.3,280.8 1557.7,288.2 1561.1,296.3 1564.5,305.7 1569.2,292.2 1574.6,276.1 1577.9,263.3 1585.3,258.6 1592.1,256.6 1598.1,263.3 1604.2,269.4 1609.6,266.7 1613.6,261.3 1621.0,243.1 1627.1,227.7 1630.4,220.2 1633.8,217.6 1639.2,210.2 1645.2,203.4 1649.9,188.6 1654.0,175.2 1656.7,164.4 1659.4,153.6 1664.7,154.3 1668.8,159.0 1672.8,173.8 1690.0,156.1 1699.3,160.0 1706.3,145.2 1711.7,146.0 1717.2,149.1 1727.3,177.8 1733.5,172.4 1740.5,166.2 1752.1,149.1 1761.4,144.4 1769.2,138.2 1777.7,133.6 1792.5,138.2 1804.1,147.5 1810.3,155.3 1816.6,163.8 1825.1,174.7 1835.2,187.1 1840.6,195.7 1845.3,203.4 1865.5,226.7 1870.1,234.5 1875.6,243.0 1895.7,266.3 1902.0,274.1 1908.2,281.8 1928.4,304.4" fill="none" stroke="#a2142f" stroke-width="3.8" stroke-linejoin="round" stroke-dasharray="31.5 18.5" clip-path="url(#lc20)"/>
<path d="M1499.6 99.1v7M1499.6 313.8v-7M1701.2 99.1v7M1701.2 313.8v-7M1902.9 99.1v7M1902.9 313.8v-7M1419.0 134.5h8.5M1983.5 134.5h-8.5M1419.0 224.2h8.5M1983.5 224.2h-8.5" stroke="#000" stroke-width="5" fill="none"/>
<rect x="1419.0" y="99.1" width="564.5" height="214.7" fill="none" stroke="#000" stroke-width="4.8"/>
<text x="1995.5" y="144.1" font-size="30" text-anchor="start">0</text>
<text x="1995.5" y="233.8" font-size="30" text-anchor="start">-20</text>
<text x="1995.5" y="323.4" font-size="30" text-anchor="start">-40</text>
<text x="1440.5" y="140.8" font-size="29.5" text-anchor="start" textLength="115" lengthAdjust="spacingAndGlyphs">z=0.60m</text>
<line x1="1659.3" y1="237.1" x2="1753.3" y2="237.1" stroke="#0072bd" stroke-width="3.9"/>
<line x1="1659.3" y1="276.1" x2="1740.8999999999999" y2="276.1" stroke="#a2142f" stroke-width="3.9" stroke-dasharray="31.5 18.6"/>
<text x="1763.8" y="244.7" font-size="25.2" text-anchor="start">RNN</text>
<text x="1763.8" y="283.8" font-size="25.2" text-anchor="start">GNLSE</text>
<clipPath id="lc21"><rect x="1419.0" y="346.8" width="564.5" height="215.6"/></clipPath>
<polyline points="1449.5,560.6 1461.9,532.6 1469.7,512.4 1479.0,484.5 1482.1,475.2 1488.3,467.4 1494.5,456.5 1500.7,451.9 1507.0,451.9 1516.3,455.8 1525.6,456.5 1534.9,461.2 1544.2,461.2 1553.5,461.2 1559.8,459.6 1567.5,457.3 1575.3,459.6 1581.5,458.9 1587.7,453.4 1601.7,445.7 1609.4,444.9 1612.5,445.7 1620.3,435.6 1631.2,425.5 1640.5,416.2 1646.7,412.3 1656.0,407.6 1662.2,409.2 1668.4,417.7 1674.7,430.1 1682.4,433.2 1688.6,392.1 1694.7,416.9 1704.0,399.1 1708.6,399.1 1714.8,385.9 1720.3,382.8 1727.3,385.1 1741.2,393.6 1753.7,406.1 1766.1,413.1 1780.1,428.6 1792.5,437.9 1801.8,442.6 1809.6,450.3 1820.4,461.2 1834.4,472.8 1846.8,481.4 1860.8,489.9 1876.3,501.6 1890.3,510.9 1904.3,517.9 1919.8,524.9 1935.3,532.6 1950.9,540.4 1966.4,547.4 1981.9,552.8" fill="none" stroke="#0072bd" stroke-width="3.8" stroke-linejoin="round" clip-path="url(#lc21)"/>
<polyline points="1448.7,561.4 1460.4,535.7 1469.7,515.5 1478.2,489.1 1482.1,476.7 1485.2,469.0 1493.0,453.4 1504.6,447.2 1513.2,450.3 1524.0,453.4 1534.9,459.6 1545.8,460.4 1553.5,461.2 1562.9,458.9 1572.2,456.5 1583.0,452.7 1600.1,444.9 1609.4,441.0 1616.4,434.0 1638.9,414.6 1647.5,410.0 1656.0,403.7 1663.8,406.8 1670.0,417.7 1674.7,428.6 1684.0,427.0 1688.6,399.1 1694.7,417.7 1704.0,397.5 1708.6,399.1 1714.8,385.9 1720.3,382.0 1727.3,384.3 1741.2,392.9 1753.7,406.1 1766.1,412.3 1780.1,427.8 1792.5,437.9 1801.8,441.8 1809.6,449.5 1820.4,460.4 1834.4,472.8 1846.8,481.4 1860.8,489.9 1876.3,500.8 1890.3,510.1 1904.3,517.1 1919.8,524.9 1935.3,532.6 1950.9,540.4 1966.4,547.4 1981.9,552.8" fill="none" stroke="#a2142f" stroke-width="3.8" stroke-linejoin="round" stroke-dasharray="31.5 18.5" clip-path="url(#lc21)"/>
<path d="M1499.6 346.8v7M1499.6 562.4v-7M1701.2 346.8v7M1701.2 562.4v-7M1902.9 346.8v7M1902.9 562.4v-7M1419.0 382.4h8.5M1983.5 382.4h-8.5M1419.0 472.4h8.5M1983.5 472.4h-8.5" stroke="#000" stroke-width="5" fill="none"/>
<rect x="1419.0" y="346.8" width="564.5" height="215.6" fill="none" stroke="#000" stroke-width="4.8"/>
<text x="1995.5" y="392.0" font-size="30" text-anchor="start">0</text>
<text x="1995.5" y="482.0" font-size="30" text-anchor="start">-20</text>
<text x="1995.5" y="572.0" font-size="30" text-anchor="start">-40</text>
<text x="1440.5" y="388.5" font-size="29.5" text-anchor="start" textLength="115" lengthAdjust="spacingAndGlyphs">z=0.15m</text>
<text transform="translate(2059.5 332.9) rotate(90)" font-size="29" text-anchor="middle">Spectral intensity (dB)</text>
<text x="1499.6" y="605.0" font-size="30.5" text-anchor="middle">600</text>
<text x="1701.2" y="605.0" font-size="30.5" text-anchor="middle">850</text>
<text x="1902.9" y="605.0" font-size="30.5" text-anchor="middle">1100</text>
<text x="1701.2" y="649.0" font-size="29" text-anchor="middle">Wavelength (nm)</text>
</g>
</svg></body></html>
